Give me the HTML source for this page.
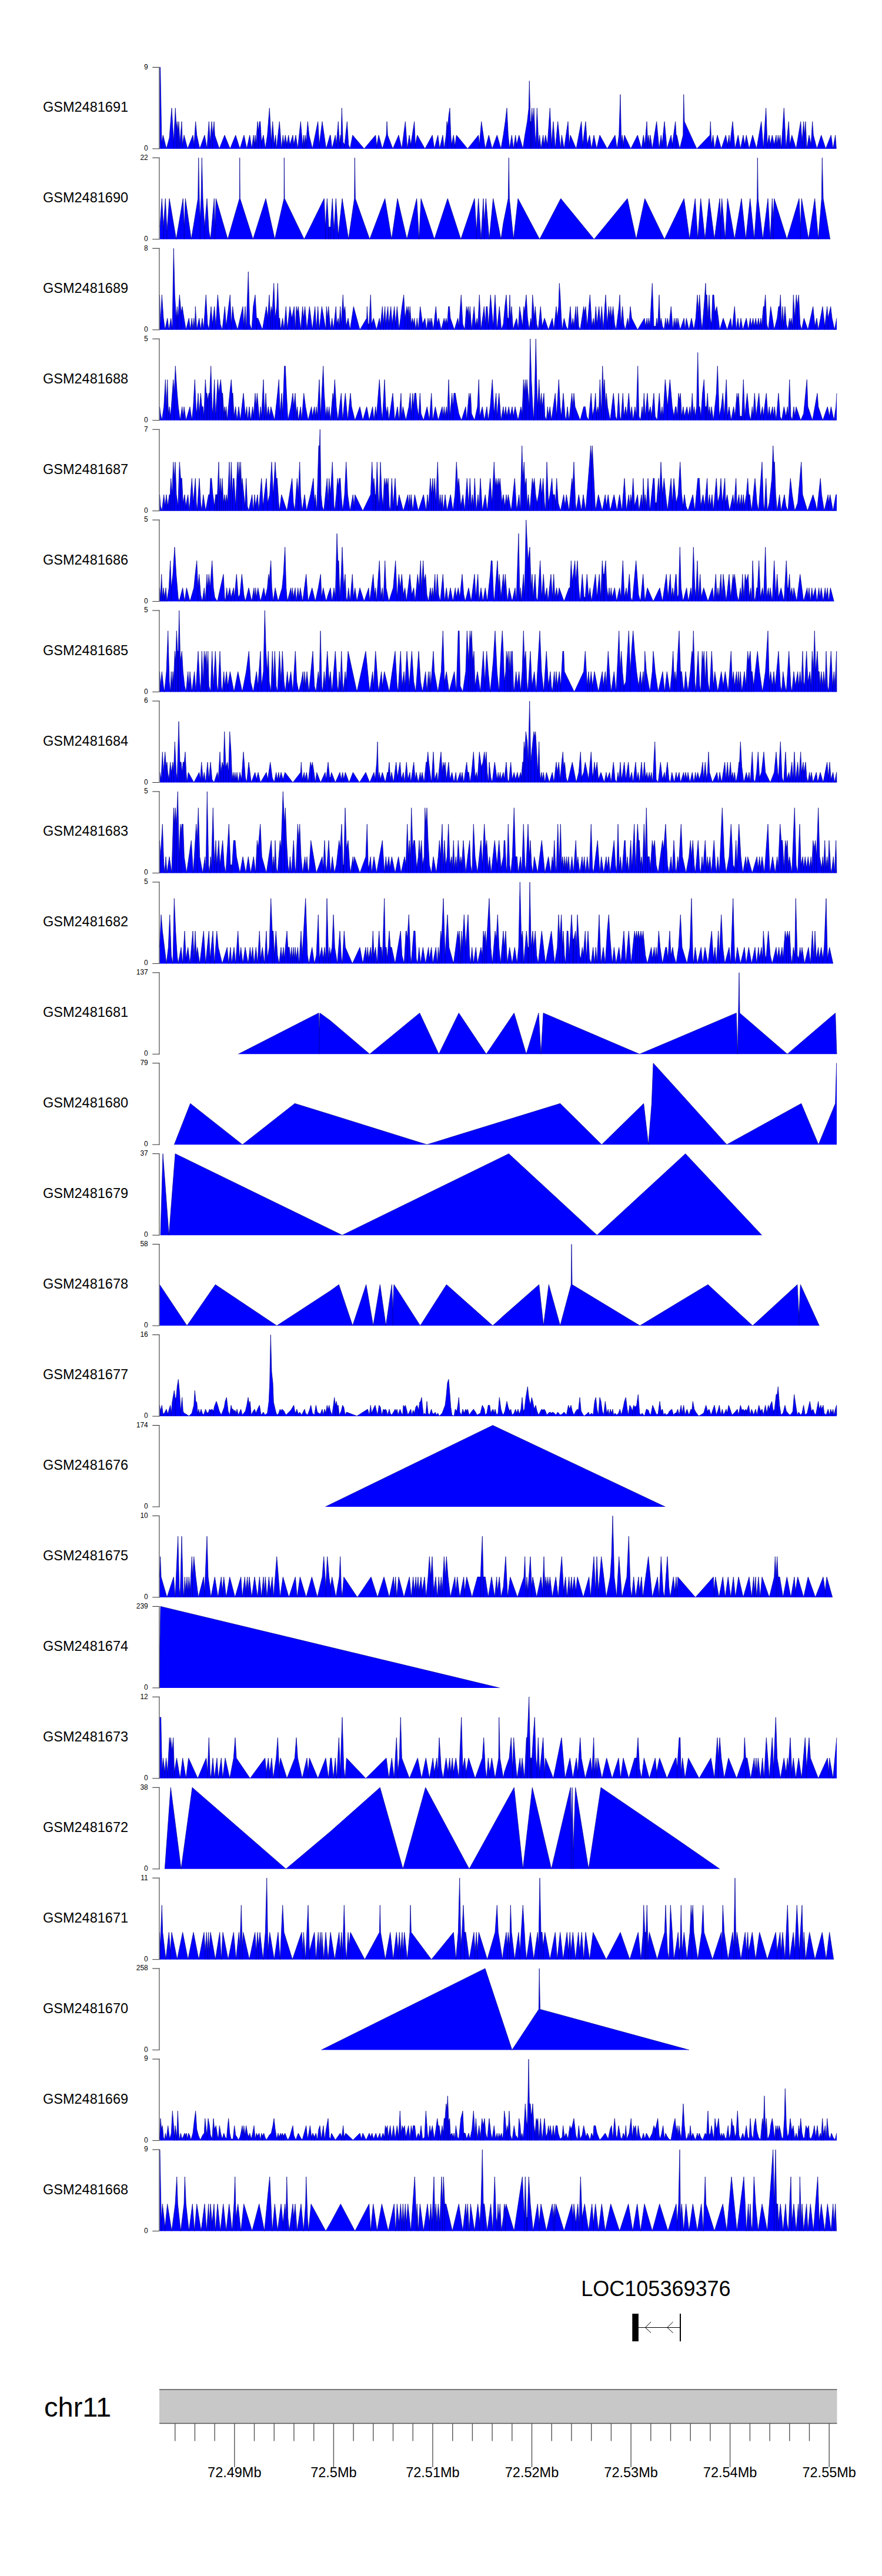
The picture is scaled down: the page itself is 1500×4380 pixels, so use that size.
<!DOCTYPE html><html><head><meta charset="utf-8"><style>html,body{margin:0;padding:0;background:#fff;}svg{display:block;}text{font-family:"Liberation Sans",sans-serif;}</style></head><body>
<svg width="1500" height="4380" viewBox="0 0 1500 4380">
<rect width="1500" height="4380" fill="#fff"/>
<text x="73" y="189.9" font-size="23.5" fill="#000">GSM2481691</text>
<polygon points="271.5,252.9 271.5,114.4 272.7,114.4 275,242.7 277.3,229.8 283,252.9 288,234.4 292,183.7 295.3,241.4 298.3,183.7 300,218.3 301.3,206.7 302.7,222.9 304,206.7 306,243.7 309,206.7 310.3,246 313,229.8 319,252.9 328,229.8 330,246 332.7,206.7 334.7,229.8 339.7,252.9 348,229.8 352,252.9 355.3,206.7 357.3,241.4 360,206.7 361.7,229.8 364,206.7 365.3,229.8 373,252.9 382,229.8 391.3,252.9 400.7,229.8 408,252.9 415,229.8 419.7,252.9 424.7,229.8 428,252.9 431.3,229.8 432.7,246 434,229.8 435.3,246 438,206.7 439.7,222.9 441.3,206.7 442.7,206.7 444.7,241.4 448,229.8 451.3,252.9 454.7,229.8 458.3,183.7 461.3,241.4 463.7,206.7 466.3,246 468.7,229.8 470.3,252.9 475.3,206.7 478.7,252.9 481.3,229.8 483,246 485.3,229.8 488,246 490.7,229.8 493,246 498,229.8 499.7,246 503,229.8 506.3,252.9 511.3,206.7 514.7,248.3 516.3,229.8 517.7,246 519,229.8 520.7,241.4 523.3,206.7 525.7,229.8 531.3,252.9 540.7,206.7 543,246 548,206.7 554.7,252.9 561.3,229.8 562,229.8 564.7,252.9 570.3,229.8 572,246 575.3,206.7 577.3,246 578.7,229.8 579.7,241.4 581.3,183.7 583.3,241.4 586,246 590.3,206.7 592.7,246 595.3,252.9 599.7,229.8 619.3,252.9 638.7,229.8 640.7,248.3 644,229.8 650.3,252.9 657,229.8 658,206.7 659.3,229.8 668,252.9 678,229.8 683.3,252.9 689.3,206.7 692.7,252.9 696,229.8 698.7,246 704.7,206.7 706.3,246 709.7,229.8 722.7,252.9 735.3,229.8 738.7,252.9 744.7,229.8 747.7,252.9 753,229.8 755.3,252.9 758.7,229.8 760,206.7 761.3,216 763.3,195.2 765,183.7 766.7,229.8 768,246 771.3,229.8 773.7,248.3 776.3,229.8 795.3,252.9 813.7,229.8 815.3,246 818.7,206.7 825.3,252.9 831.3,229.8 837,252.9 845.3,229.8 852,252.9 856,229.8 859.3,206.7 862,183.7 864.3,229.8 866.7,252.9 870.3,229.8 873.3,252.9 876.7,229.8 878.7,246 882.7,229.8 889.3,252.9 892.7,229.8 896.7,206.7 899.3,183.7 900.3,137.5 902,206.7 903.3,206.7 904.7,183.7 906,206.7 908,183.7 910,229.8 911.3,246 913.3,183.7 916,246 917.7,229.8 920,252.9 923.7,229.8 925.3,246 927.7,229.8 931,246 935.3,183.7 938,246 941,206.7 944.3,252.9 948.7,206.7 953.3,252.9 955.3,229.8 959.3,252.9 966,206.7 968,246 970,229.8 980,252.9 988.7,206.7 991,246 996,206.7 998.7,246 1002.7,229.8 1006,252.9 1010,229.8 1014.7,252.9 1020,229.8 1032.7,252.9 1046,229.8 1049.3,252.9 1052.7,229.8 1055,160.6 1056.7,241.4 1058.3,229.8 1060,246 1062,229.8 1072.7,252.9 1084.3,229.8 1091,252.9 1094.3,229.8 1096.7,246 1100,206.7 1101.7,241.4 1103.3,229.8 1104.7,246 1106,229.8 1109.3,252.9 1116.7,206.7 1121,252.9 1124.3,229.8 1126,246 1130,206.7 1134.3,252.9 1141.3,229.8 1143.3,246 1148.7,206.7 1150,229.8 1151,229.8 1156,252.9 1161.7,229.8 1162.7,160.6 1164,206.7 1185,252.9 1207.3,229.8 1208.3,206.7 1210,246 1212.7,229.8 1215.3,252.9 1220,229.8 1226.7,252.9 1234.3,229.8 1237.3,246 1240,229.8 1241.3,246 1246,206.7 1250,252.9 1255.3,229.8 1259.3,252.9 1264,229.8 1266.7,246 1269.3,229.8 1274,252.9 1280,229.8 1286.7,252.9 1294.7,206.7 1298.3,252.9 1302.7,183.7 1305,246 1308,229.8 1310,246 1313.3,229.8 1316.7,246 1320,229.8 1321.3,246 1323.3,229.8 1325,241.4 1326.7,229.8 1328.7,252.9 1333.3,183.7 1336.7,252.9 1341.3,206.7 1343.3,246 1346.7,229.8 1354,252.9 1361.7,206.7 1364,241.4 1366.7,206.7 1368.3,229.8 1370,206.7 1372,252.9 1376,229.8 1379.3,246 1381.7,206.7 1383.3,229.8 1389.3,252.9 1396.7,229.8 1404.3,252.9 1413.3,229.8 1416.7,252.9 1420.7,229.8 1422.3,252.9 1422.3,252.9" fill="#0000ff" stroke="none"/>
<polyline points="271.5,114.4 272.7,114.4 275,242.7 277.3,229.8 283,252.9 288,234.4 292,183.7 295.3,241.4 298.3,183.7 300,218.3 301.3,206.7 302.7,222.9 304,206.7 306,243.7 309,206.7 310.3,246 313,229.8 319,252.9 328,229.8 330,246 332.7,206.7 334.7,229.8 339.7,252.9 348,229.8 352,252.9 355.3,206.7 357.3,241.4 360,206.7 361.7,229.8 364,206.7 365.3,229.8 373,252.9 382,229.8 391.3,252.9 400.7,229.8 408,252.9 415,229.8 419.7,252.9 424.7,229.8 428,252.9 431.3,229.8 432.7,246 434,229.8 435.3,246 438,206.7 439.7,222.9 441.3,206.7 442.7,206.7 444.7,241.4 448,229.8 451.3,252.9 454.7,229.8 458.3,183.7 461.3,241.4 463.7,206.7 466.3,246 468.7,229.8 470.3,252.9 475.3,206.7 478.7,252.9 481.3,229.8 483,246 485.3,229.8 488,246 490.7,229.8 493,246 498,229.8 499.7,246 503,229.8 506.3,252.9 511.3,206.7 514.7,248.3 516.3,229.8 517.7,246 519,229.8 520.7,241.4 523.3,206.7 525.7,229.8 531.3,252.9 540.7,206.7 543,246 548,206.7 554.7,252.9 561.3,229.8 562,229.8 564.7,252.9 570.3,229.8 572,246 575.3,206.7 577.3,246 578.7,229.8 579.7,241.4 581.3,183.7 583.3,241.4 586,246 590.3,206.7 592.7,246 595.3,252.9 599.7,229.8 619.3,252.9 638.7,229.8 640.7,248.3 644,229.8 650.3,252.9 657,229.8 658,206.7 659.3,229.8 668,252.9 678,229.8 683.3,252.9 689.3,206.7 692.7,252.9 696,229.8 698.7,246 704.7,206.7 706.3,246 709.7,229.8 722.7,252.9 735.3,229.8 738.7,252.9 744.7,229.8 747.7,252.9 753,229.8 755.3,252.9 758.7,229.8 760,206.7 761.3,216 763.3,195.2 765,183.7 766.7,229.8 768,246 771.3,229.8 773.7,248.3 776.3,229.8 795.3,252.9 813.7,229.8 815.3,246 818.7,206.7 825.3,252.9 831.3,229.8 837,252.9 845.3,229.8 852,252.9 856,229.8 859.3,206.7 862,183.7 864.3,229.8 866.7,252.9 870.3,229.8 873.3,252.9 876.7,229.8 878.7,246 882.7,229.8 889.3,252.9 892.7,229.8 896.7,206.7 899.3,183.7 900.3,137.5 902,206.7 903.3,206.7 904.7,183.7 906,206.7 908,183.7 910,229.8 911.3,246 913.3,183.7 916,246 917.7,229.8 920,252.9 923.7,229.8 925.3,246 927.7,229.8 931,246 935.3,183.7 938,246 941,206.7 944.3,252.9 948.7,206.7 953.3,252.9 955.3,229.8 959.3,252.9 966,206.7 968,246 970,229.8 980,252.9 988.7,206.7 991,246 996,206.7 998.7,246 1002.7,229.8 1006,252.9 1010,229.8 1014.7,252.9 1020,229.8 1032.7,252.9 1046,229.8 1049.3,252.9 1052.7,229.8 1055,160.6 1056.7,241.4 1058.3,229.8 1060,246 1062,229.8 1072.7,252.9 1084.3,229.8 1091,252.9 1094.3,229.8 1096.7,246 1100,206.7 1101.7,241.4 1103.3,229.8 1104.7,246 1106,229.8 1109.3,252.9 1116.7,206.7 1121,252.9 1124.3,229.8 1126,246 1130,206.7 1134.3,252.9 1141.3,229.8 1143.3,246 1148.7,206.7 1150,229.8 1151,229.8 1156,252.9 1161.7,229.8 1162.7,160.6 1164,206.7 1185,252.9 1207.3,229.8 1208.3,206.7 1210,246 1212.7,229.8 1215.3,252.9 1220,229.8 1226.7,252.9 1234.3,229.8 1237.3,246 1240,229.8 1241.3,246 1246,206.7 1250,252.9 1255.3,229.8 1259.3,252.9 1264,229.8 1266.7,246 1269.3,229.8 1274,252.9 1280,229.8 1286.7,252.9 1294.7,206.7 1298.3,252.9 1302.7,183.7 1305,246 1308,229.8 1310,246 1313.3,229.8 1316.7,246 1320,229.8 1321.3,246 1323.3,229.8 1325,241.4 1326.7,229.8 1328.7,252.9 1333.3,183.7 1336.7,252.9 1341.3,206.7 1343.3,246 1346.7,229.8 1354,252.9 1361.7,206.7 1364,241.4 1366.7,206.7 1368.3,229.8 1370,206.7 1372,252.9 1376,229.8 1379.3,246 1381.7,206.7 1383.3,229.8 1389.3,252.9 1396.7,229.8 1404.3,252.9 1413.3,229.8 1416.7,252.9 1420.7,229.8 1422.3,252.9" fill="none" stroke="#000088" stroke-width="0.7"/>
<path d="M275,252.9V242.7M295.3,252.9V241.4M300,252.9V218.3M302.7,252.9V222.9M306,252.9V243.7M310.3,252.9V246M330,252.9V246M357.3,252.9V241.4M361.7,252.9V229.8M432.7,252.9V246M435.3,252.9V246M439.7,252.9V222.9M444.7,252.9V241.4M461.3,252.9V241.4M466.3,252.9V246M483,252.9V246M488,252.9V246M493,252.9V246M499.7,252.9V246M514.7,252.9V248.3M517.7,252.9V246M520.7,252.9V241.4M543,252.9V246M572,252.9V246M577.3,252.9V246M579.7,252.9V241.4M586,252.9V246M640.7,252.9V248.3M698.7,252.9V246M706.3,252.9V246M761.3,252.9V216M768,252.9V246M773.7,252.9V248.3M815.3,252.9V246M878.7,252.9V246M902,252.9V206.7M903.3,252.9V206.7M906,252.9V206.7M911.3,252.9V246M916,252.9V246M925.3,252.9V246M931,252.9V246M938,252.9V246M968,252.9V246M991,252.9V246M998.7,252.9V246M1056.7,252.9V241.4M1060,252.9V246M1096.7,252.9V246M1101.7,252.9V241.4M1104.7,252.9V246M1126,252.9V246M1143.3,252.9V246M1150,252.9V229.8M1210,252.9V246M1237.3,252.9V246M1241.3,252.9V246M1266.7,252.9V246M1305,252.9V246M1310,252.9V246M1316.7,252.9V246M1321.3,252.9V246M1325,252.9V241.4M1343.3,252.9V246M1364,252.9V241.4M1368.3,252.9V229.8M1379.3,252.9V246" fill="none" stroke="#000088" stroke-width="0.8"/>
<path d="M259.2,114.4 H271.4" fill="none" stroke="#222" stroke-width="1"/>
<path d="M259.2,252.9 H271.4" fill="none" stroke="#333" stroke-width="1"/>
<path d="M270.9,113.9 V253.4" fill="none" stroke="#555" stroke-width="1.3"/>
<text x="251.8" y="117.7" font-size="12" text-anchor="end" fill="#000">9</text>
<text x="251.8" y="255.9" font-size="12" text-anchor="end" fill="#000">0</text>
<text x="73" y="343.8" font-size="23.5" fill="#000">GSM2481690</text>
<polygon points="272,406.8 272,386.1 275.3,337.6 278,386.1 281.3,337.6 284,393 288,337.6 299.7,406.8 311.3,337.6 313.3,386.1 315.3,337.6 325.3,406.8 336.7,337.6 337.7,268.3 339,337.6 340.3,372.2 342,337.6 343.3,268.3 345,337.6 348,386.1 352,337.6 355.3,393 358,406.8 364.3,337.6 365.7,386.1 367.3,337.6 387.3,406.8 407.3,337.6 407.7,268.3 408.3,337.6 430.3,406.8 452,337.6 467.3,406.8 483,337.6 483.3,268.3 484,337.6 517.3,406.8 551.3,337.6 553.3,386.1 556.3,337.6 559,386.1 562,386.1 565.3,337.6 568,393 571.3,337.6 575.3,399.9 582,337.6 592.7,406.8 602.7,337.6 603.3,268.3 604.3,337.6 628.7,406.8 654.7,337.6 666,406.8 676,337.6 692,406.8 708.7,337.6 712.7,406.8 716,337.6 738.7,406.8 761.3,337.6 783.7,406.8 807,337.6 810.3,393 813.7,337.6 818,406.8 822,337.6 823.7,379.1 826.3,337.6 832,406.8 838.7,337.6 852,406.8 856,379.1 864.3,337.6 865.3,268.3 866.3,337.6 873.3,406.8 881,337.6 917.7,406.8 953.7,337.6 1010.3,406.8 1067,337.6 1082,406.8 1096.7,337.6 1130,406.8 1150,365.3 1163.3,337.6 1172.7,406.8 1182.3,337.6 1186.7,406.8 1191.7,337.6 1199,406.8 1206,337.6 1215,406.8 1224,337.6 1225.7,372.2 1227.7,337.6 1233.3,406.8 1237.3,337.6 1249.3,406.8 1261,337.6 1268.3,406.8 1275.7,337.6 1282.7,406.8 1287.7,337.6 1288.3,268.3 1289.3,337.6 1297.3,406.8 1306,337.6 1310,406.8 1313.3,337.6 1315,372.2 1316.7,337.6 1338.3,406.8 1359,337.6 1361.3,386.1 1363.3,337.6 1375,406.8 1385.7,337.6 1391.7,406.8 1397.3,337.6 1398.3,268.3 1400,337.6 1411.7,406.8 1411.7,406.8" fill="#0000ff" stroke="none"/>
<polyline points="272,386.1 275.3,337.6 278,386.1 281.3,337.6 284,393 288,337.6 299.7,406.8 311.3,337.6 313.3,386.1 315.3,337.6 325.3,406.8 336.7,337.6 337.7,268.3 339,337.6 340.3,372.2 342,337.6 343.3,268.3 345,337.6 348,386.1 352,337.6 355.3,393 358,406.8 364.3,337.6 365.7,386.1 367.3,337.6 387.3,406.8 407.3,337.6 407.7,268.3 408.3,337.6 430.3,406.8 452,337.6 467.3,406.8 483,337.6 483.3,268.3 484,337.6 517.3,406.8 551.3,337.6 553.3,386.1 556.3,337.6 559,386.1 562,386.1 565.3,337.6 568,393 571.3,337.6 575.3,399.9 582,337.6 592.7,406.8 602.7,337.6 603.3,268.3 604.3,337.6 628.7,406.8 654.7,337.6 666,406.8 676,337.6 692,406.8 708.7,337.6 712.7,406.8 716,337.6 738.7,406.8 761.3,337.6 783.7,406.8 807,337.6 810.3,393 813.7,337.6 818,406.8 822,337.6 823.7,379.1 826.3,337.6 832,406.8 838.7,337.6 852,406.8 856,379.1 864.3,337.6 865.3,268.3 866.3,337.6 873.3,406.8 881,337.6 917.7,406.8 953.7,337.6 1010.3,406.8 1067,337.6 1082,406.8 1096.7,337.6 1130,406.8 1150,365.3 1163.3,337.6 1172.7,406.8 1182.3,337.6 1186.7,406.8 1191.7,337.6 1199,406.8 1206,337.6 1215,406.8 1224,337.6 1225.7,372.2 1227.7,337.6 1233.3,406.8 1237.3,337.6 1249.3,406.8 1261,337.6 1268.3,406.8 1275.7,337.6 1282.7,406.8 1287.7,337.6 1288.3,268.3 1289.3,337.6 1297.3,406.8 1306,337.6 1310,406.8 1313.3,337.6 1315,372.2 1316.7,337.6 1338.3,406.8 1359,337.6 1361.3,386.1 1363.3,337.6 1375,406.8 1385.7,337.6 1391.7,406.8 1397.3,337.6 1398.3,268.3 1400,337.6 1411.7,406.8" fill="none" stroke="#000088" stroke-width="0.7"/>
<path d="M278,406.8V386.1M284,406.8V393M313.3,406.8V386.1M340.3,406.8V372.2M348,406.8V386.1M365.7,406.8V386.1M553.3,406.8V386.1M559,406.8V386.1M562,406.8V386.1M568,406.8V393M575.3,406.8V399.9M810.3,406.8V393M823.7,406.8V379.1M1225.7,406.8V372.2M1315,406.8V372.2M1361.3,406.8V386.1" fill="none" stroke="#000088" stroke-width="0.8"/>
<path d="M259.2,268.3 H271.4" fill="none" stroke="#222" stroke-width="1"/>
<path d="M259.2,406.8 H271.4" fill="none" stroke="#333" stroke-width="1"/>
<path d="M270.9,267.8 V407.3" fill="none" stroke="#555" stroke-width="1.3"/>
<text x="251.8" y="271.6" font-size="12" text-anchor="end" fill="#000">22</text>
<text x="251.8" y="409.8" font-size="12" text-anchor="end" fill="#000">0</text>
<text x="73" y="497.8" font-size="23.5" fill="#000">GSM2481689</text>
<polygon points="271.5,560.8 271.5,501.4 273,550.9 275.3,501.4 278,541 280.7,560.8 284.7,541 287.3,560.8 290.7,541 293,560.8 295.3,422.3 297.3,501.4 299.7,541 301.3,521.2 302.7,541 305.3,501.4 308,531.1 310,521.2 313,541 316.3,560.8 321.3,541 323.7,560.8 326.3,541 328,560.8 329.7,541 331.3,560.8 332.3,521.2 334.7,560.8 338.7,541 341.3,560.8 344,541 346.3,560.8 350.3,501.4 353,550.9 355.3,560.8 359,521.2 361.3,550.9 364.7,521.2 367,554.8 370.3,501.4 372,521.2 374.7,550.9 378,560.8 382.3,521.2 384.7,554.8 391.3,501.4 393.3,550.9 395.7,521.2 398,541 404,560.8 413,521.2 414.7,554.8 417,521.2 418.7,560.8 422.3,461.9 424.7,550.9 428,560.8 430.7,521.2 434,501.4 436.3,541 438.7,541 446.3,560.8 453,521.2 455.3,541 458,501.4 459.7,541 461.3,521.2 463,531.1 465.7,481.6 468,541 470.7,521.2 472.3,481.6 474.3,541 475.7,541 477.3,560.8 480.7,541 483,560.8 486.3,521.2 488.7,560.8 493,521.2 496.3,541 500.3,521.2 502.3,560.8 504,521.2 505.7,531.1 507.3,521.2 511.3,560.8 514.7,521.2 516.3,541 518.7,521.2 522,560.8 526.3,521.2 531.3,560.8 535.7,521.2 538,560.8 540.7,521.2 543,560.8 547.3,521.2 550.7,541 554,560.8 555.3,521.2 557.3,541 558.7,521.2 562,560.8 564.7,541 567,560.8 571.3,521.2 572.7,550.9 575.3,541 576.7,554.8 578.7,521.2 580.3,550.9 583.3,501.4 584.7,531.1 586.7,521.2 588.7,554.8 592,541 595.3,560.8 601.3,521.2 612,560.8 623.7,541 624.3,521.2 626,550.9 627.7,550.9 630.3,501.4 632,550.9 635.3,541 640.3,560.8 645.3,541 647,554.8 650.3,521.2 652,550.9 654.7,521.2 656,550.9 659.7,521.2 661.3,550.9 664.7,521.2 667,550.9 670.7,521.2 672.7,550.9 675.3,521.2 678.7,560.8 683.7,521.2 686.7,501.4 688.7,541 692,521.2 693.3,531.1 694.7,521.2 696,541 697.3,521.2 699.3,550.9 701.3,541 703.3,550.9 704.7,541 707,560.8 709.3,541 711.3,560.8 714.7,521.2 718.7,550.9 722.7,541 725.3,560.8 728,541 729.7,550.9 731.3,541 732.7,550.9 734,541 737,560.8 741.3,521.2 743.7,550.9 746,541 750.3,560.8 755.3,541 757,550.9 758.7,541 760.7,550.9 762.7,521.2 764.3,521.2 766,541 772.7,560.8 778.7,541 780.3,554.8 784.3,501.4 787,550.9 790.3,560.8 793.3,521.2 794.7,531.1 796.3,521.2 798,541 799.3,521.2 802,560.8 806.3,521.2 808.7,554.8 811.3,541 812.7,554.8 815.3,501.4 818,560.8 823.3,521.2 825.3,550.9 827,521.2 828.7,521.2 830.7,554.8 834.3,501.4 838.7,554.8 842,501.4 845.3,560.8 849.3,521.2 852.7,560.8 856,550.9 858.7,521.2 861,501.4 863.3,541 865.3,541 867,501.4 868.3,541 870,521.2 872.7,560.8 875.3,550.9 878.7,541 881.3,560.8 883.7,521.2 886.7,541 888.7,554.8 890.7,521.2 892,531.1 895,501.4 897.3,541 900,560.8 902.7,541 904,550.9 905.7,501.4 907.3,521.2 908.7,541 910.3,521.2 912.7,550.9 915.3,560.8 919.3,521.2 922,554.8 926,541 932.7,560.8 939.3,541 942,560.8 946,521.2 947.7,541 950,521.2 951.3,481.6 952.7,501.4 954.7,541 956,560.8 959.3,541 962.7,554.8 966,560.8 970,521.2 972,554.8 974.3,541 976,554.8 979.3,521.2 980.7,550.9 982,521.2 984.3,554.8 986.7,560.8 992.7,521.2 994,531.1 996,521.2 998.7,554.8 1003.3,501.4 1006.7,554.8 1009.3,541 1011,554.8 1013.3,521.2 1015.3,550.9 1018.7,521.2 1021,550.9 1023.3,521.2 1026,560.8 1030,501.4 1032.7,550.9 1035.3,521.2 1037,541 1038.7,521.2 1040.3,541 1042.7,521.2 1045.3,550.9 1047.7,560.8 1052.7,521.2 1054,501.4 1056,550.9 1058.7,521.2 1061,550.9 1063.3,560.8 1067.7,541 1069.3,554.8 1072,521.2 1074.3,541 1084.3,560.8 1096,541 1097.7,554.8 1100.3,541 1101.7,554.8 1103.3,541 1105.3,554.8 1109.3,481.6 1112,554.8 1115.3,554.8 1117,541 1118.7,554.8 1121,501.4 1122.7,550.9 1124.3,541 1126.7,554.8 1129.3,560.8 1132,541 1133.3,554.8 1135.3,541 1137.7,554.8 1141.3,521.2 1144.3,560.8 1146.7,541 1148,554.8 1150,541 1151.7,554.8 1152.7,541 1156.7,560.8 1163.3,541 1165,560.8 1167.3,541 1171.7,560.8 1176,541 1180,560.8 1183.3,541 1186,501.4 1188,531.1 1189.7,501.4 1192,541 1194,560.8 1197.3,521.2 1198.7,501.4 1200,481.6 1200.7,501.4 1202.3,501.4 1204,541 1206,501.4 1208,541 1210,550.9 1212,501.4 1214,501.4 1216,531.1 1219,521.2 1221.7,541 1224,560.8 1230,541 1236.7,560.8 1242.7,541 1245,560.8 1249.3,521.2 1252,560.8 1255,541 1257.3,560.8 1260,541 1263.3,560.8 1269.3,541 1272.7,560.8 1276,541 1278,554.8 1280.7,541 1282.7,554.8 1285.3,541 1287.3,554.8 1290,541 1291.7,554.8 1294,541 1295.3,554.8 1298.3,521.2 1300,521.2 1301.7,501.4 1304,550.9 1306.7,560.8 1310.7,521.2 1316.7,560.8 1321.7,541 1324,521.2 1326,521.2 1327.3,501.4 1329.3,550.9 1331,521.2 1332.7,550.9 1335,521.2 1337.3,550.9 1340,560.8 1342.7,541 1344,550.9 1345.7,541 1347.7,554.8 1349.3,501.4 1351.7,541 1354.3,501.4 1356,521.2 1358.3,501.4 1360.7,550.9 1363.3,560.8 1367.3,541 1374,560.8 1382.7,521.2 1386,554.8 1389,541 1391.7,560.8 1399,521.2 1402.7,554.8 1406.7,521.2 1408.3,541 1412.7,521.2 1415,541 1419.3,560.8 1423,541 1423,560.8" fill="#0000ff" stroke="none"/>
<polyline points="271.5,501.4 273,550.9 275.3,501.4 278,541 280.7,560.8 284.7,541 287.3,560.8 290.7,541 293,560.8 295.3,422.3 297.3,501.4 299.7,541 301.3,521.2 302.7,541 305.3,501.4 308,531.1 310,521.2 313,541 316.3,560.8 321.3,541 323.7,560.8 326.3,541 328,560.8 329.7,541 331.3,560.8 332.3,521.2 334.7,560.8 338.7,541 341.3,560.8 344,541 346.3,560.8 350.3,501.4 353,550.9 355.3,560.8 359,521.2 361.3,550.9 364.7,521.2 367,554.8 370.3,501.4 372,521.2 374.7,550.9 378,560.8 382.3,521.2 384.7,554.8 391.3,501.4 393.3,550.9 395.7,521.2 398,541 404,560.8 413,521.2 414.7,554.8 417,521.2 418.7,560.8 422.3,461.9 424.7,550.9 428,560.8 430.7,521.2 434,501.4 436.3,541 438.7,541 446.3,560.8 453,521.2 455.3,541 458,501.4 459.7,541 461.3,521.2 463,531.1 465.7,481.6 468,541 470.7,521.2 472.3,481.6 474.3,541 475.7,541 477.3,560.8 480.7,541 483,560.8 486.3,521.2 488.7,560.8 493,521.2 496.3,541 500.3,521.2 502.3,560.8 504,521.2 505.7,531.1 507.3,521.2 511.3,560.8 514.7,521.2 516.3,541 518.7,521.2 522,560.8 526.3,521.2 531.3,560.8 535.7,521.2 538,560.8 540.7,521.2 543,560.8 547.3,521.2 550.7,541 554,560.8 555.3,521.2 557.3,541 558.7,521.2 562,560.8 564.7,541 567,560.8 571.3,521.2 572.7,550.9 575.3,541 576.7,554.8 578.7,521.2 580.3,550.9 583.3,501.4 584.7,531.1 586.7,521.2 588.7,554.8 592,541 595.3,560.8 601.3,521.2 612,560.8 623.7,541 624.3,521.2 626,550.9 627.7,550.9 630.3,501.4 632,550.9 635.3,541 640.3,560.8 645.3,541 647,554.8 650.3,521.2 652,550.9 654.7,521.2 656,550.9 659.7,521.2 661.3,550.9 664.7,521.2 667,550.9 670.7,521.2 672.7,550.9 675.3,521.2 678.7,560.8 683.7,521.2 686.7,501.4 688.7,541 692,521.2 693.3,531.1 694.7,521.2 696,541 697.3,521.2 699.3,550.9 701.3,541 703.3,550.9 704.7,541 707,560.8 709.3,541 711.3,560.8 714.7,521.2 718.7,550.9 722.7,541 725.3,560.8 728,541 729.7,550.9 731.3,541 732.7,550.9 734,541 737,560.8 741.3,521.2 743.7,550.9 746,541 750.3,560.8 755.3,541 757,550.9 758.7,541 760.7,550.9 762.7,521.2 764.3,521.2 766,541 772.7,560.8 778.7,541 780.3,554.8 784.3,501.4 787,550.9 790.3,560.8 793.3,521.2 794.7,531.1 796.3,521.2 798,541 799.3,521.2 802,560.8 806.3,521.2 808.7,554.8 811.3,541 812.7,554.8 815.3,501.4 818,560.8 823.3,521.2 825.3,550.9 827,521.2 828.7,521.2 830.7,554.8 834.3,501.4 838.7,554.8 842,501.4 845.3,560.8 849.3,521.2 852.7,560.8 856,550.9 858.7,521.2 861,501.4 863.3,541 865.3,541 867,501.4 868.3,541 870,521.2 872.7,560.8 875.3,550.9 878.7,541 881.3,560.8 883.7,521.2 886.7,541 888.7,554.8 890.7,521.2 892,531.1 895,501.4 897.3,541 900,560.8 902.7,541 904,550.9 905.7,501.4 907.3,521.2 908.7,541 910.3,521.2 912.7,550.9 915.3,560.8 919.3,521.2 922,554.8 926,541 932.7,560.8 939.3,541 942,560.8 946,521.2 947.7,541 950,521.2 951.3,481.6 952.7,501.4 954.7,541 956,560.8 959.3,541 962.7,554.8 966,560.8 970,521.2 972,554.8 974.3,541 976,554.8 979.3,521.2 980.7,550.9 982,521.2 984.3,554.8 986.7,560.8 992.7,521.2 994,531.1 996,521.2 998.7,554.8 1003.3,501.4 1006.7,554.8 1009.3,541 1011,554.8 1013.3,521.2 1015.3,550.9 1018.7,521.2 1021,550.9 1023.3,521.2 1026,560.8 1030,501.4 1032.7,550.9 1035.3,521.2 1037,541 1038.7,521.2 1040.3,541 1042.7,521.2 1045.3,550.9 1047.7,560.8 1052.7,521.2 1054,501.4 1056,550.9 1058.7,521.2 1061,550.9 1063.3,560.8 1067.7,541 1069.3,554.8 1072,521.2 1074.3,541 1084.3,560.8 1096,541 1097.7,554.8 1100.3,541 1101.7,554.8 1103.3,541 1105.3,554.8 1109.3,481.6 1112,554.8 1115.3,554.8 1117,541 1118.7,554.8 1121,501.4 1122.7,550.9 1124.3,541 1126.7,554.8 1129.3,560.8 1132,541 1133.3,554.8 1135.3,541 1137.7,554.8 1141.3,521.2 1144.3,560.8 1146.7,541 1148,554.8 1150,541 1151.7,554.8 1152.7,541 1156.7,560.8 1163.3,541 1165,560.8 1167.3,541 1171.7,560.8 1176,541 1180,560.8 1183.3,541 1186,501.4 1188,531.1 1189.7,501.4 1192,541 1194,560.8 1197.3,521.2 1198.7,501.4 1200,481.6 1200.7,501.4 1202.3,501.4 1204,541 1206,501.4 1208,541 1210,550.9 1212,501.4 1214,501.4 1216,531.1 1219,521.2 1221.7,541 1224,560.8 1230,541 1236.7,560.8 1242.7,541 1245,560.8 1249.3,521.2 1252,560.8 1255,541 1257.3,560.8 1260,541 1263.3,560.8 1269.3,541 1272.7,560.8 1276,541 1278,554.8 1280.7,541 1282.7,554.8 1285.3,541 1287.3,554.8 1290,541 1291.7,554.8 1294,541 1295.3,554.8 1298.3,521.2 1300,521.2 1301.7,501.4 1304,550.9 1306.7,560.8 1310.7,521.2 1316.7,560.8 1321.7,541 1324,521.2 1326,521.2 1327.3,501.4 1329.3,550.9 1331,521.2 1332.7,550.9 1335,521.2 1337.3,550.9 1340,560.8 1342.7,541 1344,550.9 1345.7,541 1347.7,554.8 1349.3,501.4 1351.7,541 1354.3,501.4 1356,521.2 1358.3,501.4 1360.7,550.9 1363.3,560.8 1367.3,541 1374,560.8 1382.7,521.2 1386,554.8 1389,541 1391.7,560.8 1399,521.2 1402.7,554.8 1406.7,521.2 1408.3,541 1412.7,521.2 1415,541 1419.3,560.8 1423,541" fill="none" stroke="#000088" stroke-width="0.7"/>
<path d="M273,560.8V550.9M299.7,560.8V541M302.7,560.8V541M308,560.8V531.1M361.3,560.8V550.9M367,560.8V554.8M384.7,560.8V554.8M393.3,560.8V550.9M414.7,560.8V554.8M436.3,560.8V541M455.3,560.8V541M459.7,560.8V541M463,560.8V531.1M468,560.8V541M474.3,560.8V541M496.3,560.8V541M505.7,560.8V531.1M516.3,560.8V541M557.3,560.8V541M572.7,560.8V550.9M576.7,560.8V554.8M580.3,560.8V550.9M584.7,560.8V531.1M588.7,560.8V554.8M626,560.8V550.9M627.7,560.8V550.9M632,560.8V550.9M647,560.8V554.8M652,560.8V550.9M656,560.8V550.9M661.3,560.8V550.9M667,560.8V550.9M672.7,560.8V550.9M688.7,560.8V541M693.3,560.8V531.1M696,560.8V541M699.3,560.8V550.9M703.3,560.8V550.9M718.7,560.8V550.9M729.7,560.8V550.9M732.7,560.8V550.9M743.7,560.8V550.9M757,560.8V550.9M760.7,560.8V550.9M780.3,560.8V554.8M794.7,560.8V531.1M798,560.8V541M808.7,560.8V554.8M812.7,560.8V554.8M825.3,560.8V550.9M830.7,560.8V554.8M838.7,560.8V554.8M863.3,560.8V541M865.3,560.8V541M868.3,560.8V541M888.7,560.8V554.8M892,560.8V531.1M904,560.8V550.9M908.7,560.8V541M922,560.8V554.8M947.7,560.8V541M972,560.8V554.8M976,560.8V554.8M980.7,560.8V550.9M994,560.8V531.1M998.7,560.8V554.8M1006.7,560.8V554.8M1011,560.8V554.8M1015.3,560.8V550.9M1021,560.8V550.9M1032.7,560.8V550.9M1037,560.8V541M1040.3,560.8V541M1056,560.8V550.9M1069.3,560.8V554.8M1097.7,560.8V554.8M1101.7,560.8V554.8M1105.3,560.8V554.8M1112,560.8V554.8M1115.3,560.8V554.8M1118.7,560.8V554.8M1122.7,560.8V550.9M1133.3,560.8V554.8M1137.7,560.8V554.8M1148,560.8V554.8M1151.7,560.8V554.8M1188,560.8V531.1M1200.7,560.8V501.4M1204,560.8V541M1210,560.8V550.9M1216,560.8V531.1M1278,560.8V554.8M1282.7,560.8V554.8M1287.3,560.8V554.8M1291.7,560.8V554.8M1295.3,560.8V554.8M1300,560.8V521.2M1326,560.8V521.2M1329.3,560.8V550.9M1332.7,560.8V550.9M1344,560.8V550.9M1347.7,560.8V554.8M1351.7,560.8V541M1356,560.8V521.2M1386,560.8V554.8M1402.7,560.8V554.8M1408.3,560.8V541" fill="none" stroke="#000088" stroke-width="0.8"/>
<path d="M259.2,422.3 H271.4" fill="none" stroke="#222" stroke-width="1"/>
<path d="M259.2,560.8 H271.4" fill="none" stroke="#333" stroke-width="1"/>
<path d="M270.9,421.8 V561.3" fill="none" stroke="#555" stroke-width="1.3"/>
<text x="251.8" y="425.6" font-size="12" text-anchor="end" fill="#000">8</text>
<text x="251.8" y="563.8" font-size="12" text-anchor="end" fill="#000">0</text>
<text x="73" y="651.7" font-size="23.5" fill="#000">GSM2481688</text>
<polygon points="271.5,714.7 271.5,691.6 273,703.2 275.3,714.7 278.7,691.6 281.3,645.5 283,691.6 284.7,645.5 286.3,703.2 288,691.6 289.7,707.8 291.3,691.6 294.7,645.5 296.3,668.6 298.3,622.4 299.7,645.5 301.3,668.6 303.3,691.6 306.3,714.7 309.7,691.6 311.3,707.8 313,691.6 316.3,714.7 323,691.6 326.3,714.7 328.7,691.6 331.3,645.5 333.3,691.6 334.7,703.2 337,668.6 338.7,703.2 341.3,668.6 343.3,691.6 345.3,691.6 346.7,707.8 349.3,645.5 350.7,668.6 352,668.6 353.3,680.1 355.3,668.6 356.7,668.6 358.7,622.4 360.7,691.6 362,703.2 364.7,645.5 366.7,707.8 370.3,645.5 372,668.6 375.3,645.5 377.3,668.6 378.7,668.6 380.7,703.2 382,691.6 383.3,703.2 384.7,691.6 386.3,714.7 390.7,668.6 393.3,645.5 394.7,668.6 396,668.6 398,707.8 400.7,691.6 403,714.7 406,691.6 408.7,714.7 414,668.6 417.3,707.8 419.7,691.6 421.3,714.7 424,691.6 426.3,714.7 429.7,691.6 431.3,707.8 434,668.6 435.7,691.6 437.3,668.6 439.3,691.6 441.3,714.7 443,691.6 444.7,707.8 448,645.5 450,707.8 452,668.6 454,707.8 456.3,691.6 458.7,707.8 460.7,691.6 467,714.7 472,668.6 474.3,645.5 476.3,703.2 479,668.6 480.7,703.2 483.7,622.4 485.3,622.4 487.3,668.6 489.7,714.7 494.7,691.6 498,668.6 499.7,691.6 502,668.6 504,703.2 505.7,691.6 507.3,714.7 511.3,691.6 513,714.7 516.7,668.6 519.7,691.6 524,714.7 529.7,691.6 531.3,707.8 534.7,691.6 536.3,707.8 538,691.6 539.7,707.8 543,645.5 545.3,707.8 547.3,668.6 549.7,622.4 551.3,668.6 554,707.8 556.3,691.6 558,707.8 559.7,691.6 562,714.7 566,668.6 567.3,680.1 569.3,645.5 572,691.6 574.7,714.7 580.3,668.6 582.7,714.7 587.3,668.6 591.3,714.7 596,668.6 598,691.6 603.7,714.7 612,691.6 617,714.7 623.7,691.6 628,714.7 633.7,691.6 636,714.7 638.7,691.6 640.3,707.8 645.3,645.5 648,691.6 650.3,714.7 654,645.5 656,691.6 658,703.2 659.3,691.6 661.3,714.7 668,668.6 671.3,714.7 676,691.6 678.7,714.7 682,668.6 683.3,707.8 685.3,691.6 690.3,714.7 695.3,691.6 697.7,668.6 699.3,703.2 702,668.6 703.3,691.6 705.3,668.6 707.3,668.6 709.3,691.6 712,707.8 714.3,668.6 716,703.2 720.3,714.7 726.3,691.6 730.3,714.7 733.7,668.6 736,714.7 740.3,691.6 745.3,714.7 752,691.6 753.7,707.8 755.3,691.6 757,707.8 759.3,691.6 760.7,707.8 763,645.5 765.3,707.8 768.7,668.6 770.3,691.6 772,668.6 774.3,668.6 776,680.1 780.3,703.2 784.7,714.7 792,691.6 793.7,714.7 797.7,668.6 798.7,680.1 800.3,668.6 802,703.2 807,714.7 812,691.6 814.3,645.5 816,707.8 820.3,691.6 823.7,714.7 828,691.6 830.3,714.7 833.7,691.6 837.3,645.5 840.3,703.2 843.7,668.6 845.3,707.8 848.7,668.6 852,714.7 856,691.6 857.7,707.8 860,691.6 862,707.8 865.3,691.6 867.7,707.8 871,691.6 873.3,707.8 876,691.6 881,714.7 886,691.6 888,703.2 890.3,645.5 891.7,668.6 893.3,645.5 894.7,668.6 896,645.5 898,668.6 900,691.6 901.7,576.2 903.7,645.5 906,691.6 907.7,714.7 909.3,668.6 911.3,576.2 913.3,668.6 914.7,691.6 916.7,645.5 918.7,691.6 920.7,668.6 922,691.6 925,668.6 926.7,707.8 929.3,714.7 931.3,691.6 932.7,707.8 935.3,691.6 937.7,714.7 941,691.6 944.3,668.6 946.7,707.8 950.3,645.5 952.7,691.6 954.7,707.8 958,668.6 961,707.8 962.7,714.7 965,691.6 967.7,714.7 972.7,668.6 974,691.6 976,668.6 978,691.6 986.7,714.7 992.7,691.6 995.3,691.6 997.7,707.8 1001,714.7 1005.3,668.6 1007.7,707.8 1011,691.6 1012.7,668.6 1014.3,703.2 1016.7,691.6 1018.3,703.2 1020.3,645.5 1022.7,703.2 1024.7,622.4 1026.7,668.6 1028,645.5 1030,691.6 1031.3,668.6 1033.3,691.6 1037.7,714.7 1043.3,668.6 1046.7,707.8 1049.3,714.7 1052,668.6 1054.3,707.8 1056,714.7 1059.3,668.6 1061.3,707.8 1064,691.6 1066,707.8 1069.3,668.6 1072,707.8 1074.3,691.6 1076.7,714.7 1080,691.6 1082,707.8 1084.7,622.4 1086.7,707.8 1089.3,714.7 1092,691.6 1093.3,707.8 1095.3,668.6 1097.3,707.8 1101,668.6 1103.3,703.2 1106,691.6 1108,707.8 1112,668.6 1114.3,707.8 1117.7,714.7 1121.3,668.6 1123.7,707.8 1126,691.6 1127.7,707.8 1131.3,645.5 1133.3,668.6 1135.3,691.6 1139.3,645.5 1141.3,668.6 1143.3,691.6 1146,707.8 1148.7,691.6 1150,691.6 1151.7,707.8 1154,668.6 1155.7,680.1 1157.3,668.6 1159.3,707.8 1162,691.6 1164,707.8 1168.3,691.6 1170.7,707.8 1173.3,691.6 1175,707.8 1177.3,668.6 1179,703.2 1180.7,691.6 1182.3,707.8 1184.7,691.6 1186.7,599.3 1188.7,691.6 1190,691.6 1192,707.8 1194.7,668.6 1197.3,645.5 1199.3,691.6 1201.7,691.6 1203.3,668.6 1205,703.2 1206.7,691.6 1208.3,707.8 1210,691.6 1213.3,714.7 1218.3,668.6 1220.3,622.4 1223.3,707.8 1226.7,691.6 1229.3,668.6 1231.7,707.8 1235.3,645.5 1237.3,707.8 1240,691.6 1243.3,714.7 1247.7,691.6 1250,707.8 1253.3,668.6 1254.7,680.1 1256,668.6 1258.3,707.8 1261.7,707.8 1264.3,645.5 1266.7,707.8 1270.7,668.6 1274,703.2 1276.7,714.7 1279.3,691.6 1280.7,707.8 1283.3,668.6 1286,707.8 1290.7,668.6 1293.3,707.8 1296.7,691.6 1298.3,707.8 1303.3,668.6 1306,707.8 1308.3,691.6 1310,707.8 1314,691.6 1315.3,707.8 1317.3,691.6 1320,714.7 1324,668.6 1326.7,707.8 1329.3,714.7 1333.3,691.6 1336.7,707.8 1339.3,691.6 1340.7,707.8 1342.7,645.5 1345,707.8 1347.3,714.7 1350,691.6 1351.7,707.8 1354,691.6 1361.7,714.7 1366.7,703.2 1372.3,645.5 1374,691.6 1381.7,714.7 1390,668.6 1391.7,691.6 1399.3,714.7 1407.3,691.6 1410.7,707.8 1413.3,691.6 1418.3,714.7 1421.7,691.6 1423,668.6 1423,714.7" fill="#0000ff" stroke="none"/>
<polyline points="271.5,691.6 273,703.2 275.3,714.7 278.7,691.6 281.3,645.5 283,691.6 284.7,645.5 286.3,703.2 288,691.6 289.7,707.8 291.3,691.6 294.7,645.5 296.3,668.6 298.3,622.4 299.7,645.5 301.3,668.6 303.3,691.6 306.3,714.7 309.7,691.6 311.3,707.8 313,691.6 316.3,714.7 323,691.6 326.3,714.7 328.7,691.6 331.3,645.5 333.3,691.6 334.7,703.2 337,668.6 338.7,703.2 341.3,668.6 343.3,691.6 345.3,691.6 346.7,707.8 349.3,645.5 350.7,668.6 352,668.6 353.3,680.1 355.3,668.6 356.7,668.6 358.7,622.4 360.7,691.6 362,703.2 364.7,645.5 366.7,707.8 370.3,645.5 372,668.6 375.3,645.5 377.3,668.6 378.7,668.6 380.7,703.2 382,691.6 383.3,703.2 384.7,691.6 386.3,714.7 390.7,668.6 393.3,645.5 394.7,668.6 396,668.6 398,707.8 400.7,691.6 403,714.7 406,691.6 408.7,714.7 414,668.6 417.3,707.8 419.7,691.6 421.3,714.7 424,691.6 426.3,714.7 429.7,691.6 431.3,707.8 434,668.6 435.7,691.6 437.3,668.6 439.3,691.6 441.3,714.7 443,691.6 444.7,707.8 448,645.5 450,707.8 452,668.6 454,707.8 456.3,691.6 458.7,707.8 460.7,691.6 467,714.7 472,668.6 474.3,645.5 476.3,703.2 479,668.6 480.7,703.2 483.7,622.4 485.3,622.4 487.3,668.6 489.7,714.7 494.7,691.6 498,668.6 499.7,691.6 502,668.6 504,703.2 505.7,691.6 507.3,714.7 511.3,691.6 513,714.7 516.7,668.6 519.7,691.6 524,714.7 529.7,691.6 531.3,707.8 534.7,691.6 536.3,707.8 538,691.6 539.7,707.8 543,645.5 545.3,707.8 547.3,668.6 549.7,622.4 551.3,668.6 554,707.8 556.3,691.6 558,707.8 559.7,691.6 562,714.7 566,668.6 567.3,680.1 569.3,645.5 572,691.6 574.7,714.7 580.3,668.6 582.7,714.7 587.3,668.6 591.3,714.7 596,668.6 598,691.6 603.7,714.7 612,691.6 617,714.7 623.7,691.6 628,714.7 633.7,691.6 636,714.7 638.7,691.6 640.3,707.8 645.3,645.5 648,691.6 650.3,714.7 654,645.5 656,691.6 658,703.2 659.3,691.6 661.3,714.7 668,668.6 671.3,714.7 676,691.6 678.7,714.7 682,668.6 683.3,707.8 685.3,691.6 690.3,714.7 695.3,691.6 697.7,668.6 699.3,703.2 702,668.6 703.3,691.6 705.3,668.6 707.3,668.6 709.3,691.6 712,707.8 714.3,668.6 716,703.2 720.3,714.7 726.3,691.6 730.3,714.7 733.7,668.6 736,714.7 740.3,691.6 745.3,714.7 752,691.6 753.7,707.8 755.3,691.6 757,707.8 759.3,691.6 760.7,707.8 763,645.5 765.3,707.8 768.7,668.6 770.3,691.6 772,668.6 774.3,668.6 776,680.1 780.3,703.2 784.7,714.7 792,691.6 793.7,714.7 797.7,668.6 798.7,680.1 800.3,668.6 802,703.2 807,714.7 812,691.6 814.3,645.5 816,707.8 820.3,691.6 823.7,714.7 828,691.6 830.3,714.7 833.7,691.6 837.3,645.5 840.3,703.2 843.7,668.6 845.3,707.8 848.7,668.6 852,714.7 856,691.6 857.7,707.8 860,691.6 862,707.8 865.3,691.6 867.7,707.8 871,691.6 873.3,707.8 876,691.6 881,714.7 886,691.6 888,703.2 890.3,645.5 891.7,668.6 893.3,645.5 894.7,668.6 896,645.5 898,668.6 900,691.6 901.7,576.2 903.7,645.5 906,691.6 907.7,714.7 909.3,668.6 911.3,576.2 913.3,668.6 914.7,691.6 916.7,645.5 918.7,691.6 920.7,668.6 922,691.6 925,668.6 926.7,707.8 929.3,714.7 931.3,691.6 932.7,707.8 935.3,691.6 937.7,714.7 941,691.6 944.3,668.6 946.7,707.8 950.3,645.5 952.7,691.6 954.7,707.8 958,668.6 961,707.8 962.7,714.7 965,691.6 967.7,714.7 972.7,668.6 974,691.6 976,668.6 978,691.6 986.7,714.7 992.7,691.6 995.3,691.6 997.7,707.8 1001,714.7 1005.3,668.6 1007.7,707.8 1011,691.6 1012.7,668.6 1014.3,703.2 1016.7,691.6 1018.3,703.2 1020.3,645.5 1022.7,703.2 1024.7,622.4 1026.7,668.6 1028,645.5 1030,691.6 1031.3,668.6 1033.3,691.6 1037.7,714.7 1043.3,668.6 1046.7,707.8 1049.3,714.7 1052,668.6 1054.3,707.8 1056,714.7 1059.3,668.6 1061.3,707.8 1064,691.6 1066,707.8 1069.3,668.6 1072,707.8 1074.3,691.6 1076.7,714.7 1080,691.6 1082,707.8 1084.7,622.4 1086.7,707.8 1089.3,714.7 1092,691.6 1093.3,707.8 1095.3,668.6 1097.3,707.8 1101,668.6 1103.3,703.2 1106,691.6 1108,707.8 1112,668.6 1114.3,707.8 1117.7,714.7 1121.3,668.6 1123.7,707.8 1126,691.6 1127.7,707.8 1131.3,645.5 1133.3,668.6 1135.3,691.6 1139.3,645.5 1141.3,668.6 1143.3,691.6 1146,707.8 1148.7,691.6 1150,691.6 1151.7,707.8 1154,668.6 1155.7,680.1 1157.3,668.6 1159.3,707.8 1162,691.6 1164,707.8 1168.3,691.6 1170.7,707.8 1173.3,691.6 1175,707.8 1177.3,668.6 1179,703.2 1180.7,691.6 1182.3,707.8 1184.7,691.6 1186.7,599.3 1188.7,691.6 1190,691.6 1192,707.8 1194.7,668.6 1197.3,645.5 1199.3,691.6 1201.7,691.6 1203.3,668.6 1205,703.2 1206.7,691.6 1208.3,707.8 1210,691.6 1213.3,714.7 1218.3,668.6 1220.3,622.4 1223.3,707.8 1226.7,691.6 1229.3,668.6 1231.7,707.8 1235.3,645.5 1237.3,707.8 1240,691.6 1243.3,714.7 1247.7,691.6 1250,707.8 1253.3,668.6 1254.7,680.1 1256,668.6 1258.3,707.8 1261.7,707.8 1264.3,645.5 1266.7,707.8 1270.7,668.6 1274,703.2 1276.7,714.7 1279.3,691.6 1280.7,707.8 1283.3,668.6 1286,707.8 1290.7,668.6 1293.3,707.8 1296.7,691.6 1298.3,707.8 1303.3,668.6 1306,707.8 1308.3,691.6 1310,707.8 1314,691.6 1315.3,707.8 1317.3,691.6 1320,714.7 1324,668.6 1326.7,707.8 1329.3,714.7 1333.3,691.6 1336.7,707.8 1339.3,691.6 1340.7,707.8 1342.7,645.5 1345,707.8 1347.3,714.7 1350,691.6 1351.7,707.8 1354,691.6 1361.7,714.7 1366.7,703.2 1372.3,645.5 1374,691.6 1381.7,714.7 1390,668.6 1391.7,691.6 1399.3,714.7 1407.3,691.6 1410.7,707.8 1413.3,691.6 1418.3,714.7 1421.7,691.6 1423,668.6" fill="none" stroke="#000088" stroke-width="0.7"/>
<path d="M283,714.7V691.6M286.3,714.7V703.2M289.7,714.7V707.8M296.3,714.7V668.6M311.3,714.7V707.8M334.7,714.7V703.2M338.7,714.7V703.2M343.3,714.7V691.6M346.7,714.7V707.8M350.7,714.7V668.6M353.3,714.7V680.1M356.7,714.7V668.6M362,714.7V703.2M366.7,714.7V707.8M372,714.7V668.6M377.3,714.7V668.6M380.7,714.7V703.2M383.3,714.7V703.2M394.7,714.7V668.6M398,714.7V707.8M417.3,714.7V707.8M431.3,714.7V707.8M435.7,714.7V691.6M444.7,714.7V707.8M450,714.7V707.8M454,714.7V707.8M458.7,714.7V707.8M476.3,714.7V703.2M480.7,714.7V703.2M499.7,714.7V691.6M504,714.7V703.2M531.3,714.7V707.8M536.3,714.7V707.8M539.7,714.7V707.8M545.3,714.7V707.8M554,714.7V707.8M558,714.7V707.8M567.3,714.7V680.1M640.3,714.7V707.8M658,714.7V703.2M683.3,714.7V707.8M699.3,714.7V703.2M703.3,714.7V691.6M712,714.7V707.8M753.7,714.7V707.8M757,714.7V707.8M760.7,714.7V707.8M765.3,714.7V707.8M770.3,714.7V691.6M798.7,714.7V680.1M816,714.7V707.8M840.3,714.7V703.2M845.3,714.7V707.8M857.7,714.7V707.8M862,714.7V707.8M867.7,714.7V707.8M873.3,714.7V707.8M888,714.7V703.2M891.7,714.7V668.6M894.7,714.7V668.6M900,714.7V691.6M914.7,714.7V691.6M918.7,714.7V691.6M922,714.7V691.6M932.7,714.7V707.8M946.7,714.7V707.8M954.7,714.7V707.8M974,714.7V691.6M1007.7,714.7V707.8M1014.3,714.7V703.2M1018.3,714.7V703.2M1022.7,714.7V703.2M1026.7,714.7V668.6M1030,714.7V691.6M1061.3,714.7V707.8M1066,714.7V707.8M1072,714.7V707.8M1082,714.7V707.8M1093.3,714.7V707.8M1097.3,714.7V707.8M1103.3,714.7V703.2M1108,714.7V707.8M1123.7,714.7V707.8M1127.7,714.7V707.8M1135.3,714.7V691.6M1146,714.7V707.8M1151.7,714.7V707.8M1155.7,714.7V680.1M1159.3,714.7V707.8M1164,714.7V707.8M1170.7,714.7V707.8M1175,714.7V707.8M1179,714.7V703.2M1182.3,714.7V707.8M1188.7,714.7V691.6M1192,714.7V707.8M1199.3,714.7V691.6M1201.7,714.7V691.6M1205,714.7V703.2M1208.3,714.7V707.8M1223.3,714.7V707.8M1231.7,714.7V707.8M1237.3,714.7V707.8M1250,714.7V707.8M1254.7,714.7V680.1M1258.3,714.7V707.8M1261.7,714.7V707.8M1266.7,714.7V707.8M1280.7,714.7V707.8M1286,714.7V707.8M1293.3,714.7V707.8M1298.3,714.7V707.8M1306,714.7V707.8M1310,714.7V707.8M1315.3,714.7V707.8M1336.7,714.7V707.8M1340.7,714.7V707.8M1351.7,714.7V707.8M1410.7,714.7V707.8" fill="none" stroke="#000088" stroke-width="0.8"/>
<path d="M259.2,576.2 H271.4" fill="none" stroke="#222" stroke-width="1"/>
<path d="M259.2,714.7 H271.4" fill="none" stroke="#333" stroke-width="1"/>
<path d="M270.9,575.7 V715.2" fill="none" stroke="#555" stroke-width="1.3"/>
<text x="251.8" y="579.5" font-size="12" text-anchor="end" fill="#000">5</text>
<text x="251.8" y="717.7" font-size="12" text-anchor="end" fill="#000">0</text>
<text x="73" y="805.7" font-size="23.5" fill="#000">GSM2481687</text>
<polygon points="271.5,868.7 271.5,841 273,860.4 275.3,868.7 278.7,841 280.7,860.4 283,841 285.3,860.4 288,841 289.3,841 290.7,813.3 292.7,841 294.7,785.6 296.3,813.3 298,785.6 300,841 302.7,860.4 305.3,785.6 307.3,813.3 309.3,813.3 311.3,854.8 314,841 316,860.4 319.7,841 322,868.7 326.3,813.3 328.7,854.8 332.3,813.3 334,854.8 335.3,868.7 339,813.3 341.3,854.8 343,868.7 345.7,841 349.7,868.7 354.7,841 356.7,841 358,813.3 359.7,813.3 362,841 364.7,860.4 366.7,841 368,841 369.7,841 372,785.6 373.3,841 374.7,813.3 376.3,841 378,813.3 380,854.8 382,841 383.3,854.8 385.3,841 387,854.8 390,785.6 391.3,841 393.3,785.6 395.3,841 396.7,813.3 398,813.3 400.7,860.4 404,785.6 405.3,813.3 406.7,785.6 408,813.3 409.3,785.6 410.7,827.1 412,813.3 413.3,827.1 414.7,841 416.7,860.4 418.7,813.3 420.7,860.4 423,868.7 428.7,841 430.7,868.7 433,841 434.7,860.4 438,841 440,868.7 444.7,813.3 447.3,860.4 453,813.3 455.3,854.8 458.7,841 462,785.6 464.7,841 468,785.6 469.7,813.3 471.3,813.3 474,854.8 475.3,868.7 478.7,841 488,868.7 496.7,813.3 499,854.8 501.3,868.7 505.3,813.3 507.3,841 509.7,785.6 511.3,841 514,868.7 518,841 521.3,868.7 528,841 533,813.3 534.7,854.8 536.3,841 538.7,868.7 542,757.9 543.3,757.9 544.3,730.2 546,841 548,860.4 550.7,868.7 556.3,813.3 558,854.8 559.7,813.3 562,841 565.3,785.6 568,860.4 569.3,868.7 572,841 574,813.3 575.3,827.1 577,813.3 578.7,813.3 580.3,841 582.7,868.7 586,841 588.7,785.6 591.3,841 595.3,868.7 600.3,841 602,860.4 603.7,841 617,868.7 630.3,841 632.7,785.6 634.7,827.1 636,813.3 638,841 639.3,841 641.3,785.6 643.3,841 644.7,860.4 647,785.6 649.3,841 651.3,860.4 653.7,813.3 655.3,827.1 657,813.3 658.7,827.1 660,813.3 662,860.4 663.7,868.7 666.3,813.3 668.7,860.4 672,813.3 674.7,860.4 676,860.4 678.7,841 686,868.7 693.7,841 694.7,860.4 696.7,841 698,860.4 699.3,841 702,868.7 705.3,841 711.3,868.7 720.3,841 724.7,868.7 727,841 728.7,860.4 732,813.3 733.7,841 736,813.3 737.3,841 739.3,813.3 741.3,854.8 744.3,785.6 746.7,860.4 748.7,841 750.3,860.4 752,841 754,868.7 757,841 760.3,868.7 766.3,841 770.3,868.7 773.7,841 776.3,785.6 778.7,827.1 780.3,813.3 783.7,860.4 787.3,841 790.3,868.7 794.3,813.3 797,860.4 799.3,813.3 801.3,860.4 803.3,841 805.3,860.4 807.3,813.3 810,868.7 813,841 814.7,860.4 817,813.3 820.3,868.7 825.3,841 828.7,868.7 833.7,813.3 836.7,854.8 840.3,785.6 842,827.1 843.7,813.3 845.3,827.1 847.3,813.3 848.7,827.1 850.3,813.3 853.7,854.8 856,841 858.7,860.4 861,841 862.7,854.8 864.3,841 869.3,868.7 875.3,813.3 878.7,868.7 882.7,841 884.7,868.7 887.7,757.9 889.3,813.3 891.3,785.6 892.7,827.1 895,813.3 896.7,860.4 898.7,841 901,868.7 905.3,813.3 907,827.1 908.7,813.3 911,841 913.3,854.8 916,841 919.3,813.3 921.3,841 923.7,813.3 926,854.8 927.7,868.7 930,785.6 932.7,854.8 935.3,841 938.7,813.3 940.3,841 943.3,841 944.7,854.8 946.7,813.3 949.3,854.8 953.3,868.7 958.7,841 961,860.4 963.3,841 967.7,868.7 972.7,813.3 974,827.1 976,785.6 978.7,854.8 980,868.7 984.3,841 988.7,868.7 992,841 996,868.7 1002.7,785.6 1004.7,757.9 1006,785.6 1007.3,757.9 1010,813.3 1012.7,868.7 1017.7,841 1024.3,868.7 1029.3,841 1031.3,860.4 1034.3,841 1037.7,868.7 1044.3,841 1049.3,868.7 1053.7,841 1057.7,868.7 1062,813.3 1065.3,868.7 1069.3,841 1071,860.4 1072.7,841 1074.3,854.8 1076.7,813.3 1079.3,860.4 1084.3,841 1086.7,868.7 1091,841 1092.7,860.4 1094,813.3 1096,854.8 1097.3,841 1099.3,860.4 1102,813.3 1105.3,868.7 1111,813.3 1112.7,813.3 1114.3,854.8 1116.7,854.8 1120,813.3 1121.7,841 1124,785.6 1126.7,841 1129.3,813.3 1132,841 1135.3,868.7 1141.3,813.3 1143.3,854.8 1146,813.3 1150,854.8 1153.3,841 1156.7,785.6 1159.3,841 1161.7,860.4 1164,841 1166.7,860.4 1170,868.7 1178.3,841 1181.7,868.7 1186.7,813.3 1189.3,813.3 1191.7,860.4 1195.7,841 1198.3,860.4 1202.7,813.3 1204.3,860.4 1206.7,841 1208.3,860.4 1211,841 1213.3,868.7 1218.3,813.3 1220.7,854.8 1224,841 1226,813.3 1228.3,854.8 1230,841 1232.7,813.3 1234,854.8 1236.7,841 1240.7,868.7 1246.7,841 1248.3,860.4 1251.7,813.3 1253.3,860.4 1256.7,841 1258.3,860.4 1261,841 1262.3,860.4 1264.3,841 1266,860.4 1269.3,841 1271.7,813.3 1273.3,841 1275,841 1278.3,868.7 1284,813.3 1287.3,854.8 1290,868.7 1296,785.6 1298.3,854.8 1300,868.7 1302.7,813.3 1305,868.7 1308.3,854.8 1312.7,813.3 1314.7,757.9 1316,785.6 1317.3,785.6 1319.3,841 1321.7,868.7 1325.7,841 1328.3,868.7 1334,841 1336.7,860.4 1340,868.7 1344.3,813.3 1347.3,841 1351.7,868.7 1356.7,854.8 1362.7,785.6 1365,841 1373.3,868.7 1382.7,841 1386.7,854.8 1389.3,868.7 1395.3,813.3 1397.3,841 1401.7,868.7 1408.3,841 1409.3,854.8 1411.7,841 1416.7,868.7 1421.7,841 1423,841 1423,868.7" fill="#0000ff" stroke="none"/>
<polyline points="271.5,841 273,860.4 275.3,868.7 278.7,841 280.7,860.4 283,841 285.3,860.4 288,841 289.3,841 290.7,813.3 292.7,841 294.7,785.6 296.3,813.3 298,785.6 300,841 302.7,860.4 305.3,785.6 307.3,813.3 309.3,813.3 311.3,854.8 314,841 316,860.4 319.7,841 322,868.7 326.3,813.3 328.7,854.8 332.3,813.3 334,854.8 335.3,868.7 339,813.3 341.3,854.8 343,868.7 345.7,841 349.7,868.7 354.7,841 356.7,841 358,813.3 359.7,813.3 362,841 364.7,860.4 366.7,841 368,841 369.7,841 372,785.6 373.3,841 374.7,813.3 376.3,841 378,813.3 380,854.8 382,841 383.3,854.8 385.3,841 387,854.8 390,785.6 391.3,841 393.3,785.6 395.3,841 396.7,813.3 398,813.3 400.7,860.4 404,785.6 405.3,813.3 406.7,785.6 408,813.3 409.3,785.6 410.7,827.1 412,813.3 413.3,827.1 414.7,841 416.7,860.4 418.7,813.3 420.7,860.4 423,868.7 428.7,841 430.7,868.7 433,841 434.7,860.4 438,841 440,868.7 444.7,813.3 447.3,860.4 453,813.3 455.3,854.8 458.7,841 462,785.6 464.7,841 468,785.6 469.7,813.3 471.3,813.3 474,854.8 475.3,868.7 478.7,841 488,868.7 496.7,813.3 499,854.8 501.3,868.7 505.3,813.3 507.3,841 509.7,785.6 511.3,841 514,868.7 518,841 521.3,868.7 528,841 533,813.3 534.7,854.8 536.3,841 538.7,868.7 542,757.9 543.3,757.9 544.3,730.2 546,841 548,860.4 550.7,868.7 556.3,813.3 558,854.8 559.7,813.3 562,841 565.3,785.6 568,860.4 569.3,868.7 572,841 574,813.3 575.3,827.1 577,813.3 578.7,813.3 580.3,841 582.7,868.7 586,841 588.7,785.6 591.3,841 595.3,868.7 600.3,841 602,860.4 603.7,841 617,868.7 630.3,841 632.7,785.6 634.7,827.1 636,813.3 638,841 639.3,841 641.3,785.6 643.3,841 644.7,860.4 647,785.6 649.3,841 651.3,860.4 653.7,813.3 655.3,827.1 657,813.3 658.7,827.1 660,813.3 662,860.4 663.7,868.7 666.3,813.3 668.7,860.4 672,813.3 674.7,860.4 676,860.4 678.7,841 686,868.7 693.7,841 694.7,860.4 696.7,841 698,860.4 699.3,841 702,868.7 705.3,841 711.3,868.7 720.3,841 724.7,868.7 727,841 728.7,860.4 732,813.3 733.7,841 736,813.3 737.3,841 739.3,813.3 741.3,854.8 744.3,785.6 746.7,860.4 748.7,841 750.3,860.4 752,841 754,868.7 757,841 760.3,868.7 766.3,841 770.3,868.7 773.7,841 776.3,785.6 778.7,827.1 780.3,813.3 783.7,860.4 787.3,841 790.3,868.7 794.3,813.3 797,860.4 799.3,813.3 801.3,860.4 803.3,841 805.3,860.4 807.3,813.3 810,868.7 813,841 814.7,860.4 817,813.3 820.3,868.7 825.3,841 828.7,868.7 833.7,813.3 836.7,854.8 840.3,785.6 842,827.1 843.7,813.3 845.3,827.1 847.3,813.3 848.7,827.1 850.3,813.3 853.7,854.8 856,841 858.7,860.4 861,841 862.7,854.8 864.3,841 869.3,868.7 875.3,813.3 878.7,868.7 882.7,841 884.7,868.7 887.7,757.9 889.3,813.3 891.3,785.6 892.7,827.1 895,813.3 896.7,860.4 898.7,841 901,868.7 905.3,813.3 907,827.1 908.7,813.3 911,841 913.3,854.8 916,841 919.3,813.3 921.3,841 923.7,813.3 926,854.8 927.7,868.7 930,785.6 932.7,854.8 935.3,841 938.7,813.3 940.3,841 943.3,841 944.7,854.8 946.7,813.3 949.3,854.8 953.3,868.7 958.7,841 961,860.4 963.3,841 967.7,868.7 972.7,813.3 974,827.1 976,785.6 978.7,854.8 980,868.7 984.3,841 988.7,868.7 992,841 996,868.7 1002.7,785.6 1004.7,757.9 1006,785.6 1007.3,757.9 1010,813.3 1012.7,868.7 1017.7,841 1024.3,868.7 1029.3,841 1031.3,860.4 1034.3,841 1037.7,868.7 1044.3,841 1049.3,868.7 1053.7,841 1057.7,868.7 1062,813.3 1065.3,868.7 1069.3,841 1071,860.4 1072.7,841 1074.3,854.8 1076.7,813.3 1079.3,860.4 1084.3,841 1086.7,868.7 1091,841 1092.7,860.4 1094,813.3 1096,854.8 1097.3,841 1099.3,860.4 1102,813.3 1105.3,868.7 1111,813.3 1112.7,813.3 1114.3,854.8 1116.7,854.8 1120,813.3 1121.7,841 1124,785.6 1126.7,841 1129.3,813.3 1132,841 1135.3,868.7 1141.3,813.3 1143.3,854.8 1146,813.3 1150,854.8 1153.3,841 1156.7,785.6 1159.3,841 1161.7,860.4 1164,841 1166.7,860.4 1170,868.7 1178.3,841 1181.7,868.7 1186.7,813.3 1189.3,813.3 1191.7,860.4 1195.7,841 1198.3,860.4 1202.7,813.3 1204.3,860.4 1206.7,841 1208.3,860.4 1211,841 1213.3,868.7 1218.3,813.3 1220.7,854.8 1224,841 1226,813.3 1228.3,854.8 1230,841 1232.7,813.3 1234,854.8 1236.7,841 1240.7,868.7 1246.7,841 1248.3,860.4 1251.7,813.3 1253.3,860.4 1256.7,841 1258.3,860.4 1261,841 1262.3,860.4 1264.3,841 1266,860.4 1269.3,841 1271.7,813.3 1273.3,841 1275,841 1278.3,868.7 1284,813.3 1287.3,854.8 1290,868.7 1296,785.6 1298.3,854.8 1300,868.7 1302.7,813.3 1305,868.7 1308.3,854.8 1312.7,813.3 1314.7,757.9 1316,785.6 1317.3,785.6 1319.3,841 1321.7,868.7 1325.7,841 1328.3,868.7 1334,841 1336.7,860.4 1340,868.7 1344.3,813.3 1347.3,841 1351.7,868.7 1356.7,854.8 1362.7,785.6 1365,841 1373.3,868.7 1382.7,841 1386.7,854.8 1389.3,868.7 1395.3,813.3 1397.3,841 1401.7,868.7 1408.3,841 1409.3,854.8 1411.7,841 1416.7,868.7 1421.7,841 1423,841" fill="none" stroke="#000088" stroke-width="0.7"/>
<path d="M280.7,868.7V860.4M285.3,868.7V860.4M289.3,868.7V841M292.7,868.7V841M296.3,868.7V813.3M302.7,868.7V860.4M307.3,868.7V813.3M311.3,868.7V854.8M316,868.7V860.4M328.7,868.7V854.8M356.7,868.7V841M364.7,868.7V860.4M368,868.7V841M369.7,868.7V841M373.3,868.7V841M376.3,868.7V841M380,868.7V854.8M383.3,868.7V854.8M387,868.7V854.8M391.3,868.7V841M395.3,868.7V841M400.7,868.7V860.4M405.3,868.7V813.3M408,868.7V813.3M410.7,868.7V827.1M416.7,868.7V860.4M434.7,868.7V860.4M447.3,868.7V860.4M455.3,868.7V854.8M464.7,868.7V841M469.7,868.7V813.3M507.3,868.7V841M534.7,868.7V854.8M543.3,868.7V757.9M558,868.7V854.8M562,868.7V841M575.3,868.7V827.1M602,868.7V860.4M634.7,868.7V827.1M638,868.7V841M639.3,868.7V841M644.7,868.7V860.4M651.3,868.7V860.4M655.3,868.7V827.1M658.7,868.7V827.1M668.7,868.7V860.4M674.7,868.7V860.4M676,868.7V860.4M694.7,868.7V860.4M698,868.7V860.4M728.7,868.7V860.4M733.7,868.7V841M737.3,868.7V841M741.3,868.7V854.8M746.7,868.7V860.4M750.3,868.7V860.4M778.7,868.7V827.1M783.7,868.7V860.4M797,868.7V860.4M801.3,868.7V860.4M805.3,868.7V860.4M814.7,868.7V860.4M836.7,868.7V854.8M842,868.7V827.1M845.3,868.7V827.1M848.7,868.7V827.1M853.7,868.7V854.8M858.7,868.7V860.4M862.7,868.7V854.8M889.3,868.7V813.3M892.7,868.7V827.1M896.7,868.7V860.4M907,868.7V827.1M913.3,868.7V854.8M921.3,868.7V841M932.7,868.7V854.8M940.3,868.7V841M944.7,868.7V854.8M961,868.7V860.4M974,868.7V827.1M1006,868.7V785.6M1031.3,868.7V860.4M1071,868.7V860.4M1074.3,868.7V854.8M1079.3,868.7V860.4M1092.7,868.7V860.4M1096,868.7V854.8M1099.3,868.7V860.4M1114.3,868.7V854.8M1116.7,868.7V854.8M1121.7,868.7V841M1126.7,868.7V841M1143.3,868.7V854.8M1150,868.7V854.8M1161.7,868.7V860.4M1191.7,868.7V860.4M1198.3,868.7V860.4M1204.3,868.7V860.4M1208.3,868.7V860.4M1220.7,868.7V854.8M1228.3,868.7V854.8M1234,868.7V854.8M1248.3,868.7V860.4M1253.3,868.7V860.4M1258.3,868.7V860.4M1262.3,868.7V860.4M1266,868.7V860.4M1273.3,868.7V841M1316,868.7V785.6M1409.3,868.7V854.8" fill="none" stroke="#000088" stroke-width="0.8"/>
<path d="M259.2,730.2 H271.4" fill="none" stroke="#222" stroke-width="1"/>
<path d="M259.2,868.7 H271.4" fill="none" stroke="#333" stroke-width="1"/>
<path d="M270.9,729.7 V869.2" fill="none" stroke="#555" stroke-width="1.3"/>
<text x="251.8" y="733.5" font-size="12" text-anchor="end" fill="#000">7</text>
<text x="251.8" y="871.7" font-size="12" text-anchor="end" fill="#000">0</text>
<text x="73" y="959.6" font-size="23.5" fill="#000">GSM2481686</text>
<polygon points="271.5,1022.6 271.5,999.5 273,1015.7 274.7,976.4 276.3,1015.7 278,999.5 279.7,1015.7 282,999.5 284,1022.6 287.3,999.5 289.7,953.4 291.3,999.5 294,976.4 297,930.3 299.7,976.4 303,1015.7 304.7,1022.6 310.7,999.5 314,1022.6 317.3,999.5 323,1022.6 329.7,999.5 332,976.4 334.7,953.4 336.7,999.5 338.7,976.4 341.3,1011.1 344,1022.6 347.3,999.5 349,1022.6 352,976.4 353.3,999.5 355.3,976.4 357.3,999.5 360.7,953.4 363,999.5 365.3,1015.7 369.7,1022.6 374.7,999.5 380,976.4 382,1015.7 383.3,1022.6 385.7,999.5 387.3,1015.7 390.7,999.5 393,1015.7 397.3,999.5 398.7,1015.7 402.3,976.4 404,999.5 405.3,1015.7 408,1011.1 411.3,976.4 414.7,1011.1 417.3,1022.6 423,999.5 428,1022.6 432,999.5 433.3,1015.7 434.7,999.5 436.3,1015.7 438.7,999.5 443,1022.6 448.7,999.5 451.3,1015.7 454.7,999.5 456.7,976.4 458,988 460.7,953.4 462.3,999.5 464.7,1022.6 468,999.5 473,1022.6 479.7,999.5 482,976.4 484.7,930.3 486.7,999.5 488.7,1022.6 494.7,999.5 496,1015.7 497.3,999.5 499,1015.7 502,999.5 504,1022.6 506.7,999.5 508.7,1015.7 510.7,999.5 514.7,1022.6 520.7,976.4 524,1022.6 530.7,999.5 536.3,1022.6 541.3,999.5 545.3,976.4 547,1015.7 549.7,999.5 554.7,1022.6 558,1011.1 562,999.5 564.7,1022.6 568,999.5 570.3,1015.7 573,907.2 574.7,953.4 576,953.4 578,1015.7 580.3,976.4 582,930.3 584.7,999.5 587,976.4 588.7,1015.7 590.3,1022.6 592.7,999.5 595.3,1022.6 599.3,976.4 601.3,1015.7 603.7,999.5 607,1022.6 612,999.5 619.3,1022.6 627,999.5 628.7,1022.6 634.7,976.4 637,1011.1 638.7,999.5 640.3,1022.6 645.3,953.4 647.7,1015.7 650.3,999.5 652,1022.6 654.7,953.4 656.7,999.5 661.3,1022.6 668.7,999.5 672.7,953.4 675.3,1015.7 678.3,976.4 680.7,999.5 683.3,976.4 686,1011.1 688.7,999.5 691.3,1022.6 697,976.4 700.3,1011.1 703.7,999.5 706,1022.6 710.3,976.4 712.7,999.5 715.3,953.4 717,999.5 719.7,953.4 721.3,988 723.7,976.4 726,1011.1 728.7,1022.6 732,999.5 733.7,1015.7 735.3,999.5 737,1015.7 739.7,976.4 741.3,1015.7 743.7,976.4 746,1011.1 748.7,1022.6 753.3,976.4 756,1022.6 759.3,999.5 762,1022.6 766,999.5 770.3,1022.6 774.3,999.5 776,1015.7 779.3,999.5 782,1015.7 786,976.4 788.7,1011.1 791.3,1022.6 797,999.5 801.3,1022.6 807,976.4 809.3,1015.7 812.7,976.4 814.7,1022.6 818,999.5 821.3,1022.6 825.3,999.5 828.7,1022.6 833.7,976.4 835.3,953.4 837,953.4 839.3,1011.1 840.7,1022.6 846,953.4 848,999.5 849.3,976.4 852,1015.7 856,976.4 857.7,999.5 859.3,976.4 862,1011.1 863.3,1022.6 866,999.5 871,1022.6 876,999.5 878,1022.6 882,907.2 884,1015.7 885.3,999.5 886.7,1022.6 890.3,976.4 892,1011.1 894.7,884.1 898,953.4 901,930.3 903.3,999.5 905,976.4 906.7,1015.7 910,976.4 912,1015.7 914.3,1022.6 918.7,953.4 921.3,1015.7 924.3,976.4 926.7,1015.7 930,999.5 932,1022.6 937,976.4 939.3,1015.7 941.7,976.4 943.7,1015.7 946.7,999.5 948.7,1015.7 951,999.5 959.3,1022.6 967.7,999.5 969.3,999.5 971.3,953.4 973.3,988 975,976.4 977.7,953.4 979.3,988 982,953.4 984.3,999.5 986.7,1022.6 990.3,976.4 993.3,1015.7 995.3,1015.7 998.3,976.4 1001,1015.7 1003.3,999.5 1006,1022.6 1012.7,976.4 1015.3,1015.7 1019.3,976.4 1021.7,1015.7 1024.3,953.4 1026,976.4 1027.7,976.4 1030,953.4 1032,999.5 1034.3,1015.7 1036,999.5 1037.7,1015.7 1039.3,999.5 1041,1015.7 1045.3,999.5 1048.7,1022.6 1053.7,999.5 1056,1015.7 1059.3,953.4 1062,1015.7 1065,999.5 1067,1015.7 1070.3,976.4 1072.7,1015.7 1075.3,1022.6 1081.7,953.4 1086,1011.1 1089.3,1022.6 1093.7,976.4 1096.7,1022.6 1101,999.5 1111,1022.6 1122,999.5 1126.7,1022.6 1133.3,976.4 1136,1015.7 1140,976.4 1142,1015.7 1144,999.5 1146,1015.7 1149.3,976.4 1150,976.4 1152,1015.7 1154,1011.1 1156.3,930.3 1158.3,999.5 1161.7,1022.6 1167.7,999.5 1170.7,1022.6 1175,999.5 1176.7,1015.7 1179.3,930.3 1181.7,999.5 1183.3,1015.7 1186,953.4 1188,1015.7 1190.7,976.4 1192.7,1015.7 1196.7,999.5 1204,1022.6 1211.7,999.5 1214,1022.6 1217.3,976.4 1219.3,1015.7 1221,999.5 1222.7,1015.7 1226,976.4 1228,1015.7 1230,976.4 1235,1022.6 1240,976.4 1242.7,1015.7 1246.7,976.4 1248,988 1249.3,976.4 1253.3,1011.1 1256,1022.6 1259.3,999.5 1261,1015.7 1262.7,976.4 1265,1015.7 1267.3,976.4 1269.3,988 1272.3,976.4 1274.3,1015.7 1276.7,999.5 1278.3,1022.6 1280,953.4 1282.7,1015.7 1284,1022.6 1286.7,999.5 1288.3,999.5 1290.7,953.4 1293.3,1015.7 1296.7,999.5 1298.7,1015.7 1301.7,930.3 1304,1015.7 1306.7,999.5 1308.3,1015.7 1310,999.5 1313.3,1022.6 1316.7,953.4 1319.3,1011.1 1321.7,976.4 1324,1015.7 1328.3,999.5 1333.3,1022.6 1337.3,953.4 1339.3,999.5 1340.7,999.5 1342.7,976.4 1344.3,1011.1 1346.7,999.5 1348.3,1015.7 1350,999.5 1355,1022.6 1360.7,976.4 1366.7,1022.6 1372.7,999.5 1374,1015.7 1376,999.5 1378.3,1022.6 1380.7,999.5 1382.7,1015.7 1386.7,999.5 1389.3,1022.6 1392.7,999.5 1394.3,1015.7 1396.7,999.5 1400,1022.6 1403.3,999.5 1405,1015.7 1407.3,999.5 1409.3,1022.6 1412.3,999.5 1418.3,1022.6 1418.3,1022.6" fill="#0000ff" stroke="none"/>
<polyline points="271.5,999.5 273,1015.7 274.7,976.4 276.3,1015.7 278,999.5 279.7,1015.7 282,999.5 284,1022.6 287.3,999.5 289.7,953.4 291.3,999.5 294,976.4 297,930.3 299.7,976.4 303,1015.7 304.7,1022.6 310.7,999.5 314,1022.6 317.3,999.5 323,1022.6 329.7,999.5 332,976.4 334.7,953.4 336.7,999.5 338.7,976.4 341.3,1011.1 344,1022.6 347.3,999.5 349,1022.6 352,976.4 353.3,999.5 355.3,976.4 357.3,999.5 360.7,953.4 363,999.5 365.3,1015.7 369.7,1022.6 374.7,999.5 380,976.4 382,1015.7 383.3,1022.6 385.7,999.5 387.3,1015.7 390.7,999.5 393,1015.7 397.3,999.5 398.7,1015.7 402.3,976.4 404,999.5 405.3,1015.7 408,1011.1 411.3,976.4 414.7,1011.1 417.3,1022.6 423,999.5 428,1022.6 432,999.5 433.3,1015.7 434.7,999.5 436.3,1015.7 438.7,999.5 443,1022.6 448.7,999.5 451.3,1015.7 454.7,999.5 456.7,976.4 458,988 460.7,953.4 462.3,999.5 464.7,1022.6 468,999.5 473,1022.6 479.7,999.5 482,976.4 484.7,930.3 486.7,999.5 488.7,1022.6 494.7,999.5 496,1015.7 497.3,999.5 499,1015.7 502,999.5 504,1022.6 506.7,999.5 508.7,1015.7 510.7,999.5 514.7,1022.6 520.7,976.4 524,1022.6 530.7,999.5 536.3,1022.6 541.3,999.5 545.3,976.4 547,1015.7 549.7,999.5 554.7,1022.6 558,1011.1 562,999.5 564.7,1022.6 568,999.5 570.3,1015.7 573,907.2 574.7,953.4 576,953.4 578,1015.7 580.3,976.4 582,930.3 584.7,999.5 587,976.4 588.7,1015.7 590.3,1022.6 592.7,999.5 595.3,1022.6 599.3,976.4 601.3,1015.7 603.7,999.5 607,1022.6 612,999.5 619.3,1022.6 627,999.5 628.7,1022.6 634.7,976.4 637,1011.1 638.7,999.5 640.3,1022.6 645.3,953.4 647.7,1015.7 650.3,999.5 652,1022.6 654.7,953.4 656.7,999.5 661.3,1022.6 668.7,999.5 672.7,953.4 675.3,1015.7 678.3,976.4 680.7,999.5 683.3,976.4 686,1011.1 688.7,999.5 691.3,1022.6 697,976.4 700.3,1011.1 703.7,999.5 706,1022.6 710.3,976.4 712.7,999.5 715.3,953.4 717,999.5 719.7,953.4 721.3,988 723.7,976.4 726,1011.1 728.7,1022.6 732,999.5 733.7,1015.7 735.3,999.5 737,1015.7 739.7,976.4 741.3,1015.7 743.7,976.4 746,1011.1 748.7,1022.6 753.3,976.4 756,1022.6 759.3,999.5 762,1022.6 766,999.5 770.3,1022.6 774.3,999.5 776,1015.7 779.3,999.5 782,1015.7 786,976.4 788.7,1011.1 791.3,1022.6 797,999.5 801.3,1022.6 807,976.4 809.3,1015.7 812.7,976.4 814.7,1022.6 818,999.5 821.3,1022.6 825.3,999.5 828.7,1022.6 833.7,976.4 835.3,953.4 837,953.4 839.3,1011.1 840.7,1022.6 846,953.4 848,999.5 849.3,976.4 852,1015.7 856,976.4 857.7,999.5 859.3,976.4 862,1011.1 863.3,1022.6 866,999.5 871,1022.6 876,999.5 878,1022.6 882,907.2 884,1015.7 885.3,999.5 886.7,1022.6 890.3,976.4 892,1011.1 894.7,884.1 898,953.4 901,930.3 903.3,999.5 905,976.4 906.7,1015.7 910,976.4 912,1015.7 914.3,1022.6 918.7,953.4 921.3,1015.7 924.3,976.4 926.7,1015.7 930,999.5 932,1022.6 937,976.4 939.3,1015.7 941.7,976.4 943.7,1015.7 946.7,999.5 948.7,1015.7 951,999.5 959.3,1022.6 967.7,999.5 969.3,999.5 971.3,953.4 973.3,988 975,976.4 977.7,953.4 979.3,988 982,953.4 984.3,999.5 986.7,1022.6 990.3,976.4 993.3,1015.7 995.3,1015.7 998.3,976.4 1001,1015.7 1003.3,999.5 1006,1022.6 1012.7,976.4 1015.3,1015.7 1019.3,976.4 1021.7,1015.7 1024.3,953.4 1026,976.4 1027.7,976.4 1030,953.4 1032,999.5 1034.3,1015.7 1036,999.5 1037.7,1015.7 1039.3,999.5 1041,1015.7 1045.3,999.5 1048.7,1022.6 1053.7,999.5 1056,1015.7 1059.3,953.4 1062,1015.7 1065,999.5 1067,1015.7 1070.3,976.4 1072.7,1015.7 1075.3,1022.6 1081.7,953.4 1086,1011.1 1089.3,1022.6 1093.7,976.4 1096.7,1022.6 1101,999.5 1111,1022.6 1122,999.5 1126.7,1022.6 1133.3,976.4 1136,1015.7 1140,976.4 1142,1015.7 1144,999.5 1146,1015.7 1149.3,976.4 1150,976.4 1152,1015.7 1154,1011.1 1156.3,930.3 1158.3,999.5 1161.7,1022.6 1167.7,999.5 1170.7,1022.6 1175,999.5 1176.7,1015.7 1179.3,930.3 1181.7,999.5 1183.3,1015.7 1186,953.4 1188,1015.7 1190.7,976.4 1192.7,1015.7 1196.7,999.5 1204,1022.6 1211.7,999.5 1214,1022.6 1217.3,976.4 1219.3,1015.7 1221,999.5 1222.7,1015.7 1226,976.4 1228,1015.7 1230,976.4 1235,1022.6 1240,976.4 1242.7,1015.7 1246.7,976.4 1248,988 1249.3,976.4 1253.3,1011.1 1256,1022.6 1259.3,999.5 1261,1015.7 1262.7,976.4 1265,1015.7 1267.3,976.4 1269.3,988 1272.3,976.4 1274.3,1015.7 1276.7,999.5 1278.3,1022.6 1280,953.4 1282.7,1015.7 1284,1022.6 1286.7,999.5 1288.3,999.5 1290.7,953.4 1293.3,1015.7 1296.7,999.5 1298.7,1015.7 1301.7,930.3 1304,1015.7 1306.7,999.5 1308.3,1015.7 1310,999.5 1313.3,1022.6 1316.7,953.4 1319.3,1011.1 1321.7,976.4 1324,1015.7 1328.3,999.5 1333.3,1022.6 1337.3,953.4 1339.3,999.5 1340.7,999.5 1342.7,976.4 1344.3,1011.1 1346.7,999.5 1348.3,1015.7 1350,999.5 1355,1022.6 1360.7,976.4 1366.7,1022.6 1372.7,999.5 1374,1015.7 1376,999.5 1378.3,1022.6 1380.7,999.5 1382.7,1015.7 1386.7,999.5 1389.3,1022.6 1392.7,999.5 1394.3,1015.7 1396.7,999.5 1400,1022.6 1403.3,999.5 1405,1015.7 1407.3,999.5 1409.3,1022.6 1412.3,999.5 1418.3,1022.6" fill="none" stroke="#000088" stroke-width="0.7"/>
<path d="M273,1022.6V1015.7M276.3,1022.6V1015.7M279.7,1022.6V1015.7M291.3,1022.6V999.5M336.7,1022.6V999.5M353.3,1022.6V999.5M357.3,1022.6V999.5M387.3,1022.6V1015.7M393,1022.6V1015.7M398.7,1022.6V1015.7M405.3,1022.6V1015.7M433.3,1022.6V1015.7M436.3,1022.6V1015.7M451.3,1022.6V1015.7M458,1022.6V988M496,1022.6V1015.7M499,1022.6V1015.7M508.7,1022.6V1015.7M547,1022.6V1015.7M570.3,1022.6V1015.7M574.7,1022.6V953.4M578,1022.6V1015.7M584.7,1022.6V999.5M601.3,1022.6V1015.7M637,1022.6V1011.1M647.7,1022.6V1015.7M675.3,1022.6V1015.7M680.7,1022.6V999.5M686,1022.6V1011.1M700.3,1022.6V1011.1M712.7,1022.6V999.5M717,1022.6V999.5M721.3,1022.6V988M733.7,1022.6V1015.7M737,1022.6V1015.7M741.3,1022.6V1015.7M776,1022.6V1015.7M782,1022.6V1015.7M809.3,1022.6V1015.7M848,1022.6V999.5M852,1022.6V1015.7M857.7,1022.6V999.5M884,1022.6V1015.7M892,1022.6V1011.1M898,1022.6V953.4M903.3,1022.6V999.5M906.7,1022.6V1015.7M921.3,1022.6V1015.7M926.7,1022.6V1015.7M939.3,1022.6V1015.7M943.7,1022.6V1015.7M948.7,1022.6V1015.7M969.3,1022.6V999.5M973.3,1022.6V988M979.3,1022.6V988M993.3,1022.6V1015.7M995.3,1022.6V1015.7M1001,1022.6V1015.7M1015.3,1022.6V1015.7M1021.7,1022.6V1015.7M1026,1022.6V976.4M1027.7,1022.6V976.4M1034.3,1022.6V1015.7M1037.7,1022.6V1015.7M1041,1022.6V1015.7M1056,1022.6V1015.7M1062,1022.6V1015.7M1067,1022.6V1015.7M1136,1022.6V1015.7M1142,1022.6V1015.7M1146,1022.6V1015.7M1152,1022.6V1015.7M1176.7,1022.6V1015.7M1183.3,1022.6V1015.7M1188,1022.6V1015.7M1192.7,1022.6V1015.7M1219.3,1022.6V1015.7M1222.7,1022.6V1015.7M1228,1022.6V1015.7M1242.7,1022.6V1015.7M1248,1022.6V988M1261,1022.6V1015.7M1265,1022.6V1015.7M1269.3,1022.6V988M1274.3,1022.6V1015.7M1288.3,1022.6V999.5M1293.3,1022.6V1015.7M1298.7,1022.6V1015.7M1304,1022.6V1015.7M1308.3,1022.6V1015.7M1319.3,1022.6V1011.1M1324,1022.6V1015.7M1339.3,1022.6V999.5M1340.7,1022.6V999.5M1344.3,1022.6V1011.1M1348.3,1022.6V1015.7M1374,1022.6V1015.7M1382.7,1022.6V1015.7M1394.3,1022.6V1015.7M1405,1022.6V1015.7" fill="none" stroke="#000088" stroke-width="0.8"/>
<path d="M259.2,884.1 H271.4" fill="none" stroke="#222" stroke-width="1"/>
<path d="M259.2,1022.6 H271.4" fill="none" stroke="#333" stroke-width="1"/>
<path d="M270.9,883.6 V1023.1" fill="none" stroke="#555" stroke-width="1.3"/>
<text x="251.8" y="887.4" font-size="12" text-anchor="end" fill="#000">5</text>
<text x="251.8" y="1025.6" font-size="12" text-anchor="end" fill="#000">0</text>
<text x="73" y="1113.5" font-size="23.5" fill="#000">GSM2481685</text>
<polygon points="271.5,1176.5 271.5,1141.9 273,1166.2 275.3,1141.9 278,1166.2 279.7,1176.5 283,1141.9 285.7,1072.7 288,1159.2 289.7,1176.5 291.3,1141.9 292.7,1166.2 294,1141.9 295.3,1159.2 297.3,1107.3 298.7,1124.6 300.3,1072.7 302,1107.3 303.3,1107.3 304.7,1038 306.7,1124.6 309.3,1107.3 311.3,1141.9 314,1166.2 316.3,1176.5 319.7,1141.9 321.3,1166.2 323,1141.9 326.3,1176.5 330.7,1141.9 333,1176.5 337,1107.3 339.7,1159.2 341.3,1176.5 343.3,1107.3 345.3,1159.2 347.3,1107.3 349,1124.6 350.7,1107.3 352,1141.9 353.7,1107.3 355.3,1166.2 358,1176.5 360.7,1107.3 363,1166.2 366.3,1107.3 369,1166.2 370.7,1176.5 374,1107.3 376.3,1166.2 378,1176.5 380.7,1141.9 382.3,1166.2 385.3,1141.9 387.3,1166.2 391.3,1141.9 398,1176.5 404.7,1141.9 412,1176.5 418.7,1141.9 423.3,1107.3 426.3,1159.2 430.7,1176.5 436.3,1141.9 438.7,1166.2 443,1107.3 444.7,1166.2 448,1141.9 450.3,1038 452.3,1107.3 454.7,1141.9 456.3,1107.3 458,1159.2 460.7,1176.5 463.3,1107.3 465.3,1159.2 467.3,1107.3 469.7,1166.2 472,1176.5 475.3,1107.3 478,1159.2 480.3,1107.3 483,1159.2 485.3,1176.5 488.7,1141.9 490.7,1166.2 494.7,1141.9 498,1176.5 502.3,1107.3 504.7,1159.2 508,1176.5 512.3,1159.2 515.3,1141.9 516.7,1166.2 518,1141.9 519.7,1166.2 522,1141.9 525.3,1176.5 532,1107.3 534.7,1166.2 537.3,1176.5 541.3,1141.9 543,1159.2 545,1072.7 547.3,1166.2 548.7,1176.5 551.3,1141.9 553,1166.2 556.7,1107.3 559.7,1159.2 562,1141.9 564.7,1176.5 570.3,1107.3 573.7,1166.2 575.3,1176.5 577,1141.9 578.7,1166.2 580.7,1107.3 582.7,1159.2 584,1176.5 587,1141.9 588.7,1159.2 592,1107.3 607,1176.5 622,1107.3 628.7,1176.5 633.7,1141.9 635.3,1166.2 638.7,1107.3 643.7,1176.5 648.7,1141.9 650.3,1166.2 653.7,1141.9 662,1176.5 672,1107.3 675.3,1166.2 677,1176.5 681.3,1107.3 683.7,1166.2 687,1141.9 688.7,1166.2 692,1107.3 696,1166.2 700.3,1107.3 703.7,1159.2 707,1176.5 712,1107.3 715.3,1159.2 718.7,1176.5 723.7,1141.9 726,1176.5 728.7,1141.9 730,1166.2 731.3,1141.9 732.7,1166.2 737,1107.3 738.7,1141.9 744.7,1176.5 750.3,1141.9 753.3,1072.7 756,1159.2 759.3,1141.9 763.7,1176.5 772.7,1141.9 776,1176.5 779.3,1072.7 781,1072.7 782.7,1166.2 787,1176.5 792,1141.9 794.3,1072.7 797,1124.6 799.3,1072.7 800.7,1090 802,1072.7 804,1124.6 806,1107.3 808,1166.2 812,1141.9 817,1176.5 822,1107.3 824.7,1159.2 827.7,1107.3 830.3,1141.9 833.7,1176.5 838.7,1124.6 842,1072.7 845.3,1141.9 848.7,1176.5 852,1107.3 854.3,1072.7 856,1107.3 857.7,1159.2 860,1141.9 861.3,1107.3 862.7,1124.6 864.3,1107.3 866,1141.9 867.3,1107.3 868.7,1141.9 870,1107.3 871.3,1107.3 873.3,1166.2 874.3,1176.5 877.7,1141.9 880,1166.2 882.7,1141.9 885.3,1176.5 888,1141.9 890.3,1072.7 892,1124.6 894,1107.3 896,1159.2 897.7,1176.5 902,1107.3 904.7,1166.2 908.7,1141.9 912,1176.5 918,1072.7 921,1141.9 924.7,1176.5 929.3,1107.3 932.7,1166.2 936,1141.9 937.7,1166.2 939.3,1176.5 942.7,1141.9 944.3,1166.2 946,1141.9 948,1166.2 951.3,1141.9 953.7,1166.2 957,1107.3 958.7,1107.3 960,1141.9 976.7,1176.5 992.7,1141.9 995.3,1107.3 998.7,1166.2 1001,1141.9 1002.7,1166.2 1005.3,1141.9 1007.7,1166.2 1011,1141.9 1017.7,1176.5 1024.3,1141.9 1026,1166.2 1029.3,1141.9 1031,1166.2 1034.3,1107.3 1037.7,1159.2 1039.3,1176.5 1044.3,1141.9 1047.7,1176.5 1050.3,1124.6 1052.7,1072.7 1054.7,1141.9 1056.7,1107.3 1058.7,1141.9 1061,1166.2 1064.3,1159.2 1069.3,1072.7 1072,1141.9 1074,1107.3 1076.7,1072.7 1079.3,1107.3 1082.7,1141.9 1086,1166.2 1089.3,1141.9 1091,1166.2 1094,1141.9 1095.3,1166.2 1096.7,1107.3 1099.3,1141.9 1105.3,1176.5 1109.3,1141.9 1111,1107.3 1112.7,1124.6 1114.3,1141.9 1119.3,1176.5 1127,1141.9 1130.3,1176.5 1134.3,1141.9 1139.3,1176.5 1142.7,1141.9 1144.7,1107.3 1146.7,1159.2 1148,1141.9 1150,1159.2 1155,1072.7 1157.3,1141.9 1159.3,1141.9 1161.7,1166.2 1163.3,1176.5 1166,1141.9 1170,1176.5 1174,1141.9 1176.7,1107.3 1178,1114.2 1179.3,1072.7 1181.7,1159.2 1183.3,1176.5 1187.3,1107.3 1190,1166.2 1191.7,1176.5 1194.3,1107.3 1195.7,1124.6 1197.3,1107.3 1199.3,1159.2 1201.7,1107.3 1204,1159.2 1206.7,1176.5 1210.3,1107.3 1213.3,1166.2 1215.7,1141.9 1220.7,1176.5 1226.7,1141.9 1230,1166.2 1233.3,1141.9 1238.3,1176.5 1243.3,1107.3 1245.3,1159.2 1247.3,1141.9 1249.3,1166.2 1252.7,1141.9 1254,1166.2 1256,1141.9 1257.3,1166.2 1259.3,1141.9 1261.7,1176.5 1266,1141.9 1268.3,1166.2 1271.7,1107.3 1273.3,1124.6 1276,1107.3 1277.7,1141.9 1279.3,1141.9 1281.7,1166.2 1284.3,1141.9 1288.3,1107.3 1291.7,1141.9 1296.7,1176.5 1301.7,1141.9 1306,1072.7 1308.3,1159.2 1310.7,1141.9 1313.3,1166.2 1316,1141.9 1318.3,1166.2 1324,1107.3 1327.3,1166.2 1329.3,1176.5 1331.7,1141.9 1335,1166.2 1337.3,1176.5 1341.7,1107.3 1345,1166.2 1346.7,1176.5 1350,1141.9 1352.7,1166.2 1356.7,1141.9 1358.3,1166.2 1360.7,1141.9 1362.7,1166.2 1365,1107.3 1366.7,1159.2 1368.3,1166.2 1371.7,1107.3 1374,1159.2 1377.3,1141.9 1379.3,1166.2 1381.3,1107.3 1383.3,1141.9 1385.3,1072.7 1387.3,1141.9 1390,1107.3 1391.7,1141.9 1393.3,1141.9 1395,1166.2 1396.7,1141.9 1399.3,1166.2 1400.7,1141.9 1403.3,1166.2 1405,1107.3 1407.3,1166.2 1409.3,1176.5 1413.3,1107.3 1416,1166.2 1418.3,1141.9 1420,1166.2 1422.7,1107.3 1423,1176.5 1423,1176.5" fill="#0000ff" stroke="none"/>
<polyline points="271.5,1141.9 273,1166.2 275.3,1141.9 278,1166.2 279.7,1176.5 283,1141.9 285.7,1072.7 288,1159.2 289.7,1176.5 291.3,1141.9 292.7,1166.2 294,1141.9 295.3,1159.2 297.3,1107.3 298.7,1124.6 300.3,1072.7 302,1107.3 303.3,1107.3 304.7,1038 306.7,1124.6 309.3,1107.3 311.3,1141.9 314,1166.2 316.3,1176.5 319.7,1141.9 321.3,1166.2 323,1141.9 326.3,1176.5 330.7,1141.9 333,1176.5 337,1107.3 339.7,1159.2 341.3,1176.5 343.3,1107.3 345.3,1159.2 347.3,1107.3 349,1124.6 350.7,1107.3 352,1141.9 353.7,1107.3 355.3,1166.2 358,1176.5 360.7,1107.3 363,1166.2 366.3,1107.3 369,1166.2 370.7,1176.5 374,1107.3 376.3,1166.2 378,1176.5 380.7,1141.9 382.3,1166.2 385.3,1141.9 387.3,1166.2 391.3,1141.9 398,1176.5 404.7,1141.9 412,1176.5 418.7,1141.9 423.3,1107.3 426.3,1159.2 430.7,1176.5 436.3,1141.9 438.7,1166.2 443,1107.3 444.7,1166.2 448,1141.9 450.3,1038 452.3,1107.3 454.7,1141.9 456.3,1107.3 458,1159.2 460.7,1176.5 463.3,1107.3 465.3,1159.2 467.3,1107.3 469.7,1166.2 472,1176.5 475.3,1107.3 478,1159.2 480.3,1107.3 483,1159.2 485.3,1176.5 488.7,1141.9 490.7,1166.2 494.7,1141.9 498,1176.5 502.3,1107.3 504.7,1159.2 508,1176.5 512.3,1159.2 515.3,1141.9 516.7,1166.2 518,1141.9 519.7,1166.2 522,1141.9 525.3,1176.5 532,1107.3 534.7,1166.2 537.3,1176.5 541.3,1141.9 543,1159.2 545,1072.7 547.3,1166.2 548.7,1176.5 551.3,1141.9 553,1166.2 556.7,1107.3 559.7,1159.2 562,1141.9 564.7,1176.5 570.3,1107.3 573.7,1166.2 575.3,1176.5 577,1141.9 578.7,1166.2 580.7,1107.3 582.7,1159.2 584,1176.5 587,1141.9 588.7,1159.2 592,1107.3 607,1176.5 622,1107.3 628.7,1176.5 633.7,1141.9 635.3,1166.2 638.7,1107.3 643.7,1176.5 648.7,1141.9 650.3,1166.2 653.7,1141.9 662,1176.5 672,1107.3 675.3,1166.2 677,1176.5 681.3,1107.3 683.7,1166.2 687,1141.9 688.7,1166.2 692,1107.3 696,1166.2 700.3,1107.3 703.7,1159.2 707,1176.5 712,1107.3 715.3,1159.2 718.7,1176.5 723.7,1141.9 726,1176.5 728.7,1141.9 730,1166.2 731.3,1141.9 732.7,1166.2 737,1107.3 738.7,1141.9 744.7,1176.5 750.3,1141.9 753.3,1072.7 756,1159.2 759.3,1141.9 763.7,1176.5 772.7,1141.9 776,1176.5 779.3,1072.7 781,1072.7 782.7,1166.2 787,1176.5 792,1141.9 794.3,1072.7 797,1124.6 799.3,1072.7 800.7,1090 802,1072.7 804,1124.6 806,1107.3 808,1166.2 812,1141.9 817,1176.5 822,1107.3 824.7,1159.2 827.7,1107.3 830.3,1141.9 833.7,1176.5 838.7,1124.6 842,1072.7 845.3,1141.9 848.7,1176.5 852,1107.3 854.3,1072.7 856,1107.3 857.7,1159.2 860,1141.9 861.3,1107.3 862.7,1124.6 864.3,1107.3 866,1141.9 867.3,1107.3 868.7,1141.9 870,1107.3 871.3,1107.3 873.3,1166.2 874.3,1176.5 877.7,1141.9 880,1166.2 882.7,1141.9 885.3,1176.5 888,1141.9 890.3,1072.7 892,1124.6 894,1107.3 896,1159.2 897.7,1176.5 902,1107.3 904.7,1166.2 908.7,1141.9 912,1176.5 918,1072.7 921,1141.9 924.7,1176.5 929.3,1107.3 932.7,1166.2 936,1141.9 937.7,1166.2 939.3,1176.5 942.7,1141.9 944.3,1166.2 946,1141.9 948,1166.2 951.3,1141.9 953.7,1166.2 957,1107.3 958.7,1107.3 960,1141.9 976.7,1176.5 992.7,1141.9 995.3,1107.3 998.7,1166.2 1001,1141.9 1002.7,1166.2 1005.3,1141.9 1007.7,1166.2 1011,1141.9 1017.7,1176.5 1024.3,1141.9 1026,1166.2 1029.3,1141.9 1031,1166.2 1034.3,1107.3 1037.7,1159.2 1039.3,1176.5 1044.3,1141.9 1047.7,1176.5 1050.3,1124.6 1052.7,1072.7 1054.7,1141.9 1056.7,1107.3 1058.7,1141.9 1061,1166.2 1064.3,1159.2 1069.3,1072.7 1072,1141.9 1074,1107.3 1076.7,1072.7 1079.3,1107.3 1082.7,1141.9 1086,1166.2 1089.3,1141.9 1091,1166.2 1094,1141.9 1095.3,1166.2 1096.7,1107.3 1099.3,1141.9 1105.3,1176.5 1109.3,1141.9 1111,1107.3 1112.7,1124.6 1114.3,1141.9 1119.3,1176.5 1127,1141.9 1130.3,1176.5 1134.3,1141.9 1139.3,1176.5 1142.7,1141.9 1144.7,1107.3 1146.7,1159.2 1148,1141.9 1150,1159.2 1155,1072.7 1157.3,1141.9 1159.3,1141.9 1161.7,1166.2 1163.3,1176.5 1166,1141.9 1170,1176.5 1174,1141.9 1176.7,1107.3 1178,1114.2 1179.3,1072.7 1181.7,1159.2 1183.3,1176.5 1187.3,1107.3 1190,1166.2 1191.7,1176.5 1194.3,1107.3 1195.7,1124.6 1197.3,1107.3 1199.3,1159.2 1201.7,1107.3 1204,1159.2 1206.7,1176.5 1210.3,1107.3 1213.3,1166.2 1215.7,1141.9 1220.7,1176.5 1226.7,1141.9 1230,1166.2 1233.3,1141.9 1238.3,1176.5 1243.3,1107.3 1245.3,1159.2 1247.3,1141.9 1249.3,1166.2 1252.7,1141.9 1254,1166.2 1256,1141.9 1257.3,1166.2 1259.3,1141.9 1261.7,1176.5 1266,1141.9 1268.3,1166.2 1271.7,1107.3 1273.3,1124.6 1276,1107.3 1277.7,1141.9 1279.3,1141.9 1281.7,1166.2 1284.3,1141.9 1288.3,1107.3 1291.7,1141.9 1296.7,1176.5 1301.7,1141.9 1306,1072.7 1308.3,1159.2 1310.7,1141.9 1313.3,1166.2 1316,1141.9 1318.3,1166.2 1324,1107.3 1327.3,1166.2 1329.3,1176.5 1331.7,1141.9 1335,1166.2 1337.3,1176.5 1341.7,1107.3 1345,1166.2 1346.7,1176.5 1350,1141.9 1352.7,1166.2 1356.7,1141.9 1358.3,1166.2 1360.7,1141.9 1362.7,1166.2 1365,1107.3 1366.7,1159.2 1368.3,1166.2 1371.7,1107.3 1374,1159.2 1377.3,1141.9 1379.3,1166.2 1381.3,1107.3 1383.3,1141.9 1385.3,1072.7 1387.3,1141.9 1390,1107.3 1391.7,1141.9 1393.3,1141.9 1395,1166.2 1396.7,1141.9 1399.3,1166.2 1400.7,1141.9 1403.3,1166.2 1405,1107.3 1407.3,1166.2 1409.3,1176.5 1413.3,1107.3 1416,1166.2 1418.3,1141.9 1420,1166.2 1422.7,1107.3 1423,1176.5" fill="none" stroke="#000088" stroke-width="0.7"/>
<path d="M273,1176.5V1166.2M292.7,1176.5V1166.2M295.3,1176.5V1159.2M298.7,1176.5V1124.6M302,1176.5V1107.3M303.3,1176.5V1107.3M306.7,1176.5V1124.6M321.3,1176.5V1166.2M345.3,1176.5V1159.2M349,1176.5V1124.6M352,1176.5V1141.9M363,1176.5V1166.2M382.3,1176.5V1166.2M387.3,1176.5V1166.2M438.7,1176.5V1166.2M444.7,1176.5V1166.2M454.7,1176.5V1141.9M465.3,1176.5V1159.2M478,1176.5V1159.2M490.7,1176.5V1166.2M516.7,1176.5V1166.2M519.7,1176.5V1166.2M543,1176.5V1159.2M553,1176.5V1166.2M559.7,1176.5V1159.2M578.7,1176.5V1166.2M588.7,1176.5V1159.2M635.3,1176.5V1166.2M650.3,1176.5V1166.2M683.7,1176.5V1166.2M688.7,1176.5V1166.2M696,1176.5V1166.2M730,1176.5V1166.2M732.7,1176.5V1166.2M756,1176.5V1159.2M797,1176.5V1124.6M800.7,1176.5V1090M804,1176.5V1124.6M808,1176.5V1166.2M824.7,1176.5V1159.2M857.7,1176.5V1159.2M862.7,1176.5V1124.6M866,1176.5V1141.9M868.7,1176.5V1141.9M880,1176.5V1166.2M892,1176.5V1124.6M904.7,1176.5V1166.2M932.7,1176.5V1166.2M944.3,1176.5V1166.2M948,1176.5V1166.2M953.7,1176.5V1166.2M998.7,1176.5V1166.2M1002.7,1176.5V1166.2M1007.7,1176.5V1166.2M1026,1176.5V1166.2M1031,1176.5V1166.2M1054.7,1176.5V1141.9M1061,1176.5V1166.2M1072,1176.5V1141.9M1086,1176.5V1166.2M1091,1176.5V1166.2M1095.3,1176.5V1166.2M1146.7,1176.5V1159.2M1150,1176.5V1159.2M1157.3,1176.5V1141.9M1178,1176.5V1114.2M1195.7,1176.5V1124.6M1199.3,1176.5V1159.2M1213.3,1176.5V1166.2M1230,1176.5V1166.2M1245.3,1176.5V1159.2M1249.3,1176.5V1166.2M1254,1176.5V1166.2M1257.3,1176.5V1166.2M1268.3,1176.5V1166.2M1273.3,1176.5V1124.6M1277.7,1176.5V1141.9M1281.7,1176.5V1166.2M1308.3,1176.5V1159.2M1313.3,1176.5V1166.2M1318.3,1176.5V1166.2M1352.7,1176.5V1166.2M1358.3,1176.5V1166.2M1362.7,1176.5V1166.2M1368.3,1176.5V1166.2M1374,1176.5V1159.2M1379.3,1176.5V1166.2M1383.3,1176.5V1141.9M1387.3,1176.5V1141.9M1391.7,1176.5V1141.9M1395,1176.5V1166.2M1399.3,1176.5V1166.2M1403.3,1176.5V1166.2M1416,1176.5V1166.2M1420,1176.5V1166.2" fill="none" stroke="#000088" stroke-width="0.8"/>
<path d="M259.2,1038 H271.4" fill="none" stroke="#222" stroke-width="1"/>
<path d="M259.2,1176.5 H271.4" fill="none" stroke="#333" stroke-width="1"/>
<path d="M270.9,1037.5 V1177" fill="none" stroke="#555" stroke-width="1.3"/>
<text x="251.8" y="1041.3" font-size="12" text-anchor="end" fill="#000">5</text>
<text x="251.8" y="1179.5" font-size="12" text-anchor="end" fill="#000">0</text>
<text x="73" y="1267.5" font-size="23.5" fill="#000">GSM2481684</text>
<polygon points="272,1330.5 272,1313.2 274,1325.3 276.3,1278.5 278,1313.2 280.7,1278.5 282.7,1304.5 284,1295.9 285.3,1313.2 287.3,1325.3 289.7,1295.9 291.3,1313.2 294,1295.9 295.3,1313.2 297.3,1261.2 299.7,1313.2 301.3,1325.3 304,1226.6 306,1295.9 308,1295.9 309.7,1313.2 311.3,1295.9 313.3,1295.9 315,1278.5 316.7,1313.2 318,1330.5 320.3,1313.2 329.7,1330.5 338.7,1313.2 340.7,1325.3 342.7,1295.9 345.3,1325.3 347.3,1313.2 349.7,1330.5 353,1295.9 355.3,1325.3 358,1295.9 360.7,1325.3 364,1330.5 369.7,1313.2 371.3,1325.3 374,1278.5 375.7,1313.2 378,1295.9 380,1304.5 381.7,1243.9 384,1304.5 386.7,1295.9 388.7,1313.2 390.7,1243.9 393,1278.5 394.7,1325.3 396.7,1313.2 398,1325.3 399.7,1313.2 401.3,1325.3 403,1313.2 405.3,1330.5 408,1313.2 410.7,1325.3 414,1278.5 417.3,1321.8 419.7,1330.5 423,1295.9 427.3,1330.5 433.7,1313.2 436.3,1325.3 439,1313.2 443,1330.5 453,1313.2 455.3,1325.3 459.7,1295.9 463,1321.8 466.3,1330.5 469.7,1313.2 471.3,1325.3 474,1313.2 475.3,1325.3 478,1313.2 481.3,1325.3 484.7,1313.2 498,1330.5 511.3,1313.2 512.3,1295.9 514,1325.3 517.3,1313.2 518.7,1325.3 521.3,1313.2 524,1330.5 528,1295.9 530,1304.5 531.3,1295.9 534,1313.2 536.3,1330.5 538.7,1313.2 545.3,1330.5 553,1313.2 554.7,1325.3 558,1295.9 560.7,1321.8 562,1321.8 563.7,1313.2 570.3,1330.5 578,1313.2 580.3,1325.3 582.7,1313.2 584.7,1325.3 587.3,1313.2 593.7,1330.5 600.3,1313.2 611.3,1330.5 622,1313.2 628.7,1330.5 636,1313.2 638,1325.3 640.7,1295.9 642,1261.2 643.7,1325.3 645.3,1313.2 647,1325.3 650.3,1313.2 655.3,1330.5 658.7,1313.2 660.3,1313.2 662,1295.9 664,1325.3 666,1313.2 669.3,1330.5 673.7,1295.9 676,1321.8 680.3,1295.9 682.7,1325.3 686,1313.2 688,1330.5 691.3,1295.9 693.7,1325.3 697,1313.2 698.7,1330.5 703.7,1295.9 706,1325.3 708,1313.2 711.3,1330.5 714.7,1313.2 716,1325.3 718,1313.2 721.3,1330.5 724.7,1295.9 726.3,1295.9 727.7,1278.5 729.3,1295.9 731.3,1313.2 733.7,1330.5 737,1278.5 739.3,1325.3 743,1313.2 744.7,1330.5 748,1295.9 750,1278.5 752,1313.2 753.7,1295.9 755.3,1304.5 757,1295.9 759.3,1325.3 763,1295.9 765.3,1325.3 768.7,1313.2 772,1330.5 775.3,1313.2 777,1330.5 782.7,1313.2 784,1325.3 786,1313.2 788.7,1330.5 793.7,1295.9 795.3,1313.2 797.3,1313.2 799.3,1330.5 802,1313.2 805.3,1278.5 808,1321.8 810.3,1313.2 812,1325.3 815.3,1278.5 818.7,1304.5 821.3,1295.9 823.7,1278.5 825.3,1295.9 827,1278.5 828.7,1313.2 830.7,1330.5 832,1295.9 834.7,1321.8 837,1330.5 841.3,1295.9 843.7,1313.2 845.3,1325.3 847.3,1313.2 848.7,1325.3 850.7,1313.2 852,1325.3 856,1313.2 857.7,1325.3 861,1295.9 863.3,1325.3 865.3,1330.5 868.7,1295.9 871,1325.3 874.3,1313.2 876.7,1325.3 880,1313.2 882,1325.3 885.3,1313.2 886.7,1321.8 888.7,1295.9 890,1295.9 891.3,1261.2 892.7,1278.5 894.3,1243.9 896.7,1261.2 898.3,1295.9 900.7,1192 902.7,1295.9 904.3,1278.5 906,1261.2 908,1243.9 909.3,1252.6 910.7,1243.9 912.7,1278.5 914.7,1313.2 916.7,1261.2 918,1313.2 919.3,1325.3 921,1313.2 922.7,1325.3 924.3,1313.2 926.7,1330.5 929.3,1313.2 934.3,1330.5 939.3,1313.2 942,1330.5 946,1295.9 948,1313.2 950.3,1295.9 952.7,1325.3 955.3,1295.9 957.3,1278.5 958.7,1304.5 960.3,1295.9 962.7,1321.8 965.3,1330.5 973.3,1295.9 980,1330.5 984.3,1313.2 987.3,1278.5 989.3,1321.8 992.7,1313.2 995.3,1295.9 998.7,1313.2 1001,1325.3 1005.3,1278.5 1007.7,1321.8 1009.3,1313.2 1011,1295.9 1012.7,1313.2 1015.3,1295.9 1017.7,1325.3 1022,1313.2 1027.7,1330.5 1031,1313.2 1032.7,1325.3 1036.7,1313.2 1039.3,1330.5 1043.3,1295.9 1046,1325.3 1048.7,1330.5 1051,1313.2 1052.7,1325.3 1055,1295.9 1057,1325.3 1059.3,1313.2 1061.7,1295.9 1064.3,1325.3 1068.7,1295.9 1071,1325.3 1074.3,1313.2 1076.7,1330.5 1081,1295.9 1083.3,1325.3 1085.3,1313.2 1087.7,1330.5 1091,1295.9 1093.3,1325.3 1096,1295.9 1098,1321.8 1100.3,1313.2 1102,1325.3 1104.3,1313.2 1106,1325.3 1107.7,1313.2 1110,1330.5 1113.7,1261.2 1116,1325.3 1119.3,1330.5 1123.3,1295.9 1126.7,1325.3 1130,1313.2 1131.3,1325.3 1135,1295.9 1137.7,1325.3 1140,1330.5 1142.7,1313.2 1146.7,1330.5 1150,1313.2 1151.7,1325.3 1155,1313.2 1157.3,1330.5 1162.7,1313.2 1164,1325.3 1166,1313.2 1168.3,1325.3 1170,1313.2 1173.3,1330.5 1177.3,1313.2 1180,1330.5 1182.7,1313.2 1184,1325.3 1186.7,1313.2 1189.3,1325.3 1192.7,1313.2 1195,1295.9 1196.7,1325.3 1199.3,1295.9 1201.7,1325.3 1203.3,1313.2 1205,1278.5 1206.7,1313.2 1211.7,1330.5 1219.3,1313.2 1221.7,1330.5 1224,1313.2 1227.3,1330.5 1232.7,1295.9 1234.7,1325.3 1237.3,1295.9 1239.3,1325.3 1242.3,1295.9 1244,1321.8 1246,1313.2 1247.3,1325.3 1249.3,1313.2 1251.7,1330.5 1255,1313.2 1256.7,1295.9 1257.7,1295.9 1259.3,1261.2 1261.7,1304.5 1265,1330.5 1269.3,1313.2 1271.7,1325.3 1274,1313.2 1276,1330.5 1279.3,1278.5 1281.7,1325.3 1284,1330.5 1286.7,1313.2 1289.3,1278.5 1291.7,1321.8 1295,1313.2 1299,1278.5 1301.7,1313.2 1310,1330.5 1316.7,1313.2 1320,1278.5 1322.7,1313.2 1324,1321.8 1327.3,1261.2 1330,1321.8 1332.7,1330.5 1336,1278.5 1338.3,1325.3 1341.7,1313.2 1343.3,1325.3 1346.7,1295.9 1348.7,1325.3 1351,1278.5 1353.3,1325.3 1356.7,1295.9 1358.7,1325.3 1361.7,1278.5 1363.3,1313.2 1366,1295.9 1367.3,1313.2 1370,1295.9 1372,1321.8 1374,1330.5 1376.7,1313.2 1378,1325.3 1380,1313.2 1382.7,1330.5 1388.3,1313.2 1390.7,1330.5 1395,1313.2 1400,1330.5 1403.3,1313.2 1406.7,1295.9 1408.7,1321.8 1411,1295.9 1413.3,1325.3 1416.7,1313.2 1419.3,1330.5 1422.7,1313.2 1423,1330.5 1423,1330.5" fill="#0000ff" stroke="none"/>
<polyline points="272,1313.2 274,1325.3 276.3,1278.5 278,1313.2 280.7,1278.5 282.7,1304.5 284,1295.9 285.3,1313.2 287.3,1325.3 289.7,1295.9 291.3,1313.2 294,1295.9 295.3,1313.2 297.3,1261.2 299.7,1313.2 301.3,1325.3 304,1226.6 306,1295.9 308,1295.9 309.7,1313.2 311.3,1295.9 313.3,1295.9 315,1278.5 316.7,1313.2 318,1330.5 320.3,1313.2 329.7,1330.5 338.7,1313.2 340.7,1325.3 342.7,1295.9 345.3,1325.3 347.3,1313.2 349.7,1330.5 353,1295.9 355.3,1325.3 358,1295.9 360.7,1325.3 364,1330.5 369.7,1313.2 371.3,1325.3 374,1278.5 375.7,1313.2 378,1295.9 380,1304.5 381.7,1243.9 384,1304.5 386.7,1295.9 388.7,1313.2 390.7,1243.9 393,1278.5 394.7,1325.3 396.7,1313.2 398,1325.3 399.7,1313.2 401.3,1325.3 403,1313.2 405.3,1330.5 408,1313.2 410.7,1325.3 414,1278.5 417.3,1321.8 419.7,1330.5 423,1295.9 427.3,1330.5 433.7,1313.2 436.3,1325.3 439,1313.2 443,1330.5 453,1313.2 455.3,1325.3 459.7,1295.9 463,1321.8 466.3,1330.5 469.7,1313.2 471.3,1325.3 474,1313.2 475.3,1325.3 478,1313.2 481.3,1325.3 484.7,1313.2 498,1330.5 511.3,1313.2 512.3,1295.9 514,1325.3 517.3,1313.2 518.7,1325.3 521.3,1313.2 524,1330.5 528,1295.9 530,1304.5 531.3,1295.9 534,1313.2 536.3,1330.5 538.7,1313.2 545.3,1330.5 553,1313.2 554.7,1325.3 558,1295.9 560.7,1321.8 562,1321.8 563.7,1313.2 570.3,1330.5 578,1313.2 580.3,1325.3 582.7,1313.2 584.7,1325.3 587.3,1313.2 593.7,1330.5 600.3,1313.2 611.3,1330.5 622,1313.2 628.7,1330.5 636,1313.2 638,1325.3 640.7,1295.9 642,1261.2 643.7,1325.3 645.3,1313.2 647,1325.3 650.3,1313.2 655.3,1330.5 658.7,1313.2 660.3,1313.2 662,1295.9 664,1325.3 666,1313.2 669.3,1330.5 673.7,1295.9 676,1321.8 680.3,1295.9 682.7,1325.3 686,1313.2 688,1330.5 691.3,1295.9 693.7,1325.3 697,1313.2 698.7,1330.5 703.7,1295.9 706,1325.3 708,1313.2 711.3,1330.5 714.7,1313.2 716,1325.3 718,1313.2 721.3,1330.5 724.7,1295.9 726.3,1295.9 727.7,1278.5 729.3,1295.9 731.3,1313.2 733.7,1330.5 737,1278.5 739.3,1325.3 743,1313.2 744.7,1330.5 748,1295.9 750,1278.5 752,1313.2 753.7,1295.9 755.3,1304.5 757,1295.9 759.3,1325.3 763,1295.9 765.3,1325.3 768.7,1313.2 772,1330.5 775.3,1313.2 777,1330.5 782.7,1313.2 784,1325.3 786,1313.2 788.7,1330.5 793.7,1295.9 795.3,1313.2 797.3,1313.2 799.3,1330.5 802,1313.2 805.3,1278.5 808,1321.8 810.3,1313.2 812,1325.3 815.3,1278.5 818.7,1304.5 821.3,1295.9 823.7,1278.5 825.3,1295.9 827,1278.5 828.7,1313.2 830.7,1330.5 832,1295.9 834.7,1321.8 837,1330.5 841.3,1295.9 843.7,1313.2 845.3,1325.3 847.3,1313.2 848.7,1325.3 850.7,1313.2 852,1325.3 856,1313.2 857.7,1325.3 861,1295.9 863.3,1325.3 865.3,1330.5 868.7,1295.9 871,1325.3 874.3,1313.2 876.7,1325.3 880,1313.2 882,1325.3 885.3,1313.2 886.7,1321.8 888.7,1295.9 890,1295.9 891.3,1261.2 892.7,1278.5 894.3,1243.9 896.7,1261.2 898.3,1295.9 900.7,1192 902.7,1295.9 904.3,1278.5 906,1261.2 908,1243.9 909.3,1252.6 910.7,1243.9 912.7,1278.5 914.7,1313.2 916.7,1261.2 918,1313.2 919.3,1325.3 921,1313.2 922.7,1325.3 924.3,1313.2 926.7,1330.5 929.3,1313.2 934.3,1330.5 939.3,1313.2 942,1330.5 946,1295.9 948,1313.2 950.3,1295.9 952.7,1325.3 955.3,1295.9 957.3,1278.5 958.7,1304.5 960.3,1295.9 962.7,1321.8 965.3,1330.5 973.3,1295.9 980,1330.5 984.3,1313.2 987.3,1278.5 989.3,1321.8 992.7,1313.2 995.3,1295.9 998.7,1313.2 1001,1325.3 1005.3,1278.5 1007.7,1321.8 1009.3,1313.2 1011,1295.9 1012.7,1313.2 1015.3,1295.9 1017.7,1325.3 1022,1313.2 1027.7,1330.5 1031,1313.2 1032.7,1325.3 1036.7,1313.2 1039.3,1330.5 1043.3,1295.9 1046,1325.3 1048.7,1330.5 1051,1313.2 1052.7,1325.3 1055,1295.9 1057,1325.3 1059.3,1313.2 1061.7,1295.9 1064.3,1325.3 1068.7,1295.9 1071,1325.3 1074.3,1313.2 1076.7,1330.5 1081,1295.9 1083.3,1325.3 1085.3,1313.2 1087.7,1330.5 1091,1295.9 1093.3,1325.3 1096,1295.9 1098,1321.8 1100.3,1313.2 1102,1325.3 1104.3,1313.2 1106,1325.3 1107.7,1313.2 1110,1330.5 1113.7,1261.2 1116,1325.3 1119.3,1330.5 1123.3,1295.9 1126.7,1325.3 1130,1313.2 1131.3,1325.3 1135,1295.9 1137.7,1325.3 1140,1330.5 1142.7,1313.2 1146.7,1330.5 1150,1313.2 1151.7,1325.3 1155,1313.2 1157.3,1330.5 1162.7,1313.2 1164,1325.3 1166,1313.2 1168.3,1325.3 1170,1313.2 1173.3,1330.5 1177.3,1313.2 1180,1330.5 1182.7,1313.2 1184,1325.3 1186.7,1313.2 1189.3,1325.3 1192.7,1313.2 1195,1295.9 1196.7,1325.3 1199.3,1295.9 1201.7,1325.3 1203.3,1313.2 1205,1278.5 1206.7,1313.2 1211.7,1330.5 1219.3,1313.2 1221.7,1330.5 1224,1313.2 1227.3,1330.5 1232.7,1295.9 1234.7,1325.3 1237.3,1295.9 1239.3,1325.3 1242.3,1295.9 1244,1321.8 1246,1313.2 1247.3,1325.3 1249.3,1313.2 1251.7,1330.5 1255,1313.2 1256.7,1295.9 1257.7,1295.9 1259.3,1261.2 1261.7,1304.5 1265,1330.5 1269.3,1313.2 1271.7,1325.3 1274,1313.2 1276,1330.5 1279.3,1278.5 1281.7,1325.3 1284,1330.5 1286.7,1313.2 1289.3,1278.5 1291.7,1321.8 1295,1313.2 1299,1278.5 1301.7,1313.2 1310,1330.5 1316.7,1313.2 1320,1278.5 1322.7,1313.2 1324,1321.8 1327.3,1261.2 1330,1321.8 1332.7,1330.5 1336,1278.5 1338.3,1325.3 1341.7,1313.2 1343.3,1325.3 1346.7,1295.9 1348.7,1325.3 1351,1278.5 1353.3,1325.3 1356.7,1295.9 1358.7,1325.3 1361.7,1278.5 1363.3,1313.2 1366,1295.9 1367.3,1313.2 1370,1295.9 1372,1321.8 1374,1330.5 1376.7,1313.2 1378,1325.3 1380,1313.2 1382.7,1330.5 1388.3,1313.2 1390.7,1330.5 1395,1313.2 1400,1330.5 1403.3,1313.2 1406.7,1295.9 1408.7,1321.8 1411,1295.9 1413.3,1325.3 1416.7,1313.2 1419.3,1330.5 1422.7,1313.2 1423,1330.5" fill="none" stroke="#000088" stroke-width="0.7"/>
<path d="M274,1330.5V1325.3M278,1330.5V1313.2M282.7,1330.5V1304.5M287.3,1330.5V1325.3M291.3,1330.5V1313.2M295.3,1330.5V1313.2M301.3,1330.5V1325.3M306,1330.5V1295.9M309.7,1330.5V1313.2M313.3,1330.5V1295.9M340.7,1330.5V1325.3M345.3,1330.5V1325.3M355.3,1330.5V1325.3M371.3,1330.5V1325.3M375.7,1330.5V1313.2M380,1330.5V1304.5M384,1330.5V1304.5M388.7,1330.5V1313.2M394.7,1330.5V1325.3M398,1330.5V1325.3M401.3,1330.5V1325.3M410.7,1330.5V1325.3M436.3,1330.5V1325.3M455.3,1330.5V1325.3M471.3,1330.5V1325.3M475.3,1330.5V1325.3M481.3,1330.5V1325.3M514,1330.5V1325.3M518.7,1330.5V1325.3M530,1330.5V1304.5M554.7,1330.5V1325.3M560.7,1330.5V1321.8M562,1330.5V1321.8M580.3,1330.5V1325.3M584.7,1330.5V1325.3M638,1330.5V1325.3M643.7,1330.5V1325.3M647,1330.5V1325.3M660.3,1330.5V1313.2M664,1330.5V1325.3M676,1330.5V1321.8M682.7,1330.5V1325.3M693.7,1330.5V1325.3M706,1330.5V1325.3M716,1330.5V1325.3M726.3,1330.5V1295.9M739.3,1330.5V1325.3M752,1330.5V1313.2M755.3,1330.5V1304.5M759.3,1330.5V1325.3M765.3,1330.5V1325.3M784,1330.5V1325.3M795.3,1330.5V1313.2M808,1330.5V1321.8M812,1330.5V1325.3M818.7,1330.5V1304.5M825.3,1330.5V1295.9M845.3,1330.5V1325.3M848.7,1330.5V1325.3M852,1330.5V1325.3M857.7,1330.5V1325.3M871,1330.5V1325.3M876.7,1330.5V1325.3M882,1330.5V1325.3M886.7,1330.5V1321.8M890,1330.5V1295.9M892.7,1330.5V1278.5M898.3,1330.5V1295.9M902.7,1330.5V1295.9M909.3,1330.5V1252.6M914.7,1330.5V1313.2M919.3,1330.5V1325.3M922.7,1330.5V1325.3M948,1330.5V1313.2M952.7,1330.5V1325.3M958.7,1330.5V1304.5M989.3,1330.5V1321.8M1001,1330.5V1325.3M1007.7,1330.5V1321.8M1012.7,1330.5V1313.2M1017.7,1330.5V1325.3M1032.7,1330.5V1325.3M1052.7,1330.5V1325.3M1057,1330.5V1325.3M1064.3,1330.5V1325.3M1071,1330.5V1325.3M1083.3,1330.5V1325.3M1093.3,1330.5V1325.3M1098,1330.5V1321.8M1102,1330.5V1325.3M1106,1330.5V1325.3M1126.7,1330.5V1325.3M1131.3,1330.5V1325.3M1151.7,1330.5V1325.3M1164,1330.5V1325.3M1168.3,1330.5V1325.3M1184,1330.5V1325.3M1189.3,1330.5V1325.3M1196.7,1330.5V1325.3M1201.7,1330.5V1325.3M1234.7,1330.5V1325.3M1239.3,1330.5V1325.3M1244,1330.5V1321.8M1247.3,1330.5V1325.3M1257.7,1330.5V1295.9M1271.7,1330.5V1325.3M1291.7,1330.5V1321.8M1324,1330.5V1321.8M1338.3,1330.5V1325.3M1343.3,1330.5V1325.3M1348.7,1330.5V1325.3M1353.3,1330.5V1325.3M1358.7,1330.5V1325.3M1363.3,1330.5V1313.2M1367.3,1330.5V1313.2M1378,1330.5V1325.3M1408.7,1330.5V1321.8M1413.3,1330.5V1325.3" fill="none" stroke="#000088" stroke-width="0.8"/>
<path d="M259.2,1192 H271.4" fill="none" stroke="#222" stroke-width="1"/>
<path d="M259.2,1330.5 H271.4" fill="none" stroke="#333" stroke-width="1"/>
<path d="M270.9,1191.5 V1331" fill="none" stroke="#555" stroke-width="1.3"/>
<text x="251.8" y="1195.3" font-size="12" text-anchor="end" fill="#000">6</text>
<text x="251.8" y="1333.5" font-size="12" text-anchor="end" fill="#000">0</text>
<text x="73" y="1421.4" font-size="23.5" fill="#000">GSM2481683</text>
<polygon points="271.5,1484.4 271.5,1429 273,1456.7 276.3,1401.3 278.7,1470.6 280,1484.4 282,1456.7 284,1484.4 288,1456.7 292,1484.4 295.3,1373.6 296.7,1401.3 298,1373.6 300,1401.3 302.3,1345.9 304.7,1456.7 306.7,1401.3 308,1415.2 309.3,1401.3 311.3,1401.3 313.3,1456.7 317.3,1484.4 325.3,1429 328.7,1484.4 333.7,1401.3 335.3,1429 337.3,1373.6 339.7,1456.7 344.7,1484.4 348.7,1456.7 350,1484.4 352.3,1345.9 354.7,1470.6 356.3,1484.4 358,1456.7 359.3,1476.1 362.3,1373.6 364.7,1470.6 367,1429 368.7,1470.6 372,1429 374,1470.6 378.7,1429 381.3,1470.6 384,1484.4 389.3,1401.3 392,1470.6 394.7,1470.6 397.3,1429 400,1429 402.3,1456.7 408,1484.4 413,1456.7 418,1484.4 422.3,1456.7 426.3,1484.4 431.3,1456.7 434.7,1484.4 437.3,1429 439,1442.9 442.7,1401.3 445.3,1456.7 453,1484.4 461.3,1429 463.7,1476.1 465.3,1456.7 466.7,1476.1 468,1429 470,1476.1 472,1484.4 476.3,1429 478,1442.9 481.3,1345.9 483.7,1401.3 485.3,1373.6 487.3,1429 489.7,1470.6 491.3,1484.4 493.3,1456.7 495.7,1484.4 499.3,1429 501.3,1470.6 503,1484.4 506.3,1401.3 508,1429 509.7,1401.3 512,1456.7 514.7,1484.4 518.7,1456.7 520,1476.1 522,1456.7 523.3,1476.1 525.3,1484.4 528.7,1429 538,1484.4 548,1456.7 549.7,1476.1 552,1429 554,1470.6 555.3,1484.4 559,1429 562,1484.4 565.3,1456.7 568.7,1484.4 572,1470.6 576.7,1429 578.7,1442.9 581,1401.3 583.3,1470.6 584.7,1470.6 587,1373.6 589.3,1442.9 592,1429 594.7,1470.6 596,1484.4 600.3,1456.7 601.3,1470.6 602.7,1456.7 612,1484.4 622,1456.7 624.3,1401.3 626.3,1476.1 628,1470.6 630.3,1456.7 632,1484.4 636,1456.7 640.3,1484.4 650.3,1429 653.7,1484.4 656.3,1456.7 658,1476.1 661.3,1456.7 663,1476.1 666.3,1456.7 672,1484.4 677.7,1456.7 682,1484.4 688,1456.7 690.3,1470.6 692.7,1401.3 694.7,1456.7 696.3,1429 698,1456.7 699.7,1373.6 702,1442.9 703.7,1429 705.3,1429 708.7,1476.1 711.3,1456.7 713,1429 714.7,1456.7 716.7,1429 718.7,1470.6 721.3,1456.7 722.7,1373.6 724.3,1401.3 726,1373.6 728,1429 730.3,1470.6 733.7,1484.4 737,1456.7 742,1484.4 745.3,1456.7 747.3,1429 749.3,1456.7 752,1401.3 754,1470.6 756,1429 758,1470.6 760.3,1456.7 762.7,1401.3 765.3,1470.6 768,1456.7 769.3,1476.1 771.3,1429 773,1476.1 775.3,1456.7 777,1476.1 779.3,1429 782,1470.6 783.7,1456.7 785.3,1470.6 788,1429 792,1484.4 798.7,1429 800.3,1470.6 802.7,1484.4 805.3,1401.3 808,1456.7 812,1484.4 818,1429 820.3,1470.6 823.7,1401.3 826,1442.9 827.7,1429 830.3,1476.1 832.7,1456.7 835.3,1484.4 841.3,1429 845.3,1470.6 848.7,1429 852,1476.1 856,1456.7 857.3,1429 858.7,1429 860.7,1470.6 862,1484.4 864.3,1401.3 866.7,1470.6 868.7,1484.4 871.3,1456.7 874.3,1373.6 876.7,1456.7 879.3,1456.7 881.3,1484.4 885.3,1456.7 887.3,1484.4 890.3,1401.3 892.7,1470.6 894.3,1484.4 898,1401.3 900.3,1456.7 902,1429 904,1470.6 906,1484.4 908.7,1456.7 914.3,1484.4 921.3,1429 926.7,1484.4 932.7,1456.7 936.7,1484.4 939.3,1456.7 941,1470.6 942.7,1429 944.7,1470.6 946,1484.4 948.7,1401.3 951,1470.6 953.3,1401.3 955.3,1470.6 957,1456.7 958.7,1476.1 960.3,1456.7 962,1476.1 963.7,1456.7 965,1476.1 967,1456.7 969.3,1484.4 972.7,1456.7 975.3,1484.4 979.3,1429 981,1470.6 982.7,1456.7 986,1484.4 990,1456.7 991.7,1476.1 993.7,1456.7 996,1484.4 998.7,1456.7 1002,1484.4 1005.3,1401.3 1007.7,1476.1 1009.3,1484.4 1016.3,1429 1020,1484.4 1022.7,1456.7 1026.7,1484.4 1031,1456.7 1032.7,1476.1 1035,1456.7 1037.7,1484.4 1044.3,1429 1046.7,1470.6 1048.7,1484.4 1051,1401.3 1053.3,1476.1 1055.3,1456.7 1057.7,1484.4 1062,1429 1063.3,1429 1065.3,1476.1 1067,1456.7 1069.3,1484.4 1072.7,1429 1074.7,1476.1 1078.7,1401.3 1081,1476.1 1084.3,1401.3 1086,1429 1087.3,1429 1089.3,1470.6 1091,1456.7 1092.7,1476.1 1095.3,1401.3 1097.3,1456.7 1099.3,1373.6 1101.3,1456.7 1104.3,1456.7 1106,1476.1 1109.3,1429 1111,1442.9 1113.3,1429 1116,1470.6 1119.3,1484.4 1126.7,1429 1128.7,1442.9 1132,1401.3 1135.3,1470.6 1137.7,1484.4 1141.3,1456.7 1143.3,1484.4 1146,1429 1148.7,1476.1 1150,1484.4 1152.7,1456.7 1154,1476.1 1158.3,1401.3 1160.7,1456.7 1166.7,1484.4 1171.7,1456.7 1174.3,1429 1176,1456.7 1178.3,1429 1180.7,1470.6 1182.7,1484.4 1187.3,1429 1190,1476.1 1191.7,1484.4 1194,1456.7 1195.7,1476.1 1199.3,1429 1201.7,1476.1 1203.3,1456.7 1204.7,1476.1 1207.3,1456.7 1210,1484.4 1214.3,1429 1216.7,1470.6 1218.3,1484.4 1220.7,1456.7 1223.3,1484.4 1228.3,1373.6 1231.7,1456.7 1235,1484.4 1240,1456.7 1243.3,1401.3 1246.7,1470.6 1249.3,1476.1 1251.7,1429 1253.3,1470.6 1256.7,1401.3 1260,1456.7 1263.3,1484.4 1268.3,1456.7 1270,1476.1 1271.7,1456.7 1279.3,1484.4 1287.3,1456.7 1289.3,1476.1 1291.7,1456.7 1293.3,1476.1 1296,1456.7 1300,1484.4 1306,1401.3 1309.3,1484.4 1314,1456.7 1318.3,1484.4 1321.7,1456.7 1323.3,1476.1 1326.7,1401.3 1328.7,1429 1330.7,1429 1333.3,1476.1 1335.7,1429 1337.3,1442.9 1339,1429 1340.7,1470.6 1342.7,1456.7 1346.7,1484.4 1351.3,1373.6 1354,1470.6 1356.7,1484.4 1360,1401.3 1362.3,1470.6 1365.3,1456.7 1366.7,1476.1 1369.3,1456.7 1371.7,1476.1 1374.3,1456.7 1376.7,1476.1 1379.3,1456.7 1380.7,1476.1 1382.7,1429 1385,1442.9 1386.7,1429 1388.7,1456.7 1391.7,1373.6 1394,1456.7 1397.3,1476.1 1399.3,1456.7 1400.7,1476.1 1402.7,1429 1404.7,1476.1 1406.7,1456.7 1408.3,1476.1 1410,1429 1412.7,1476.1 1414,1484.4 1417.3,1456.7 1419.3,1484.4 1421.7,1429 1423,1484.4 1423,1484.4" fill="#0000ff" stroke="none"/>
<polyline points="271.5,1429 273,1456.7 276.3,1401.3 278.7,1470.6 280,1484.4 282,1456.7 284,1484.4 288,1456.7 292,1484.4 295.3,1373.6 296.7,1401.3 298,1373.6 300,1401.3 302.3,1345.9 304.7,1456.7 306.7,1401.3 308,1415.2 309.3,1401.3 311.3,1401.3 313.3,1456.7 317.3,1484.4 325.3,1429 328.7,1484.4 333.7,1401.3 335.3,1429 337.3,1373.6 339.7,1456.7 344.7,1484.4 348.7,1456.7 350,1484.4 352.3,1345.9 354.7,1470.6 356.3,1484.4 358,1456.7 359.3,1476.1 362.3,1373.6 364.7,1470.6 367,1429 368.7,1470.6 372,1429 374,1470.6 378.7,1429 381.3,1470.6 384,1484.4 389.3,1401.3 392,1470.6 394.7,1470.6 397.3,1429 400,1429 402.3,1456.7 408,1484.4 413,1456.7 418,1484.4 422.3,1456.7 426.3,1484.4 431.3,1456.7 434.7,1484.4 437.3,1429 439,1442.9 442.7,1401.3 445.3,1456.7 453,1484.4 461.3,1429 463.7,1476.1 465.3,1456.7 466.7,1476.1 468,1429 470,1476.1 472,1484.4 476.3,1429 478,1442.9 481.3,1345.9 483.7,1401.3 485.3,1373.6 487.3,1429 489.7,1470.6 491.3,1484.4 493.3,1456.7 495.7,1484.4 499.3,1429 501.3,1470.6 503,1484.4 506.3,1401.3 508,1429 509.7,1401.3 512,1456.7 514.7,1484.4 518.7,1456.7 520,1476.1 522,1456.7 523.3,1476.1 525.3,1484.4 528.7,1429 538,1484.4 548,1456.7 549.7,1476.1 552,1429 554,1470.6 555.3,1484.4 559,1429 562,1484.4 565.3,1456.7 568.7,1484.4 572,1470.6 576.7,1429 578.7,1442.9 581,1401.3 583.3,1470.6 584.7,1470.6 587,1373.6 589.3,1442.9 592,1429 594.7,1470.6 596,1484.4 600.3,1456.7 601.3,1470.6 602.7,1456.7 612,1484.4 622,1456.7 624.3,1401.3 626.3,1476.1 628,1470.6 630.3,1456.7 632,1484.4 636,1456.7 640.3,1484.4 650.3,1429 653.7,1484.4 656.3,1456.7 658,1476.1 661.3,1456.7 663,1476.1 666.3,1456.7 672,1484.4 677.7,1456.7 682,1484.4 688,1456.7 690.3,1470.6 692.7,1401.3 694.7,1456.7 696.3,1429 698,1456.7 699.7,1373.6 702,1442.9 703.7,1429 705.3,1429 708.7,1476.1 711.3,1456.7 713,1429 714.7,1456.7 716.7,1429 718.7,1470.6 721.3,1456.7 722.7,1373.6 724.3,1401.3 726,1373.6 728,1429 730.3,1470.6 733.7,1484.4 737,1456.7 742,1484.4 745.3,1456.7 747.3,1429 749.3,1456.7 752,1401.3 754,1470.6 756,1429 758,1470.6 760.3,1456.7 762.7,1401.3 765.3,1470.6 768,1456.7 769.3,1476.1 771.3,1429 773,1476.1 775.3,1456.7 777,1476.1 779.3,1429 782,1470.6 783.7,1456.7 785.3,1470.6 788,1429 792,1484.4 798.7,1429 800.3,1470.6 802.7,1484.4 805.3,1401.3 808,1456.7 812,1484.4 818,1429 820.3,1470.6 823.7,1401.3 826,1442.9 827.7,1429 830.3,1476.1 832.7,1456.7 835.3,1484.4 841.3,1429 845.3,1470.6 848.7,1429 852,1476.1 856,1456.7 857.3,1429 858.7,1429 860.7,1470.6 862,1484.4 864.3,1401.3 866.7,1470.6 868.7,1484.4 871.3,1456.7 874.3,1373.6 876.7,1456.7 879.3,1456.7 881.3,1484.4 885.3,1456.7 887.3,1484.4 890.3,1401.3 892.7,1470.6 894.3,1484.4 898,1401.3 900.3,1456.7 902,1429 904,1470.6 906,1484.4 908.7,1456.7 914.3,1484.4 921.3,1429 926.7,1484.4 932.7,1456.7 936.7,1484.4 939.3,1456.7 941,1470.6 942.7,1429 944.7,1470.6 946,1484.4 948.7,1401.3 951,1470.6 953.3,1401.3 955.3,1470.6 957,1456.7 958.7,1476.1 960.3,1456.7 962,1476.1 963.7,1456.7 965,1476.1 967,1456.7 969.3,1484.4 972.7,1456.7 975.3,1484.4 979.3,1429 981,1470.6 982.7,1456.7 986,1484.4 990,1456.7 991.7,1476.1 993.7,1456.7 996,1484.4 998.7,1456.7 1002,1484.4 1005.3,1401.3 1007.7,1476.1 1009.3,1484.4 1016.3,1429 1020,1484.4 1022.7,1456.7 1026.7,1484.4 1031,1456.7 1032.7,1476.1 1035,1456.7 1037.7,1484.4 1044.3,1429 1046.7,1470.6 1048.7,1484.4 1051,1401.3 1053.3,1476.1 1055.3,1456.7 1057.7,1484.4 1062,1429 1063.3,1429 1065.3,1476.1 1067,1456.7 1069.3,1484.4 1072.7,1429 1074.7,1476.1 1078.7,1401.3 1081,1476.1 1084.3,1401.3 1086,1429 1087.3,1429 1089.3,1470.6 1091,1456.7 1092.7,1476.1 1095.3,1401.3 1097.3,1456.7 1099.3,1373.6 1101.3,1456.7 1104.3,1456.7 1106,1476.1 1109.3,1429 1111,1442.9 1113.3,1429 1116,1470.6 1119.3,1484.4 1126.7,1429 1128.7,1442.9 1132,1401.3 1135.3,1470.6 1137.7,1484.4 1141.3,1456.7 1143.3,1484.4 1146,1429 1148.7,1476.1 1150,1484.4 1152.7,1456.7 1154,1476.1 1158.3,1401.3 1160.7,1456.7 1166.7,1484.4 1171.7,1456.7 1174.3,1429 1176,1456.7 1178.3,1429 1180.7,1470.6 1182.7,1484.4 1187.3,1429 1190,1476.1 1191.7,1484.4 1194,1456.7 1195.7,1476.1 1199.3,1429 1201.7,1476.1 1203.3,1456.7 1204.7,1476.1 1207.3,1456.7 1210,1484.4 1214.3,1429 1216.7,1470.6 1218.3,1484.4 1220.7,1456.7 1223.3,1484.4 1228.3,1373.6 1231.7,1456.7 1235,1484.4 1240,1456.7 1243.3,1401.3 1246.7,1470.6 1249.3,1476.1 1251.7,1429 1253.3,1470.6 1256.7,1401.3 1260,1456.7 1263.3,1484.4 1268.3,1456.7 1270,1476.1 1271.7,1456.7 1279.3,1484.4 1287.3,1456.7 1289.3,1476.1 1291.7,1456.7 1293.3,1476.1 1296,1456.7 1300,1484.4 1306,1401.3 1309.3,1484.4 1314,1456.7 1318.3,1484.4 1321.7,1456.7 1323.3,1476.1 1326.7,1401.3 1328.7,1429 1330.7,1429 1333.3,1476.1 1335.7,1429 1337.3,1442.9 1339,1429 1340.7,1470.6 1342.7,1456.7 1346.7,1484.4 1351.3,1373.6 1354,1470.6 1356.7,1484.4 1360,1401.3 1362.3,1470.6 1365.3,1456.7 1366.7,1476.1 1369.3,1456.7 1371.7,1476.1 1374.3,1456.7 1376.7,1476.1 1379.3,1456.7 1380.7,1476.1 1382.7,1429 1385,1442.9 1386.7,1429 1388.7,1456.7 1391.7,1373.6 1394,1456.7 1397.3,1476.1 1399.3,1456.7 1400.7,1476.1 1402.7,1429 1404.7,1476.1 1406.7,1456.7 1408.3,1476.1 1410,1429 1412.7,1476.1 1414,1484.4 1417.3,1456.7 1419.3,1484.4 1421.7,1429 1423,1484.4" fill="none" stroke="#000088" stroke-width="0.7"/>
<path d="M273,1484.4V1456.7M296.7,1484.4V1401.3M300,1484.4V1401.3M304.7,1484.4V1456.7M308,1484.4V1415.2M335.3,1484.4V1429M359.3,1484.4V1476.1M364.7,1484.4V1470.6M368.7,1484.4V1470.6M374,1484.4V1470.6M392,1484.4V1470.6M394.7,1484.4V1470.6M439,1484.4V1442.9M463.7,1484.4V1476.1M466.7,1484.4V1476.1M478,1484.4V1442.9M483.7,1484.4V1401.3M508,1484.4V1429M520,1484.4V1476.1M549.7,1484.4V1476.1M578.7,1484.4V1442.9M583.3,1484.4V1470.6M584.7,1484.4V1470.6M589.3,1484.4V1442.9M601.3,1484.4V1470.6M626.3,1484.4V1476.1M658,1484.4V1476.1M663,1484.4V1476.1M690.3,1484.4V1470.6M694.7,1484.4V1456.7M698,1484.4V1456.7M702,1484.4V1442.9M708.7,1484.4V1476.1M714.7,1484.4V1456.7M718.7,1484.4V1470.6M724.3,1484.4V1401.3M749.3,1484.4V1456.7M754,1484.4V1470.6M758,1484.4V1470.6M765.3,1484.4V1470.6M769.3,1484.4V1476.1M773,1484.4V1476.1M777,1484.4V1476.1M782,1484.4V1470.6M785.3,1484.4V1470.6M820.3,1484.4V1470.6M826,1484.4V1442.9M830.3,1484.4V1476.1M845.3,1484.4V1470.6M852,1484.4V1476.1M876.7,1484.4V1456.7M900.3,1484.4V1456.7M941,1484.4V1470.6M951,1484.4V1470.6M955.3,1484.4V1470.6M958.7,1484.4V1476.1M962,1484.4V1476.1M965,1484.4V1476.1M981,1484.4V1470.6M991.7,1484.4V1476.1M1032.7,1484.4V1476.1M1053.3,1484.4V1476.1M1065.3,1484.4V1476.1M1074.7,1484.4V1476.1M1081,1484.4V1476.1M1086,1484.4V1429M1089.3,1484.4V1470.6M1092.7,1484.4V1476.1M1097.3,1484.4V1456.7M1101.3,1484.4V1456.7M1106,1484.4V1476.1M1111,1484.4V1442.9M1128.7,1484.4V1442.9M1154,1484.4V1476.1M1176,1484.4V1456.7M1195.7,1484.4V1476.1M1201.7,1484.4V1476.1M1204.7,1484.4V1476.1M1249.3,1484.4V1476.1M1253.3,1484.4V1470.6M1270,1484.4V1476.1M1289.3,1484.4V1476.1M1293.3,1484.4V1476.1M1323.3,1484.4V1476.1M1328.7,1484.4V1429M1333.3,1484.4V1476.1M1337.3,1484.4V1442.9M1340.7,1484.4V1470.6M1362.3,1484.4V1470.6M1366.7,1484.4V1476.1M1371.7,1484.4V1476.1M1376.7,1484.4V1476.1M1380.7,1484.4V1476.1M1385,1484.4V1442.9M1388.7,1484.4V1456.7M1397.3,1484.4V1476.1M1400.7,1484.4V1476.1M1404.7,1484.4V1476.1M1408.3,1484.4V1476.1" fill="none" stroke="#000088" stroke-width="0.8"/>
<path d="M259.2,1345.9 H271.4" fill="none" stroke="#222" stroke-width="1"/>
<path d="M259.2,1484.4 H271.4" fill="none" stroke="#333" stroke-width="1"/>
<path d="M270.9,1345.4 V1484.9" fill="none" stroke="#555" stroke-width="1.3"/>
<text x="251.8" y="1349.2" font-size="12" text-anchor="end" fill="#000">5</text>
<text x="251.8" y="1487.4" font-size="12" text-anchor="end" fill="#000">0</text>
<text x="73" y="1575.4" font-size="23.5" fill="#000">GSM2481682</text>
<polygon points="271.5,1638.4 271.5,1610.7 274,1555.3 276.3,1583 279.7,1610.7 283,1638.4 286.3,1610.7 288.7,1555.3 291.3,1624.5 294,1638.4 296.3,1527.6 298.7,1583 301.3,1624.5 303,1638.4 308,1610.7 310.7,1638.4 314,1583 316.3,1630.1 319.7,1610.7 323,1638.4 328,1583 330,1630.1 332,1583 334,1624.5 335.7,1610.7 339.7,1638.4 346.3,1583 349.7,1638.4 355.3,1583 357.3,1630.1 362,1583 364.7,1638.4 368.7,1583 371.3,1610.7 378,1638.4 386.3,1610.7 388.7,1638.4 392,1610.7 394,1638.4 398,1610.7 400.7,1638.4 404.7,1583 407.3,1630.1 409.7,1610.7 413,1638.4 417,1610.7 422,1638.4 425.3,1610.7 427.3,1630.1 429.7,1610.7 432,1638.4 435.3,1610.7 438,1638.4 441.3,1583 443.3,1630.1 446.3,1610.7 449.7,1638.4 453,1583 454.7,1630.1 458,1610.7 460.7,1527.6 463,1583 464.7,1583 466.7,1624.5 469.3,1583 472,1624.5 474.7,1638.4 478,1610.7 479.7,1630.1 482,1610.7 483.7,1630.1 485.3,1610.7 488,1583 489.7,1610.7 492,1610.7 494,1630.1 495.7,1610.7 497.3,1630.1 499,1610.7 500.7,1630.1 502,1610.7 504,1630.1 506.3,1610.7 508.7,1638.4 512,1583 514,1624.5 519.7,1527.6 523,1624.5 525.3,1638.4 530.7,1610.7 534.7,1638.4 538,1624.5 541.3,1555.3 543.3,1630.1 547.3,1610.7 549.7,1630.1 552,1610.7 554,1630.1 556,1527.6 558.7,1630.1 560.7,1610.7 562,1624.5 564.7,1610.7 567,1555.3 569.3,1610.7 573.7,1638.4 578,1583 580.3,1624.5 582,1638.4 585.3,1583 587.3,1610.7 599.3,1638.4 612,1610.7 617,1638.4 622,1610.7 623.7,1630.1 625.3,1610.7 627,1630.1 630.3,1610.7 632,1630.1 634.3,1583 636,1624.5 638.7,1610.7 641.3,1638.4 644.7,1583 646.3,1610.7 648.7,1610.7 650.3,1630.1 653.7,1527.6 655.3,1610.7 657,1610.7 658.7,1630.1 662,1583 664,1610.7 666,1610.7 672,1638.4 681.3,1583 683.7,1624.5 687.3,1638.4 690.3,1583 691.3,1583 692.7,1596.8 695.3,1555.3 698,1624.5 699.3,1638.4 703.7,1583 706,1583 708,1630.1 710.3,1638.4 712.7,1610.7 715.3,1638.4 719.3,1610.7 723.7,1638.4 728.7,1610.7 730.3,1630.1 733.7,1610.7 736,1638.4 741.3,1610.7 743.7,1638.4 745.3,1610.7 747,1630.1 749.7,1583 751,1596.8 754,1527.6 757,1624.5 761,1555.3 763.7,1610.7 771.3,1638.4 778.7,1583 780.3,1596.8 781.3,1583 783.3,1624.5 784.7,1583 786,1610.7 789.3,1555.3 792,1610.7 796,1555.3 798.7,1624.5 800.3,1638.4 802.7,1610.7 805.3,1638.4 809.3,1610.7 812,1638.4 818,1610.7 820.3,1624.5 822,1583 823.7,1596.8 825.3,1583 827,1610.7 832,1527.6 834.7,1610.7 837.3,1638.4 842,1583 844,1596.8 846.3,1555.3 848.7,1610.7 851.3,1638.4 856,1583 857.7,1610.7 860,1583 862.7,1638.4 866.7,1610.7 871,1638.4 875.3,1610.7 879.3,1638.4 882,1610.7 884.3,1499.9 886.7,1596.8 888.7,1583 890.7,1638.4 895.3,1583 897.7,1610.7 899.3,1610.7 901,1499.9 903.3,1610.7 906,1583 907.7,1610.7 910.3,1583 912.7,1624.5 915.3,1638.4 921.3,1583 927.7,1638.4 937.7,1583 943.3,1638.4 947.7,1610.7 950,1555.3 952,1596.8 954.7,1555.3 956.7,1610.7 958,1583 960,1624.5 962,1638.4 964.3,1583 966,1583 968,1624.5 972,1555.3 974.3,1596.8 976,1596.8 978.7,1583 980,1610.7 982,1555.3 984.3,1596.8 986,1624.5 987.7,1630.1 990.3,1610.7 992,1624.5 995.3,1583 997.3,1630.1 1000,1583 1002.7,1630.1 1005.3,1638.4 1008.7,1610.7 1011,1638.4 1013.3,1610.7 1015.3,1638.4 1019,1555.3 1022,1638.4 1026,1610.7 1029.3,1638.4 1032.7,1583 1035.3,1555.3 1037.7,1596.8 1040,1624.5 1041.3,1638.4 1044.3,1610.7 1047.7,1638.4 1052.7,1610.7 1056,1638.4 1061,1583 1064.3,1638.4 1069.3,1583 1073.3,1638.4 1077.7,1596.8 1079.3,1583 1081,1596.8 1082.7,1583 1084,1596.8 1086,1583 1088,1596.8 1090,1583 1092,1596.8 1093.7,1583 1097.7,1624.5 1101,1638.4 1107.7,1610.7 1109.3,1630.1 1112.7,1610.7 1114.3,1630.1 1116,1610.7 1117.7,1630.1 1120.3,1583 1122.7,1610.7 1126.7,1638.4 1132,1610.7 1133.7,1610.7 1136,1630.1 1139,1583 1141,1624.5 1144,1610.7 1146,1624.5 1150,1638.4 1154,1610.7 1157.3,1555.3 1160,1610.7 1168.3,1638.4 1173.3,1610.7 1176,1527.6 1178.3,1624.5 1179.3,1638.4 1182.3,1610.7 1186,1638.4 1192.3,1610.7 1195,1638.4 1199,1610.7 1204,1638.4 1210.3,1583 1213.3,1630.1 1216,1610.7 1218.3,1638.4 1221.7,1583 1223.3,1624.5 1226.7,1555.3 1229.3,1610.7 1232.7,1638.4 1240,1610.7 1242.7,1638.4 1246.7,1527.6 1249.3,1624.5 1250.7,1638.4 1254,1610.7 1259.3,1638.4 1266,1610.7 1269,1638.4 1273.3,1610.7 1278.3,1638.4 1284,1610.7 1286.7,1638.4 1290,1610.7 1291.7,1630.1 1295,1610.7 1296.7,1630.1 1298.3,1583 1301.7,1630.1 1303.3,1624.5 1306.7,1583 1310,1624.5 1313.3,1638.4 1320,1610.7 1322,1630.1 1324.7,1610.7 1326.7,1630.1 1330,1610.7 1331.7,1630.1 1335.3,1583 1337.3,1596.8 1339.3,1583 1341,1596.8 1342.7,1583 1345,1624.5 1346.7,1638.4 1349.3,1610.7 1351.7,1624.5 1353.3,1527.6 1356,1624.5 1358.3,1630.1 1360.7,1610.7 1362.3,1624.5 1364,1610.7 1368.3,1638.4 1375,1610.7 1378.3,1638.4 1381.7,1583 1384,1630.1 1386,1583 1388.3,1630.1 1391.7,1610.7 1393.3,1630.1 1396.7,1610.7 1399.3,1630.1 1401.7,1610.7 1405,1527.6 1407.3,1630.1 1410.7,1610.7 1416.7,1638.4 1416.7,1638.4" fill="#0000ff" stroke="none"/>
<polyline points="271.5,1610.7 274,1555.3 276.3,1583 279.7,1610.7 283,1638.4 286.3,1610.7 288.7,1555.3 291.3,1624.5 294,1638.4 296.3,1527.6 298.7,1583 301.3,1624.5 303,1638.4 308,1610.7 310.7,1638.4 314,1583 316.3,1630.1 319.7,1610.7 323,1638.4 328,1583 330,1630.1 332,1583 334,1624.5 335.7,1610.7 339.7,1638.4 346.3,1583 349.7,1638.4 355.3,1583 357.3,1630.1 362,1583 364.7,1638.4 368.7,1583 371.3,1610.7 378,1638.4 386.3,1610.7 388.7,1638.4 392,1610.7 394,1638.4 398,1610.7 400.7,1638.4 404.7,1583 407.3,1630.1 409.7,1610.7 413,1638.4 417,1610.7 422,1638.4 425.3,1610.7 427.3,1630.1 429.7,1610.7 432,1638.4 435.3,1610.7 438,1638.4 441.3,1583 443.3,1630.1 446.3,1610.7 449.7,1638.4 453,1583 454.7,1630.1 458,1610.7 460.7,1527.6 463,1583 464.7,1583 466.7,1624.5 469.3,1583 472,1624.5 474.7,1638.4 478,1610.7 479.7,1630.1 482,1610.7 483.7,1630.1 485.3,1610.7 488,1583 489.7,1610.7 492,1610.7 494,1630.1 495.7,1610.7 497.3,1630.1 499,1610.7 500.7,1630.1 502,1610.7 504,1630.1 506.3,1610.7 508.7,1638.4 512,1583 514,1624.5 519.7,1527.6 523,1624.5 525.3,1638.4 530.7,1610.7 534.7,1638.4 538,1624.5 541.3,1555.3 543.3,1630.1 547.3,1610.7 549.7,1630.1 552,1610.7 554,1630.1 556,1527.6 558.7,1630.1 560.7,1610.7 562,1624.5 564.7,1610.7 567,1555.3 569.3,1610.7 573.7,1638.4 578,1583 580.3,1624.5 582,1638.4 585.3,1583 587.3,1610.7 599.3,1638.4 612,1610.7 617,1638.4 622,1610.7 623.7,1630.1 625.3,1610.7 627,1630.1 630.3,1610.7 632,1630.1 634.3,1583 636,1624.5 638.7,1610.7 641.3,1638.4 644.7,1583 646.3,1610.7 648.7,1610.7 650.3,1630.1 653.7,1527.6 655.3,1610.7 657,1610.7 658.7,1630.1 662,1583 664,1610.7 666,1610.7 672,1638.4 681.3,1583 683.7,1624.5 687.3,1638.4 690.3,1583 691.3,1583 692.7,1596.8 695.3,1555.3 698,1624.5 699.3,1638.4 703.7,1583 706,1583 708,1630.1 710.3,1638.4 712.7,1610.7 715.3,1638.4 719.3,1610.7 723.7,1638.4 728.7,1610.7 730.3,1630.1 733.7,1610.7 736,1638.4 741.3,1610.7 743.7,1638.4 745.3,1610.7 747,1630.1 749.7,1583 751,1596.8 754,1527.6 757,1624.5 761,1555.3 763.7,1610.7 771.3,1638.4 778.7,1583 780.3,1596.8 781.3,1583 783.3,1624.5 784.7,1583 786,1610.7 789.3,1555.3 792,1610.7 796,1555.3 798.7,1624.5 800.3,1638.4 802.7,1610.7 805.3,1638.4 809.3,1610.7 812,1638.4 818,1610.7 820.3,1624.5 822,1583 823.7,1596.8 825.3,1583 827,1610.7 832,1527.6 834.7,1610.7 837.3,1638.4 842,1583 844,1596.8 846.3,1555.3 848.7,1610.7 851.3,1638.4 856,1583 857.7,1610.7 860,1583 862.7,1638.4 866.7,1610.7 871,1638.4 875.3,1610.7 879.3,1638.4 882,1610.7 884.3,1499.9 886.7,1596.8 888.7,1583 890.7,1638.4 895.3,1583 897.7,1610.7 899.3,1610.7 901,1499.9 903.3,1610.7 906,1583 907.7,1610.7 910.3,1583 912.7,1624.5 915.3,1638.4 921.3,1583 927.7,1638.4 937.7,1583 943.3,1638.4 947.7,1610.7 950,1555.3 952,1596.8 954.7,1555.3 956.7,1610.7 958,1583 960,1624.5 962,1638.4 964.3,1583 966,1583 968,1624.5 972,1555.3 974.3,1596.8 976,1596.8 978.7,1583 980,1610.7 982,1555.3 984.3,1596.8 986,1624.5 987.7,1630.1 990.3,1610.7 992,1624.5 995.3,1583 997.3,1630.1 1000,1583 1002.7,1630.1 1005.3,1638.4 1008.7,1610.7 1011,1638.4 1013.3,1610.7 1015.3,1638.4 1019,1555.3 1022,1638.4 1026,1610.7 1029.3,1638.4 1032.7,1583 1035.3,1555.3 1037.7,1596.8 1040,1624.5 1041.3,1638.4 1044.3,1610.7 1047.7,1638.4 1052.7,1610.7 1056,1638.4 1061,1583 1064.3,1638.4 1069.3,1583 1073.3,1638.4 1077.7,1596.8 1079.3,1583 1081,1596.8 1082.7,1583 1084,1596.8 1086,1583 1088,1596.8 1090,1583 1092,1596.8 1093.7,1583 1097.7,1624.5 1101,1638.4 1107.7,1610.7 1109.3,1630.1 1112.7,1610.7 1114.3,1630.1 1116,1610.7 1117.7,1630.1 1120.3,1583 1122.7,1610.7 1126.7,1638.4 1132,1610.7 1133.7,1610.7 1136,1630.1 1139,1583 1141,1624.5 1144,1610.7 1146,1624.5 1150,1638.4 1154,1610.7 1157.3,1555.3 1160,1610.7 1168.3,1638.4 1173.3,1610.7 1176,1527.6 1178.3,1624.5 1179.3,1638.4 1182.3,1610.7 1186,1638.4 1192.3,1610.7 1195,1638.4 1199,1610.7 1204,1638.4 1210.3,1583 1213.3,1630.1 1216,1610.7 1218.3,1638.4 1221.7,1583 1223.3,1624.5 1226.7,1555.3 1229.3,1610.7 1232.7,1638.4 1240,1610.7 1242.7,1638.4 1246.7,1527.6 1249.3,1624.5 1250.7,1638.4 1254,1610.7 1259.3,1638.4 1266,1610.7 1269,1638.4 1273.3,1610.7 1278.3,1638.4 1284,1610.7 1286.7,1638.4 1290,1610.7 1291.7,1630.1 1295,1610.7 1296.7,1630.1 1298.3,1583 1301.7,1630.1 1303.3,1624.5 1306.7,1583 1310,1624.5 1313.3,1638.4 1320,1610.7 1322,1630.1 1324.7,1610.7 1326.7,1630.1 1330,1610.7 1331.7,1630.1 1335.3,1583 1337.3,1596.8 1339.3,1583 1341,1596.8 1342.7,1583 1345,1624.5 1346.7,1638.4 1349.3,1610.7 1351.7,1624.5 1353.3,1527.6 1356,1624.5 1358.3,1630.1 1360.7,1610.7 1362.3,1624.5 1364,1610.7 1368.3,1638.4 1375,1610.7 1378.3,1638.4 1381.7,1583 1384,1630.1 1386,1583 1388.3,1630.1 1391.7,1610.7 1393.3,1630.1 1396.7,1610.7 1399.3,1630.1 1401.7,1610.7 1405,1527.6 1407.3,1630.1 1410.7,1610.7 1416.7,1638.4" fill="none" stroke="#000088" stroke-width="0.7"/>
<path d="M316.3,1638.4V1630.1M330,1638.4V1630.1M334,1638.4V1624.5M357.3,1638.4V1630.1M407.3,1638.4V1630.1M427.3,1638.4V1630.1M443.3,1638.4V1630.1M454.7,1638.4V1630.1M463,1638.4V1583M466.7,1638.4V1624.5M479.7,1638.4V1630.1M483.7,1638.4V1630.1M489.7,1638.4V1610.7M494,1638.4V1630.1M497.3,1638.4V1630.1M500.7,1638.4V1630.1M504,1638.4V1630.1M514,1638.4V1624.5M543.3,1638.4V1630.1M549.7,1638.4V1630.1M554,1638.4V1630.1M558.7,1638.4V1630.1M562,1638.4V1624.5M623.7,1638.4V1630.1M627,1638.4V1630.1M632,1638.4V1630.1M636,1638.4V1624.5M646.3,1638.4V1610.7M650.3,1638.4V1630.1M655.3,1638.4V1610.7M658.7,1638.4V1630.1M664,1638.4V1610.7M692.7,1638.4V1596.8M730.3,1638.4V1630.1M747,1638.4V1630.1M751,1638.4V1596.8M757,1638.4V1624.5M780.3,1638.4V1596.8M783.3,1638.4V1624.5M786,1638.4V1610.7M792,1638.4V1610.7M820.3,1638.4V1624.5M823.7,1638.4V1596.8M827,1638.4V1610.7M844,1638.4V1596.8M857.7,1638.4V1610.7M886.7,1638.4V1596.8M897.7,1638.4V1610.7M899.3,1638.4V1610.7M903.3,1638.4V1610.7M907.7,1638.4V1610.7M952,1638.4V1596.8M956.7,1638.4V1610.7M968,1638.4V1624.5M974.3,1638.4V1596.8M976,1638.4V1596.8M980,1638.4V1610.7M987.7,1638.4V1630.1M992,1638.4V1624.5M997.3,1638.4V1630.1M1081,1638.4V1596.8M1084,1638.4V1596.8M1088,1638.4V1596.8M1092,1638.4V1596.8M1109.3,1638.4V1630.1M1114.3,1638.4V1630.1M1117.7,1638.4V1630.1M1136,1638.4V1630.1M1141,1638.4V1624.5M1213.3,1638.4V1630.1M1223.3,1638.4V1624.5M1291.7,1638.4V1630.1M1296.7,1638.4V1630.1M1301.7,1638.4V1630.1M1322,1638.4V1630.1M1326.7,1638.4V1630.1M1331.7,1638.4V1630.1M1337.3,1638.4V1596.8M1341,1638.4V1596.8M1351.7,1638.4V1624.5M1358.3,1638.4V1630.1M1362.3,1638.4V1624.5M1384,1638.4V1630.1M1388.3,1638.4V1630.1M1393.3,1638.4V1630.1M1399.3,1638.4V1630.1M1407.3,1638.4V1630.1" fill="none" stroke="#000088" stroke-width="0.8"/>
<path d="M259.2,1499.9 H271.4" fill="none" stroke="#222" stroke-width="1"/>
<path d="M259.2,1638.4 H271.4" fill="none" stroke="#333" stroke-width="1"/>
<path d="M270.9,1499.4 V1638.9" fill="none" stroke="#555" stroke-width="1.3"/>
<text x="251.8" y="1503.2" font-size="12" text-anchor="end" fill="#000">5</text>
<text x="251.8" y="1641.4" font-size="12" text-anchor="end" fill="#000">0</text>
<text x="73" y="1729.3" font-size="23.5" fill="#000">GSM2481681</text>
<polygon points="405.3,1792.3 405.3,1792.3 542,1722.4 543,1750.8 544,1722.4 562,1735.5 628.7,1792.3 713.7,1722.4 746.3,1792.3 780.3,1722.4 827,1792.3 856,1749.4 874.3,1722.4 895,1792.3 916,1722.4 920,1792.3 924,1722.4 1087.7,1792.3 1150,1766 1252.3,1722.4 1254.3,1792.3 1256,1709.2 1257,1653.8 1258,1722.4 1339,1792.3 1420.7,1722.4 1423,1792.3 1423,1792.3" fill="#0000ff" stroke="none"/>
<polyline points="405.3,1792.3 542,1722.4 543,1750.8 544,1722.4 562,1735.5 628.7,1792.3 713.7,1722.4 746.3,1792.3 780.3,1722.4 827,1792.3 856,1749.4 874.3,1722.4 895,1792.3 916,1722.4 920,1792.3 924,1722.4 1087.7,1792.3 1150,1766 1252.3,1722.4 1254.3,1792.3 1256,1709.2 1257,1653.8 1258,1722.4 1339,1792.3 1420.7,1722.4 1423,1792.3" fill="none" stroke="#000088" stroke-width="0.7"/>
<path d="M543,1792.3V1750.8" fill="none" stroke="#000088" stroke-width="0.8"/>
<path d="M259.2,1653.8 H271.4" fill="none" stroke="#222" stroke-width="1"/>
<path d="M259.2,1792.3 H271.4" fill="none" stroke="#333" stroke-width="1"/>
<path d="M270.9,1653.3 V1792.8" fill="none" stroke="#555" stroke-width="1.3"/>
<text x="251.8" y="1657.1" font-size="12" text-anchor="end" fill="#000">137</text>
<text x="251.8" y="1795.3" font-size="12" text-anchor="end" fill="#000">0</text>
<text x="73" y="1883.2" font-size="23.5" fill="#000">GSM2481680</text>
<polygon points="296.3,1946.2 296.3,1946.2 323.7,1876.3 412.3,1946.2 501.3,1876.3 562,1895 726,1946.2 856,1906.1 952.7,1876.3 1023.3,1946.2 1094.7,1876.3 1102.7,1946.2 1108.3,1877 1111,1807.7 1150,1850.7 1236,1946.2 1362.7,1876.3 1392,1946.2 1420.7,1876.3 1422.7,1807.7 1423,1807.7 1423,1946.2" fill="#0000ff" stroke="none"/>
<polyline points="296.3,1946.2 323.7,1876.3 412.3,1946.2 501.3,1876.3 562,1895 726,1946.2 856,1906.1 952.7,1876.3 1023.3,1946.2 1094.7,1876.3 1102.7,1946.2 1108.3,1877 1111,1807.7 1150,1850.7 1236,1946.2 1362.7,1876.3 1392,1946.2 1420.7,1876.3 1422.7,1807.7 1423,1807.7" fill="none" stroke="#000088" stroke-width="0.7"/>
<path d="M259.2,1807.7 H271.4" fill="none" stroke="#222" stroke-width="1"/>
<path d="M259.2,1946.2 H271.4" fill="none" stroke="#333" stroke-width="1"/>
<path d="M270.9,1807.2 V1946.7" fill="none" stroke="#555" stroke-width="1.3"/>
<text x="251.8" y="1811" font-size="12" text-anchor="end" fill="#000">79</text>
<text x="251.8" y="1949.2" font-size="12" text-anchor="end" fill="#000">0</text>
<text x="73" y="2037.2" font-size="23.5" fill="#000">GSM2481679</text>
<polygon points="273,2100.2 273,2100.2 277,1961.7 287.3,2100.2 298,1961.7 582,2100.2 865.3,1961.7 1015.3,2100.2 1165.7,1961.7 1295.7,2100.2 1295.7,2100.2" fill="#0000ff" stroke="none"/>
<polyline points="273,2100.2 277,1961.7 287.3,2100.2 298,1961.7 582,2100.2 865.3,1961.7 1015.3,2100.2 1165.7,1961.7 1295.7,2100.2" fill="none" stroke="#000088" stroke-width="0.7"/>
<path d="M259.2,1961.7 H271.4" fill="none" stroke="#222" stroke-width="1"/>
<path d="M259.2,2100.2 H271.4" fill="none" stroke="#333" stroke-width="1"/>
<path d="M270.9,1961.2 V2100.7" fill="none" stroke="#555" stroke-width="1.3"/>
<text x="251.8" y="1965" font-size="12" text-anchor="end" fill="#000">37</text>
<text x="251.8" y="2103.2" font-size="12" text-anchor="end" fill="#000">0</text>
<text x="73" y="2191.1" font-size="23.5" fill="#000">GSM2481678</text>
<polygon points="271.5,2254.1 271.5,2184.2 318,2254.1 366.3,2184.2 470.7,2254.1 562,2194.6 576.3,2184.2 599.7,2254.1 622.7,2184.2 634.7,2254.1 646.3,2184.2 656.3,2254.1 666.3,2184.2 668,2226.4 670,2184.2 714.7,2254.1 759.3,2184.2 838,2254.1 856,2237.5 916.7,2184.2 924.3,2254.1 933.3,2184.2 952.7,2254.1 971.3,2184.2 972,2115.6 973,2184.2 1088.3,2254.1 1150,2216.7 1204,2184.2 1280,2254.1 1356,2184.2 1358.7,2237.5 1361.3,2184.2 1393.3,2254.1 1393.3,2254.1" fill="#0000ff" stroke="none"/>
<polyline points="271.5,2184.2 318,2254.1 366.3,2184.2 470.7,2254.1 562,2194.6 576.3,2184.2 599.7,2254.1 622.7,2184.2 634.7,2254.1 646.3,2184.2 656.3,2254.1 666.3,2184.2 668,2226.4 670,2184.2 714.7,2254.1 759.3,2184.2 838,2254.1 856,2237.5 916.7,2184.2 924.3,2254.1 933.3,2184.2 952.7,2254.1 971.3,2184.2 972,2115.6 973,2184.2 1088.3,2254.1 1150,2216.7 1204,2184.2 1280,2254.1 1356,2184.2 1358.7,2237.5 1361.3,2184.2 1393.3,2254.1" fill="none" stroke="#000088" stroke-width="0.7"/>
<path d="M668,2254.1V2226.4M1358.7,2254.1V2237.5" fill="none" stroke="#000088" stroke-width="0.8"/>
<path d="M259.2,2115.6 H271.4" fill="none" stroke="#222" stroke-width="1"/>
<path d="M259.2,2254.1 H271.4" fill="none" stroke="#333" stroke-width="1"/>
<path d="M270.9,2115.1 V2254.6" fill="none" stroke="#555" stroke-width="1.3"/>
<text x="251.8" y="2118.9" font-size="12" text-anchor="end" fill="#000">58</text>
<text x="251.8" y="2257.1" font-size="12" text-anchor="end" fill="#000">0</text>
<text x="73" y="2345.1" font-size="23.5" fill="#000">GSM2481677</text>
<polygon points="271.5,2408.1 271.5,2389.3 273,2399.3 275.3,2389.3 277.3,2404.3 279.7,2402.7 283,2396 285.3,2404.3 289.7,2389.3 291.3,2402.7 293,2382.7 296.3,2364.3 298,2377.7 299.7,2376 301.3,2357.7 303.3,2345.3 305.3,2366 307.3,2399.3 309.7,2376 311.3,2399.3 313,2402.7 316.3,2404.3 321.3,2407.7 326.3,2402.7 329.7,2389.3 331.3,2364.3 333,2382.7 334.7,2384.3 336.3,2402.7 338,2396 339.7,2404.3 342,2396 344,2402.7 346.3,2406 349.7,2396 351.3,2401 354,2402.7 356.3,2396 358,2397.7 360.7,2396 363,2399.3 364.7,2391 368,2382.7 370.7,2391 373,2399.3 376.3,2406 381.3,2392.7 383,2382.7 385.3,2376 388,2399.3 390.7,2406 393,2389.3 394.7,2396 396.3,2396 398,2399.3 399.7,2397.7 401.3,2402.7 403,2396 405.3,2406 409.7,2396 412,2406 414.7,2402.7 417.3,2399.3 419.7,2389.3 422,2376 424,2387.7 425.3,2382.7 427.3,2406 430.7,2399.3 433,2396 435.3,2402.7 438,2396 441.3,2389.3 444,2406 448,2401 450.7,2406 454.7,2402.7 457.3,2382.7 458.7,2351 460.3,2269.6 462,2332.7 464,2351 465.3,2384.3 468,2396 469.7,2402.7 471.3,2406 474,2402.7 476.3,2396 478,2399.3 479.7,2396 483,2399.3 486.3,2406 491.3,2401 494.7,2397.7 499.7,2389.3 501.3,2399.3 503,2402.7 504.7,2396 507.3,2404.3 509.7,2401 513,2406 518,2396 519.7,2402.7 523,2406 526.3,2397.7 528.7,2389.3 531.3,2402.7 534.7,2406 537.3,2389.3 539.7,2401 542,2402.7 544.7,2404.3 548,2396 549.7,2406 552,2396 554,2402.7 556.3,2389.3 558,2397.7 559.7,2389.3 562,2399.3 564.7,2406 567,2389.3 568.7,2376 570.3,2389.3 572,2382.7 573.7,2391 575.3,2389.3 577,2406 580.3,2399.3 582.7,2389.3 584.7,2392.7 587,2406 589.3,2401 607,2407.7 625.3,2396 628,2406 630.3,2389.3 632,2402.7 634.7,2396 638,2389.3 640.3,2399.3 642,2406 644.7,2389.3 647,2392.7 649.3,2406 652,2396 653.7,2397.7 655.3,2396 657,2397.7 659.3,2406 662,2396 663.7,2402.7 666,2406 669.3,2401 672,2396 673.7,2399.3 675.3,2396 677,2406 680.3,2396 682.7,2402.7 684.7,2406 686,2389.3 688,2392.7 689.3,2389.3 691.3,2396 693.7,2406 697,2399.3 698.7,2396 700.3,2406 702.7,2397.7 704.7,2402.7 707,2392.7 709.3,2389.3 712,2397.7 713.7,2384.3 715.3,2382.7 717,2376 718.7,2392.7 720.3,2406 722,2402.7 724,2406 726,2382.7 728,2402.7 730.3,2406 733.7,2396 735.3,2402.7 738,2404.3 740.3,2401 742,2406 744.7,2402.7 747,2407.7 752,2402.7 757,2389.3 758.7,2376 761,2351 763,2345.3 764.7,2366 766.7,2392.7 768.7,2406 772,2407.7 774.3,2396 777,2399.3 778.7,2389.3 780.3,2376 782,2401 784.7,2406 787,2396 789.3,2402.7 792,2396 793.7,2399.3 795.3,2396 798,2406 801.3,2401 805.3,2396 808.7,2401 811.3,2406 817,2402.7 820.3,2389.3 823.7,2396 825.3,2406 828,2402.7 830.3,2389.3 832.7,2389.3 834.7,2402.7 837,2397.7 838.7,2396 840.3,2402.7 842,2396 844.7,2406 847,2402.7 849.3,2376 852,2396 854,2402.7 856,2406 858.7,2399.3 862,2382.7 864.3,2392.7 866.7,2399.3 868.7,2396 871,2406 874.3,2402.7 876.7,2396 878.7,2402.7 881,2396 883.3,2404.3 886,2396 888,2376 890,2399.3 892,2396 894.3,2376 897.3,2357.7 899.3,2376 902,2389.3 904.3,2376 906,2382.7 908.7,2396 911,2389.3 913.3,2399.3 916,2406 919.3,2399.3 921.3,2396 923.3,2397.7 925.3,2396 927.7,2399.3 930,2406 932.7,2402.7 935.3,2401 937.7,2402.7 940,2401 942.7,2402.7 945.3,2406 948.7,2401 952.7,2406 956,2404.3 959.3,2401 963.3,2406 966.7,2389.3 968.7,2396 971,2389.3 973.3,2399.3 976,2406 979.3,2399.3 982,2396 983.7,2397.7 986,2376 988.3,2399.3 991,2404.3 993.3,2407.7 997.7,2404.3 1001,2401 1002.7,2406 1006,2402.7 1008.7,2406 1011.3,2382.7 1013.3,2376 1015.3,2396 1017.7,2406 1020,2376 1022,2382.7 1024.3,2399.3 1026.7,2406 1029.3,2382.7 1032,2402.7 1034.3,2396 1036,2406 1038,2396 1040,2402.7 1042,2396 1043.7,2406 1046,2402.7 1048.7,2406 1052,2402.7 1054.3,2396 1056.7,2406 1060,2392.7 1062,2382.7 1064.3,2376 1066.7,2396 1068.7,2406 1071,2389.3 1073.3,2392.7 1075.3,2399.3 1077.7,2389.3 1080,2392.7 1082.7,2389.3 1085.3,2371 1087.7,2402.7 1090,2406 1092,2402.7 1096,2407.7 1099.3,2396 1102.7,2397.7 1104.3,2402.7 1106.7,2406 1110,2389.3 1112.7,2396 1115.3,2402.7 1117.7,2406 1119.3,2402.7 1122,2382.7 1124.3,2399.3 1126.7,2396 1128.7,2406 1131,2402.7 1132.7,2406 1136,2404.3 1138.7,2399.3 1142.7,2396 1145.3,2406 1148,2402.7 1150,2402.7 1152.7,2396 1155,2406 1158.3,2389.3 1160,2402.7 1162.7,2389.3 1165,2406 1168.3,2396 1171.7,2406 1175,2396 1176.7,2397.7 1178.3,2382.7 1180.7,2396 1183.3,2401 1188.3,2407.7 1196.7,2402.7 1200.7,2389.3 1203.3,2399.3 1206,2396 1209.3,2406 1215,2389.3 1218.3,2406 1221.7,2396 1223.3,2389.3 1226,2406 1228.3,2396 1230.7,2406 1235,2396 1236.7,2402.7 1239.3,2389.3 1241.7,2396 1245,2406 1250,2401 1254,2396 1256,2406 1259.3,2389.3 1261.7,2397.7 1264,2396 1266,2399.3 1268.3,2396 1270,2399.3 1273.3,2389.3 1276,2406 1278.3,2396 1281.7,2406 1285,2396 1287.3,2406 1290.7,2389.3 1293.3,2399.3 1296,2396 1298.3,2406 1301.7,2389.3 1304,2402.7 1306.7,2389.3 1308.3,2396 1310,2389.3 1312.7,2382.7 1315,2399.3 1317.3,2396 1320,2371 1321.7,2371 1323.3,2357.7 1325.7,2389.3 1328.3,2406 1331.7,2402.7 1335,2389.3 1337.3,2399.3 1340,2402.7 1343.3,2406 1346.7,2402.7 1348.3,2399.3 1350.7,2371 1353.3,2389.3 1356,2406 1358.3,2401 1361.7,2406 1364,2402.7 1366.7,2389.3 1369.3,2406 1372.7,2402.7 1377.3,2382.7 1380,2399.3 1382.7,2396 1385,2402.7 1387.3,2406 1391.7,2382.7 1393.3,2396 1396,2389.3 1397.3,2396 1400,2389.3 1401.7,2402.7 1405,2406 1408.3,2396 1410.7,2406 1412.7,2396 1415,2402.7 1416.7,2396 1418.3,2406 1420.7,2396 1422.7,2389.3 1423,2406 1423,2408.1" fill="#0000ff" stroke="none"/>
<polyline points="271.5,2389.3 273,2399.3 275.3,2389.3 277.3,2404.3 279.7,2402.7 283,2396 285.3,2404.3 289.7,2389.3 291.3,2402.7 293,2382.7 296.3,2364.3 298,2377.7 299.7,2376 301.3,2357.7 303.3,2345.3 305.3,2366 307.3,2399.3 309.7,2376 311.3,2399.3 313,2402.7 316.3,2404.3 321.3,2407.7 326.3,2402.7 329.7,2389.3 331.3,2364.3 333,2382.7 334.7,2384.3 336.3,2402.7 338,2396 339.7,2404.3 342,2396 344,2402.7 346.3,2406 349.7,2396 351.3,2401 354,2402.7 356.3,2396 358,2397.7 360.7,2396 363,2399.3 364.7,2391 368,2382.7 370.7,2391 373,2399.3 376.3,2406 381.3,2392.7 383,2382.7 385.3,2376 388,2399.3 390.7,2406 393,2389.3 394.7,2396 396.3,2396 398,2399.3 399.7,2397.7 401.3,2402.7 403,2396 405.3,2406 409.7,2396 412,2406 414.7,2402.7 417.3,2399.3 419.7,2389.3 422,2376 424,2387.7 425.3,2382.7 427.3,2406 430.7,2399.3 433,2396 435.3,2402.7 438,2396 441.3,2389.3 444,2406 448,2401 450.7,2406 454.7,2402.7 457.3,2382.7 458.7,2351 460.3,2269.6 462,2332.7 464,2351 465.3,2384.3 468,2396 469.7,2402.7 471.3,2406 474,2402.7 476.3,2396 478,2399.3 479.7,2396 483,2399.3 486.3,2406 491.3,2401 494.7,2397.7 499.7,2389.3 501.3,2399.3 503,2402.7 504.7,2396 507.3,2404.3 509.7,2401 513,2406 518,2396 519.7,2402.7 523,2406 526.3,2397.7 528.7,2389.3 531.3,2402.7 534.7,2406 537.3,2389.3 539.7,2401 542,2402.7 544.7,2404.3 548,2396 549.7,2406 552,2396 554,2402.7 556.3,2389.3 558,2397.7 559.7,2389.3 562,2399.3 564.7,2406 567,2389.3 568.7,2376 570.3,2389.3 572,2382.7 573.7,2391 575.3,2389.3 577,2406 580.3,2399.3 582.7,2389.3 584.7,2392.7 587,2406 589.3,2401 607,2407.7 625.3,2396 628,2406 630.3,2389.3 632,2402.7 634.7,2396 638,2389.3 640.3,2399.3 642,2406 644.7,2389.3 647,2392.7 649.3,2406 652,2396 653.7,2397.7 655.3,2396 657,2397.7 659.3,2406 662,2396 663.7,2402.7 666,2406 669.3,2401 672,2396 673.7,2399.3 675.3,2396 677,2406 680.3,2396 682.7,2402.7 684.7,2406 686,2389.3 688,2392.7 689.3,2389.3 691.3,2396 693.7,2406 697,2399.3 698.7,2396 700.3,2406 702.7,2397.7 704.7,2402.7 707,2392.7 709.3,2389.3 712,2397.7 713.7,2384.3 715.3,2382.7 717,2376 718.7,2392.7 720.3,2406 722,2402.7 724,2406 726,2382.7 728,2402.7 730.3,2406 733.7,2396 735.3,2402.7 738,2404.3 740.3,2401 742,2406 744.7,2402.7 747,2407.7 752,2402.7 757,2389.3 758.7,2376 761,2351 763,2345.3 764.7,2366 766.7,2392.7 768.7,2406 772,2407.7 774.3,2396 777,2399.3 778.7,2389.3 780.3,2376 782,2401 784.7,2406 787,2396 789.3,2402.7 792,2396 793.7,2399.3 795.3,2396 798,2406 801.3,2401 805.3,2396 808.7,2401 811.3,2406 817,2402.7 820.3,2389.3 823.7,2396 825.3,2406 828,2402.7 830.3,2389.3 832.7,2389.3 834.7,2402.7 837,2397.7 838.7,2396 840.3,2402.7 842,2396 844.7,2406 847,2402.7 849.3,2376 852,2396 854,2402.7 856,2406 858.7,2399.3 862,2382.7 864.3,2392.7 866.7,2399.3 868.7,2396 871,2406 874.3,2402.7 876.7,2396 878.7,2402.7 881,2396 883.3,2404.3 886,2396 888,2376 890,2399.3 892,2396 894.3,2376 897.3,2357.7 899.3,2376 902,2389.3 904.3,2376 906,2382.7 908.7,2396 911,2389.3 913.3,2399.3 916,2406 919.3,2399.3 921.3,2396 923.3,2397.7 925.3,2396 927.7,2399.3 930,2406 932.7,2402.7 935.3,2401 937.7,2402.7 940,2401 942.7,2402.7 945.3,2406 948.7,2401 952.7,2406 956,2404.3 959.3,2401 963.3,2406 966.7,2389.3 968.7,2396 971,2389.3 973.3,2399.3 976,2406 979.3,2399.3 982,2396 983.7,2397.7 986,2376 988.3,2399.3 991,2404.3 993.3,2407.7 997.7,2404.3 1001,2401 1002.7,2406 1006,2402.7 1008.7,2406 1011.3,2382.7 1013.3,2376 1015.3,2396 1017.7,2406 1020,2376 1022,2382.7 1024.3,2399.3 1026.7,2406 1029.3,2382.7 1032,2402.7 1034.3,2396 1036,2406 1038,2396 1040,2402.7 1042,2396 1043.7,2406 1046,2402.7 1048.7,2406 1052,2402.7 1054.3,2396 1056.7,2406 1060,2392.7 1062,2382.7 1064.3,2376 1066.7,2396 1068.7,2406 1071,2389.3 1073.3,2392.7 1075.3,2399.3 1077.7,2389.3 1080,2392.7 1082.7,2389.3 1085.3,2371 1087.7,2402.7 1090,2406 1092,2402.7 1096,2407.7 1099.3,2396 1102.7,2397.7 1104.3,2402.7 1106.7,2406 1110,2389.3 1112.7,2396 1115.3,2402.7 1117.7,2406 1119.3,2402.7 1122,2382.7 1124.3,2399.3 1126.7,2396 1128.7,2406 1131,2402.7 1132.7,2406 1136,2404.3 1138.7,2399.3 1142.7,2396 1145.3,2406 1148,2402.7 1150,2402.7 1152.7,2396 1155,2406 1158.3,2389.3 1160,2402.7 1162.7,2389.3 1165,2406 1168.3,2396 1171.7,2406 1175,2396 1176.7,2397.7 1178.3,2382.7 1180.7,2396 1183.3,2401 1188.3,2407.7 1196.7,2402.7 1200.7,2389.3 1203.3,2399.3 1206,2396 1209.3,2406 1215,2389.3 1218.3,2406 1221.7,2396 1223.3,2389.3 1226,2406 1228.3,2396 1230.7,2406 1235,2396 1236.7,2402.7 1239.3,2389.3 1241.7,2396 1245,2406 1250,2401 1254,2396 1256,2406 1259.3,2389.3 1261.7,2397.7 1264,2396 1266,2399.3 1268.3,2396 1270,2399.3 1273.3,2389.3 1276,2406 1278.3,2396 1281.7,2406 1285,2396 1287.3,2406 1290.7,2389.3 1293.3,2399.3 1296,2396 1298.3,2406 1301.7,2389.3 1304,2402.7 1306.7,2389.3 1308.3,2396 1310,2389.3 1312.7,2382.7 1315,2399.3 1317.3,2396 1320,2371 1321.7,2371 1323.3,2357.7 1325.7,2389.3 1328.3,2406 1331.7,2402.7 1335,2389.3 1337.3,2399.3 1340,2402.7 1343.3,2406 1346.7,2402.7 1348.3,2399.3 1350.7,2371 1353.3,2389.3 1356,2406 1358.3,2401 1361.7,2406 1364,2402.7 1366.7,2389.3 1369.3,2406 1372.7,2402.7 1377.3,2382.7 1380,2399.3 1382.7,2396 1385,2402.7 1387.3,2406 1391.7,2382.7 1393.3,2396 1396,2389.3 1397.3,2396 1400,2389.3 1401.7,2402.7 1405,2406 1408.3,2396 1410.7,2406 1412.7,2396 1415,2402.7 1416.7,2396 1418.3,2406 1420.7,2396 1422.7,2389.3 1423,2406" fill="none" stroke="#000088" stroke-width="0.7"/>
<path d="M273,2408.1V2399.3M277.3,2408.1V2404.3M285.3,2408.1V2404.3M291.3,2408.1V2402.7M298,2408.1V2377.7M307.3,2408.1V2399.3M336.3,2408.1V2402.7M339.7,2408.1V2404.3M354,2408.1V2402.7M358,2408.1V2397.7M363,2408.1V2399.3M394.7,2408.1V2396M398,2408.1V2399.3M401.3,2408.1V2402.7M424,2408.1V2387.7M435.3,2408.1V2402.7M478,2408.1V2399.3M503,2408.1V2402.7M507.3,2408.1V2404.3M544.7,2408.1V2404.3M554,2408.1V2402.7M558,2408.1V2397.7M570.3,2408.1V2389.3M573.7,2408.1V2391M632,2408.1V2402.7M653.7,2408.1V2397.7M673.7,2408.1V2399.3M688,2408.1V2392.7M704.7,2408.1V2402.7M712,2408.1V2397.7M738,2408.1V2404.3M777,2408.1V2399.3M789.3,2408.1V2402.7M793.7,2408.1V2399.3M834.7,2408.1V2402.7M840.3,2408.1V2402.7M866.7,2408.1V2399.3M878.7,2408.1V2402.7M883.3,2408.1V2404.3M890,2408.1V2399.3M902,2408.1V2389.3M908.7,2408.1V2396M923.3,2408.1V2397.7M937.7,2408.1V2402.7M968.7,2408.1V2396M983.7,2408.1V2397.7M1032,2408.1V2402.7M1040,2408.1V2402.7M1075.3,2408.1V2399.3M1080,2408.1V2392.7M1124.3,2408.1V2399.3M1150,2408.1V2402.7M1160,2408.1V2402.7M1176.7,2408.1V2397.7M1203.3,2408.1V2399.3M1236.7,2408.1V2402.7M1261.7,2408.1V2397.7M1266,2408.1V2399.3M1270,2408.1V2399.3M1293.3,2408.1V2399.3M1304,2408.1V2402.7M1308.3,2408.1V2396M1315,2408.1V2399.3M1321.7,2408.1V2371M1380,2408.1V2399.3M1393.3,2408.1V2396M1397.3,2408.1V2396M1415,2408.1V2402.7" fill="none" stroke="#000088" stroke-width="0.8"/>
<path d="M259.2,2269.6 H271.4" fill="none" stroke="#222" stroke-width="1"/>
<path d="M259.2,2408.1 H271.4" fill="none" stroke="#333" stroke-width="1"/>
<path d="M270.9,2269.1 V2408.6" fill="none" stroke="#555" stroke-width="1.3"/>
<text x="251.8" y="2272.9" font-size="12" text-anchor="end" fill="#000">16</text>
<text x="251.8" y="2411.1" font-size="12" text-anchor="end" fill="#000">0</text>
<text x="73" y="2499" font-size="23.5" fill="#000">GSM2481676</text>
<polygon points="553.3,2562 553.3,2562 838,2423.5 1131.3,2562 1131.3,2562" fill="#0000ff" stroke="none"/>
<polyline points="553.3,2562 838,2423.5 1131.3,2562" fill="none" stroke="#000088" stroke-width="0.7"/>
<path d="M259.2,2423.5 H271.4" fill="none" stroke="#222" stroke-width="1"/>
<path d="M259.2,2562 H271.4" fill="none" stroke="#333" stroke-width="1"/>
<path d="M270.9,2423 V2562.5" fill="none" stroke="#555" stroke-width="1.3"/>
<text x="251.8" y="2426.8" font-size="12" text-anchor="end" fill="#000">174</text>
<text x="251.8" y="2565" font-size="12" text-anchor="end" fill="#000">0</text>
<text x="73" y="2652.9" font-size="23.5" fill="#000">GSM2481675</text>
<polygon points="271.5,2715.9 271.5,2681.3 272.7,2646.7 274,2681.3 284,2715.9 295.3,2681.3 298,2715.9 302.7,2612.1 304.7,2698.6 306.3,2715.9 309,2612.1 311.3,2698.6 312.7,2715.9 314.3,2681.3 315.7,2705.6 318,2681.3 319.7,2705.6 321.3,2681.3 323.3,2705.6 326.3,2646.7 327.7,2681.3 329.7,2646.7 333,2681.3 337.3,2715.9 346.3,2681.3 348,2705.6 352,2612.1 354,2681.3 358.7,2715.9 365.3,2681.3 370.7,2715.9 376.3,2681.3 378,2705.6 380.7,2681.3 384.7,2715.9 390.7,2681.3 399.7,2715.9 409.7,2681.3 412,2715.9 416.3,2681.3 418,2705.6 420.7,2681.3 422,2705.6 424,2681.3 428,2715.9 433,2681.3 438,2715.9 441.3,2681.3 444.7,2715.9 448,2681.3 449.7,2705.6 451.3,2681.3 454,2715.9 457.3,2681.3 459.7,2705.6 463,2681.3 465.3,2715.9 470.7,2646.7 476.3,2715.9 481.3,2681.3 491.3,2715.9 502.3,2681.3 505.3,2715.9 510.3,2681.3 520.7,2715.9 530.3,2681.3 539.7,2715.9 548,2681.3 550.7,2646.7 554,2698.6 556.7,2646.7 559.7,2681.3 562,2698.6 564.7,2681.3 571.3,2715.9 577,2681.3 578.7,2646.7 580.3,2698.6 582,2715.9 584.7,2681.3 607.7,2715.9 631,2681.3 642,2715.9 653,2681.3 662,2715.9 669.3,2681.3 671,2705.6 672.7,2681.3 674.7,2715.9 678,2681.3 687,2715.9 696.3,2681.3 699.3,2715.9 702.7,2681.3 704.7,2705.6 707.3,2681.3 708.7,2705.6 711,2681.3 712.7,2705.6 716,2681.3 718,2705.6 722,2681.3 724.7,2715.9 728,2681.3 730.3,2646.7 732.7,2681.3 735,2646.7 737.7,2705.6 741,2681.3 743.7,2715.9 746.3,2681.3 748,2705.6 750.3,2681.3 752,2705.6 755.3,2646.7 757.3,2681.3 759.3,2646.7 762,2681.3 766,2715.9 773.7,2681.3 775.3,2705.6 777.7,2681.3 782,2715.9 788.7,2681.3 790.3,2705.6 793.7,2681.3 802.7,2715.9 812,2681.3 817.3,2681.3 818.7,2646.7 820.3,2612.1 822,2681.3 825.3,2681.3 830.3,2715.9 836,2681.3 841.3,2715.9 844.7,2681.3 846,2705.6 849.3,2681.3 852,2715.9 856,2698.6 860,2646.7 863.3,2715.9 867.7,2681.3 880,2715.9 891,2681.3 892.7,2646.7 894.3,2705.6 896,2681.3 897.7,2705.6 902,2646.7 904.3,2698.6 906,2681.3 912.7,2715.9 920,2681.3 922.7,2705.6 925,2646.7 926.7,2698.6 928.3,2681.3 930,2698.6 931.7,2681.3 933.3,2698.6 935.3,2681.3 939.3,2715.9 945.3,2681.3 949.3,2715.9 955.3,2646.7 958.7,2705.6 961.7,2681.3 964.3,2715.9 967.7,2681.3 969.3,2705.6 972,2681.3 973.3,2705.6 976.7,2681.3 979.3,2705.6 982,2681.3 992,2715.9 1001.7,2681.3 1004.3,2715.9 1010,2646.7 1012.7,2705.6 1015,2646.7 1017.7,2705.6 1022.7,2646.7 1031,2715.9 1037.7,2681.3 1040,2646.7 1042,2577.4 1044.7,2681.3 1048.7,2715.9 1052.7,2646.7 1057.7,2715.9 1066,2681.3 1069.3,2612.1 1072,2698.6 1074.3,2715.9 1077.7,2681.3 1081,2715.9 1086,2681.3 1087.7,2705.6 1091,2681.3 1093.3,2715.9 1102.7,2646.7 1109.3,2715.9 1118.3,2681.3 1121,2715.9 1124.3,2646.7 1127.7,2705.6 1130,2715.9 1135,2646.7 1137.7,2698.6 1140,2715.9 1145.3,2681.3 1147.7,2705.6 1150,2681.3 1151.7,2705.6 1152.7,2681.3 1182.7,2715.9 1213.3,2681.3 1214.3,2705.6 1216.7,2681.3 1222.7,2715.9 1229.3,2681.3 1233.3,2715.9 1238.3,2681.3 1242.7,2715.9 1247.3,2681.3 1250.7,2715.9 1256,2681.3 1264,2715.9 1274,2681.3 1278.3,2715.9 1281.7,2681.3 1283.3,2705.6 1285,2681.3 1286.7,2715.9 1290,2681.3 1292.7,2715.9 1296,2681.3 1308.3,2715.9 1316.7,2681.3 1318.3,2646.7 1320,2681.3 1321.7,2646.7 1323.3,2681.3 1326,2681.3 1331.7,2715.9 1338.3,2681.3 1345,2715.9 1351,2681.3 1352.7,2705.6 1356.7,2681.3 1366.7,2715.9 1374.3,2681.3 1386.7,2715.9 1400,2681.3 1403.3,2705.6 1406,2681.3 1415.7,2715.9 1415.7,2715.9" fill="#0000ff" stroke="none"/>
<polyline points="271.5,2681.3 272.7,2646.7 274,2681.3 284,2715.9 295.3,2681.3 298,2715.9 302.7,2612.1 304.7,2698.6 306.3,2715.9 309,2612.1 311.3,2698.6 312.7,2715.9 314.3,2681.3 315.7,2705.6 318,2681.3 319.7,2705.6 321.3,2681.3 323.3,2705.6 326.3,2646.7 327.7,2681.3 329.7,2646.7 333,2681.3 337.3,2715.9 346.3,2681.3 348,2705.6 352,2612.1 354,2681.3 358.7,2715.9 365.3,2681.3 370.7,2715.9 376.3,2681.3 378,2705.6 380.7,2681.3 384.7,2715.9 390.7,2681.3 399.7,2715.9 409.7,2681.3 412,2715.9 416.3,2681.3 418,2705.6 420.7,2681.3 422,2705.6 424,2681.3 428,2715.9 433,2681.3 438,2715.9 441.3,2681.3 444.7,2715.9 448,2681.3 449.7,2705.6 451.3,2681.3 454,2715.9 457.3,2681.3 459.7,2705.6 463,2681.3 465.3,2715.9 470.7,2646.7 476.3,2715.9 481.3,2681.3 491.3,2715.9 502.3,2681.3 505.3,2715.9 510.3,2681.3 520.7,2715.9 530.3,2681.3 539.7,2715.9 548,2681.3 550.7,2646.7 554,2698.6 556.7,2646.7 559.7,2681.3 562,2698.6 564.7,2681.3 571.3,2715.9 577,2681.3 578.7,2646.7 580.3,2698.6 582,2715.9 584.7,2681.3 607.7,2715.9 631,2681.3 642,2715.9 653,2681.3 662,2715.9 669.3,2681.3 671,2705.6 672.7,2681.3 674.7,2715.9 678,2681.3 687,2715.9 696.3,2681.3 699.3,2715.9 702.7,2681.3 704.7,2705.6 707.3,2681.3 708.7,2705.6 711,2681.3 712.7,2705.6 716,2681.3 718,2705.6 722,2681.3 724.7,2715.9 728,2681.3 730.3,2646.7 732.7,2681.3 735,2646.7 737.7,2705.6 741,2681.3 743.7,2715.9 746.3,2681.3 748,2705.6 750.3,2681.3 752,2705.6 755.3,2646.7 757.3,2681.3 759.3,2646.7 762,2681.3 766,2715.9 773.7,2681.3 775.3,2705.6 777.7,2681.3 782,2715.9 788.7,2681.3 790.3,2705.6 793.7,2681.3 802.7,2715.9 812,2681.3 817.3,2681.3 818.7,2646.7 820.3,2612.1 822,2681.3 825.3,2681.3 830.3,2715.9 836,2681.3 841.3,2715.9 844.7,2681.3 846,2705.6 849.3,2681.3 852,2715.9 856,2698.6 860,2646.7 863.3,2715.9 867.7,2681.3 880,2715.9 891,2681.3 892.7,2646.7 894.3,2705.6 896,2681.3 897.7,2705.6 902,2646.7 904.3,2698.6 906,2681.3 912.7,2715.9 920,2681.3 922.7,2705.6 925,2646.7 926.7,2698.6 928.3,2681.3 930,2698.6 931.7,2681.3 933.3,2698.6 935.3,2681.3 939.3,2715.9 945.3,2681.3 949.3,2715.9 955.3,2646.7 958.7,2705.6 961.7,2681.3 964.3,2715.9 967.7,2681.3 969.3,2705.6 972,2681.3 973.3,2705.6 976.7,2681.3 979.3,2705.6 982,2681.3 992,2715.9 1001.7,2681.3 1004.3,2715.9 1010,2646.7 1012.7,2705.6 1015,2646.7 1017.7,2705.6 1022.7,2646.7 1031,2715.9 1037.7,2681.3 1040,2646.7 1042,2577.4 1044.7,2681.3 1048.7,2715.9 1052.7,2646.7 1057.7,2715.9 1066,2681.3 1069.3,2612.1 1072,2698.6 1074.3,2715.9 1077.7,2681.3 1081,2715.9 1086,2681.3 1087.7,2705.6 1091,2681.3 1093.3,2715.9 1102.7,2646.7 1109.3,2715.9 1118.3,2681.3 1121,2715.9 1124.3,2646.7 1127.7,2705.6 1130,2715.9 1135,2646.7 1137.7,2698.6 1140,2715.9 1145.3,2681.3 1147.7,2705.6 1150,2681.3 1151.7,2705.6 1152.7,2681.3 1182.7,2715.9 1213.3,2681.3 1214.3,2705.6 1216.7,2681.3 1222.7,2715.9 1229.3,2681.3 1233.3,2715.9 1238.3,2681.3 1242.7,2715.9 1247.3,2681.3 1250.7,2715.9 1256,2681.3 1264,2715.9 1274,2681.3 1278.3,2715.9 1281.7,2681.3 1283.3,2705.6 1285,2681.3 1286.7,2715.9 1290,2681.3 1292.7,2715.9 1296,2681.3 1308.3,2715.9 1316.7,2681.3 1318.3,2646.7 1320,2681.3 1321.7,2646.7 1323.3,2681.3 1326,2681.3 1331.7,2715.9 1338.3,2681.3 1345,2715.9 1351,2681.3 1352.7,2705.6 1356.7,2681.3 1366.7,2715.9 1374.3,2681.3 1386.7,2715.9 1400,2681.3 1403.3,2705.6 1406,2681.3 1415.7,2715.9" fill="none" stroke="#000088" stroke-width="0.7"/>
<path d="M315.7,2715.9V2705.6M319.7,2715.9V2705.6M323.3,2715.9V2705.6M327.7,2715.9V2681.3M348,2715.9V2705.6M378,2715.9V2705.6M418,2715.9V2705.6M422,2715.9V2705.6M449.7,2715.9V2705.6M459.7,2715.9V2705.6M554,2715.9V2698.6M562,2715.9V2698.6M671,2715.9V2705.6M704.7,2715.9V2705.6M708.7,2715.9V2705.6M712.7,2715.9V2705.6M718,2715.9V2705.6M732.7,2715.9V2681.3M737.7,2715.9V2705.6M748,2715.9V2705.6M752,2715.9V2705.6M757.3,2715.9V2681.3M775.3,2715.9V2705.6M790.3,2715.9V2705.6M817.3,2715.9V2681.3M822,2715.9V2681.3M846,2715.9V2705.6M894.3,2715.9V2705.6M897.7,2715.9V2705.6M904.3,2715.9V2698.6M922.7,2715.9V2705.6M926.7,2715.9V2698.6M930,2715.9V2698.6M933.3,2715.9V2698.6M958.7,2715.9V2705.6M969.3,2715.9V2705.6M973.3,2715.9V2705.6M979.3,2715.9V2705.6M1012.7,2715.9V2705.6M1017.7,2715.9V2705.6M1087.7,2715.9V2705.6M1147.7,2715.9V2705.6M1151.7,2715.9V2705.6M1214.3,2715.9V2705.6M1283.3,2715.9V2705.6M1320,2715.9V2681.3M1323.3,2715.9V2681.3M1352.7,2715.9V2705.6M1403.3,2715.9V2705.6" fill="none" stroke="#000088" stroke-width="0.8"/>
<path d="M259.2,2577.4 H271.4" fill="none" stroke="#222" stroke-width="1"/>
<path d="M259.2,2715.9 H271.4" fill="none" stroke="#333" stroke-width="1"/>
<path d="M270.9,2576.9 V2716.4" fill="none" stroke="#555" stroke-width="1.3"/>
<text x="251.8" y="2580.7" font-size="12" text-anchor="end" fill="#000">10</text>
<text x="251.8" y="2718.9" font-size="12" text-anchor="end" fill="#000">0</text>
<text x="73" y="2806.9" font-size="23.5" fill="#000">GSM2481674</text>
<polygon points="271.5,2869.9 271.5,2869.9 271.8,2800.6 273,2731.4 849.7,2869.9 849.7,2869.9" fill="#0000ff" stroke="none"/>
<polyline points="271.5,2869.9 271.8,2800.6 273,2731.4 849.7,2869.9" fill="none" stroke="#000088" stroke-width="0.7"/>
<path d="M259.2,2731.4 H271.4" fill="none" stroke="#222" stroke-width="1"/>
<path d="M259.2,2869.9 H271.4" fill="none" stroke="#333" stroke-width="1"/>
<path d="M270.9,2730.9 V2870.4" fill="none" stroke="#555" stroke-width="1.3"/>
<text x="251.8" y="2734.7" font-size="12" text-anchor="end" fill="#000">239</text>
<text x="251.8" y="2872.9" font-size="12" text-anchor="end" fill="#000">0</text>
<text x="73" y="2960.8" font-size="23.5" fill="#000">GSM2481673</text>
<polygon points="271.5,3023.8 271.5,2919.9 273.7,2919.9 275.5,3011.7 277.5,2989.2 280.3,3013.4 282.5,2989.2 285,3013.4 288.2,2954.6 289.2,2968.4 290.3,2954.6 292.7,2976.7 294.7,2954.6 296.5,3013.4 300.5,2989.2 306.3,3023.8 310.7,2989.2 316.3,3023.8 320.7,2989.2 336.3,3023.8 350.7,2989.2 353,3013.4 355.3,2954.6 357.3,3013.4 358.7,3023.8 362,2989.2 364.7,3023.8 369,2989.2 371.3,3023.8 376.3,2989.2 378.7,3023.8 383,2989.2 390.7,3023.8 397.3,2989.2 400,2954.6 402,2989.2 425.3,3023.8 450.7,2989.2 453,3013.4 456.3,2989.2 458.7,3013.4 462,2989.2 464.7,3023.8 469.7,2989.2 472.3,2954.6 474.7,3006.5 477,2989.2 488,3023.8 501.3,2989.2 504,2954.6 506.3,2989.2 514,3023.8 522,2989.2 524,3013.4 526.3,2989.2 540.7,3023.8 554,2989.2 558.7,3023.8 562,2989.2 563.7,2989.2 567,3023.8 570.3,2989.2 572.7,3023.8 576.3,2954.6 578.7,3013.4 582,2919.9 584.7,3006.5 587,3023.8 589.3,2989.2 622,3023.8 657,2989.2 661.3,3023.8 666.3,2989.2 670.3,3023.8 674.3,2954.6 676.7,3013.4 679.3,2989.2 681.3,2919.9 683.3,2989.2 696.3,3023.8 710.3,2989.2 717,3023.8 724.3,2989.2 730.3,3023.8 736.3,2989.2 738.7,3013.4 743,2989.2 744.7,3013.4 747,2954.6 750.3,3006.5 753.7,3023.8 758.7,2989.2 762,3013.4 764.7,2989.2 766.7,3013.4 769.3,2989.2 771.3,3013.4 775.3,2989.2 780.3,3023.8 784.7,2919.9 787,3006.5 790.3,2989.2 792.7,3013.4 797,2989.2 808,3023.8 820.3,2989.2 822.7,2954.6 825.3,3006.5 827.7,3023.8 830.3,2989.2 832.7,3013.4 836.3,2989.2 842,3023.8 848,2989.2 848.7,2919.9 850.3,2989.2 856,3023.8 857.7,3013.4 866,2989.2 869.3,2954.6 871.7,3006.5 873.7,2954.6 876,2989.2 879.3,3023.8 884.3,2989.2 886,3013.4 888,2989.2 892,3023.8 895.3,2954.6 896.7,2954.6 898.3,2919.9 899.7,2885.3 901.7,2989.2 903.3,2989.2 904.7,2989.2 906.7,2954.6 909.3,2919.9 911.3,2989.2 913.3,3006.5 915.3,2954.6 917.7,3013.4 920.3,2989.2 923.7,2954.6 926,3013.4 927.7,2989.2 941,3023.8 955,2954.6 961,3023.8 969.3,2989.2 974.3,3023.8 980.3,2989.2 982.7,3013.4 986.7,2954.6 988.7,2989.2 995.3,3023.8 1004.3,2989.2 1006.7,3013.4 1009.7,2954.6 1011.3,3013.4 1013.7,2989.2 1015.3,3013.4 1016.7,2989.2 1023.7,3023.8 1031.7,2989.2 1041,3023.8 1052,2989.2 1055.3,3023.8 1060,2989.2 1069.3,3023.8 1079.3,2989.2 1082.7,2989.2 1085,2954.6 1087.7,3006.5 1091,3023.8 1095.3,2989.2 1104.3,3023.8 1114.3,2989.2 1116.7,3013.4 1121.7,2989.2 1134.3,3023.8 1148.7,2989.2 1150,2989.2 1151.7,3006.5 1155,2954.6 1156.7,2954.6 1158.3,3013.4 1160.7,2989.2 1165,3023.8 1170.7,2989.2 1189,3023.8 1209,2989.2 1215,3023.8 1220,2954.6 1221.7,2989.2 1224,2954.6 1226.7,2989.2 1231.7,3023.8 1239,2989.2 1252.7,3023.8 1265,2989.2 1266.3,2954.6 1268.3,2989.2 1270.7,2989.2 1276.7,3023.8 1282.7,2989.2 1284,3013.4 1286,2989.2 1287.3,3013.4 1289.3,2989.2 1293.3,3023.8 1296.7,2989.2 1299.3,3023.8 1303.3,2954.6 1308.3,3023.8 1313.3,2954.6 1315.7,3006.5 1319.3,2919.9 1321.7,2989.2 1327.3,3023.8 1333.3,2989.2 1336.7,3013.4 1339.3,2989.2 1340.7,3006.5 1344,2954.6 1346.7,3013.4 1349.3,2989.2 1353.3,3023.8 1358.3,2989.2 1363.3,3023.8 1369.3,2954.6 1371.7,3006.5 1376,2954.6 1378.3,2989.2 1391.7,3023.8 1407.3,2989.2 1409.3,3013.4 1410.7,2989.2 1416.7,3023.8 1423,2954.6 1423,3023.8" fill="#0000ff" stroke="none"/>
<polyline points="271.5,2919.9 273.7,2919.9 275.5,3011.7 277.5,2989.2 280.3,3013.4 282.5,2989.2 285,3013.4 288.2,2954.6 289.2,2968.4 290.3,2954.6 292.7,2976.7 294.7,2954.6 296.5,3013.4 300.5,2989.2 306.3,3023.8 310.7,2989.2 316.3,3023.8 320.7,2989.2 336.3,3023.8 350.7,2989.2 353,3013.4 355.3,2954.6 357.3,3013.4 358.7,3023.8 362,2989.2 364.7,3023.8 369,2989.2 371.3,3023.8 376.3,2989.2 378.7,3023.8 383,2989.2 390.7,3023.8 397.3,2989.2 400,2954.6 402,2989.2 425.3,3023.8 450.7,2989.2 453,3013.4 456.3,2989.2 458.7,3013.4 462,2989.2 464.7,3023.8 469.7,2989.2 472.3,2954.6 474.7,3006.5 477,2989.2 488,3023.8 501.3,2989.2 504,2954.6 506.3,2989.2 514,3023.8 522,2989.2 524,3013.4 526.3,2989.2 540.7,3023.8 554,2989.2 558.7,3023.8 562,2989.2 563.7,2989.2 567,3023.8 570.3,2989.2 572.7,3023.8 576.3,2954.6 578.7,3013.4 582,2919.9 584.7,3006.5 587,3023.8 589.3,2989.2 622,3023.8 657,2989.2 661.3,3023.8 666.3,2989.2 670.3,3023.8 674.3,2954.6 676.7,3013.4 679.3,2989.2 681.3,2919.9 683.3,2989.2 696.3,3023.8 710.3,2989.2 717,3023.8 724.3,2989.2 730.3,3023.8 736.3,2989.2 738.7,3013.4 743,2989.2 744.7,3013.4 747,2954.6 750.3,3006.5 753.7,3023.8 758.7,2989.2 762,3013.4 764.7,2989.2 766.7,3013.4 769.3,2989.2 771.3,3013.4 775.3,2989.2 780.3,3023.8 784.7,2919.9 787,3006.5 790.3,2989.2 792.7,3013.4 797,2989.2 808,3023.8 820.3,2989.2 822.7,2954.6 825.3,3006.5 827.7,3023.8 830.3,2989.2 832.7,3013.4 836.3,2989.2 842,3023.8 848,2989.2 848.7,2919.9 850.3,2989.2 856,3023.8 857.7,3013.4 866,2989.2 869.3,2954.6 871.7,3006.5 873.7,2954.6 876,2989.2 879.3,3023.8 884.3,2989.2 886,3013.4 888,2989.2 892,3023.8 895.3,2954.6 896.7,2954.6 898.3,2919.9 899.7,2885.3 901.7,2989.2 903.3,2989.2 904.7,2989.2 906.7,2954.6 909.3,2919.9 911.3,2989.2 913.3,3006.5 915.3,2954.6 917.7,3013.4 920.3,2989.2 923.7,2954.6 926,3013.4 927.7,2989.2 941,3023.8 955,2954.6 961,3023.8 969.3,2989.2 974.3,3023.8 980.3,2989.2 982.7,3013.4 986.7,2954.6 988.7,2989.2 995.3,3023.8 1004.3,2989.2 1006.7,3013.4 1009.7,2954.6 1011.3,3013.4 1013.7,2989.2 1015.3,3013.4 1016.7,2989.2 1023.7,3023.8 1031.7,2989.2 1041,3023.8 1052,2989.2 1055.3,3023.8 1060,2989.2 1069.3,3023.8 1079.3,2989.2 1082.7,2989.2 1085,2954.6 1087.7,3006.5 1091,3023.8 1095.3,2989.2 1104.3,3023.8 1114.3,2989.2 1116.7,3013.4 1121.7,2989.2 1134.3,3023.8 1148.7,2989.2 1150,2989.2 1151.7,3006.5 1155,2954.6 1156.7,2954.6 1158.3,3013.4 1160.7,2989.2 1165,3023.8 1170.7,2989.2 1189,3023.8 1209,2989.2 1215,3023.8 1220,2954.6 1221.7,2989.2 1224,2954.6 1226.7,2989.2 1231.7,3023.8 1239,2989.2 1252.7,3023.8 1265,2989.2 1266.3,2954.6 1268.3,2989.2 1270.7,2989.2 1276.7,3023.8 1282.7,2989.2 1284,3013.4 1286,2989.2 1287.3,3013.4 1289.3,2989.2 1293.3,3023.8 1296.7,2989.2 1299.3,3023.8 1303.3,2954.6 1308.3,3023.8 1313.3,2954.6 1315.7,3006.5 1319.3,2919.9 1321.7,2989.2 1327.3,3023.8 1333.3,2989.2 1336.7,3013.4 1339.3,2989.2 1340.7,3006.5 1344,2954.6 1346.7,3013.4 1349.3,2989.2 1353.3,3023.8 1358.3,2989.2 1363.3,3023.8 1369.3,2954.6 1371.7,3006.5 1376,2954.6 1378.3,2989.2 1391.7,3023.8 1407.3,2989.2 1409.3,3013.4 1410.7,2989.2 1416.7,3023.8 1423,2954.6" fill="none" stroke="#000088" stroke-width="0.7"/>
<path d="M275.5,3023.8V3011.7M280.3,3023.8V3013.4M285,3023.8V3013.4M289.2,3023.8V2968.4M292.7,3023.8V2976.7M296.5,3023.8V3013.4M353,3023.8V3013.4M453,3023.8V3013.4M458.7,3023.8V3013.4M474.7,3023.8V3006.5M524,3023.8V3013.4M578.7,3023.8V3013.4M676.7,3023.8V3013.4M738.7,3023.8V3013.4M744.7,3023.8V3013.4M762,3023.8V3013.4M766.7,3023.8V3013.4M771.3,3023.8V3013.4M787,3023.8V3006.5M792.7,3023.8V3013.4M832.7,3023.8V3013.4M871.7,3023.8V3006.5M886,3023.8V3013.4M896.7,3023.8V2954.6M901.7,3023.8V2989.2M903.3,3023.8V2989.2M904.7,3023.8V2989.2M913.3,3023.8V3006.5M917.7,3023.8V3013.4M926,3023.8V3013.4M982.7,3023.8V3013.4M1006.7,3023.8V3013.4M1011.3,3023.8V3013.4M1015.3,3023.8V3013.4M1082.7,3023.8V2989.2M1116.7,3023.8V3013.4M1151.7,3023.8V3006.5M1158.3,3023.8V3013.4M1221.7,3023.8V2989.2M1268.3,3023.8V2989.2M1284,3023.8V3013.4M1287.3,3023.8V3013.4M1315.7,3023.8V3006.5M1336.7,3023.8V3013.4M1340.7,3023.8V3006.5M1346.7,3023.8V3013.4M1371.7,3023.8V3006.5M1409.3,3023.8V3013.4" fill="none" stroke="#000088" stroke-width="0.8"/>
<path d="M259.2,2885.3 H271.4" fill="none" stroke="#222" stroke-width="1"/>
<path d="M259.2,3023.8 H271.4" fill="none" stroke="#333" stroke-width="1"/>
<path d="M270.9,2884.8 V3024.3" fill="none" stroke="#555" stroke-width="1.3"/>
<text x="251.8" y="2888.6" font-size="12" text-anchor="end" fill="#000">12</text>
<text x="251.8" y="3026.8" font-size="12" text-anchor="end" fill="#000">0</text>
<text x="73" y="3114.8" font-size="23.5" fill="#000">GSM2481672</text>
<polygon points="280.3,3177.8 280.3,3177.8 290.3,3039.3 308,3177.8 327,3039.3 486.3,3177.8 562,3114.1 646.3,3039.3 685.3,3177.8 723.7,3039.3 798,3177.8 856,3072.5 874.3,3039.3 889.3,3177.8 905.3,3039.3 937.7,3177.8 970.3,3039.3 971.3,3101.6 973,3039.3 975,3145.9 978.7,3039.3 1001,3177.8 1022,3039.3 1150,3126.5 1224,3177.8 1224,3177.8" fill="#0000ff" stroke="none"/>
<polyline points="280.3,3177.8 290.3,3039.3 308,3177.8 327,3039.3 486.3,3177.8 562,3114.1 646.3,3039.3 685.3,3177.8 723.7,3039.3 798,3177.8 856,3072.5 874.3,3039.3 889.3,3177.8 905.3,3039.3 937.7,3177.8 970.3,3039.3 971.3,3101.6 973,3039.3 975,3145.9 978.7,3039.3 1001,3177.8 1022,3039.3 1150,3126.5 1224,3177.8" fill="none" stroke="#000088" stroke-width="0.7"/>
<path d="M971.3,3177.8V3101.6M975,3177.8V3145.9" fill="none" stroke="#000088" stroke-width="0.8"/>
<path d="M259.2,3039.3 H271.4" fill="none" stroke="#222" stroke-width="1"/>
<path d="M259.2,3177.8 H271.4" fill="none" stroke="#333" stroke-width="1"/>
<path d="M270.9,3038.8 V3178.3" fill="none" stroke="#555" stroke-width="1.3"/>
<text x="251.8" y="3042.6" font-size="12" text-anchor="end" fill="#000">38</text>
<text x="251.8" y="3180.8" font-size="12" text-anchor="end" fill="#000">0</text>
<text x="73" y="3268.7" font-size="23.5" fill="#000">GSM2481671</text>
<polygon points="271.5,3331.7 271.5,3285.5 272.7,3308.6 275.3,3239.4 276.7,3285.5 282,3331.7 287.3,3285.5 289.7,3317.9 292,3285.5 301.3,3331.7 310.7,3285.5 319.7,3331.7 329,3285.5 338,3331.7 347,3285.5 349,3317.9 351.3,3285.5 352.7,3317.9 354.7,3285.5 355.7,3317.9 358,3285.5 366.3,3331.7 373.7,3285.5 376.3,3331.7 379,3285.5 388,3331.7 397.3,3285.5 401.3,3331.7 406.3,3285.5 408,3308.6 410.3,3239.4 412,3308.6 413.7,3285.5 424,3331.7 433.7,3285.5 435.7,3317.9 438,3285.5 439.7,3308.6 442,3285.5 447.3,3331.7 451.3,3285.5 453.7,3193.2 455.7,3317.9 458.7,3285.5 466.3,3331.7 473,3285.5 476.3,3331.7 480.7,3239.4 483,3285.5 497.3,3331.7 513,3285.5 515.3,3317.9 516.3,3285.5 519.7,3331.7 524,3239.4 526.3,3317.9 534.7,3285.5 537.3,3331.7 541.3,3285.5 543,3317.9 544.7,3285.5 546.3,3317.9 547.3,3285.5 550.7,3331.7 554,3285.5 558,3331.7 562,3285.5 569.3,3331.7 576.7,3285.5 578.7,3317.9 580.7,3285.5 582.7,3317.9 585.3,3239.4 587.3,3308.6 589.3,3331.7 592,3285.5 593.7,3308.6 596,3285.5 620.3,3331.7 645.3,3285.5 646.3,3239.4 647.3,3285.5 655.3,3331.7 663.7,3285.5 668.7,3331.7 674.3,3285.5 677,3317.9 679.3,3285.5 681.3,3317.9 684,3285.5 685.3,3317.9 687.7,3285.5 692.7,3331.7 697,3285.5 698,3239.4 699.3,3285.5 733.7,3331.7 771.3,3285.5 775.3,3331.7 779.3,3285.5 781.7,3193.2 783.7,3308.6 785.7,3285.5 788,3239.4 790,3285.5 792,3285.5 798,3331.7 806,3285.5 808,3317.9 810.3,3285.5 812,3317.9 814.3,3285.5 828.7,3331.7 842,3285.5 845.3,3239.4 847.3,3285.5 854.7,3331.7 856,3317.9 861,3285.5 862.7,3308.6 864.3,3285.5 866.7,3308.6 868.3,3239.4 870,3285.5 875.3,3331.7 882,3285.5 884.3,3317.9 889.3,3239.4 893.3,3308.6 895.3,3331.7 902,3285.5 907.7,3331.7 914.3,3285.5 916,3308.6 918,3193.2 920,3285.5 922,3285.5 923.7,3308.6 926.7,3285.5 935.3,3331.7 944.3,3285.5 947.7,3331.7 952.7,3285.5 957.7,3331.7 964.3,3285.5 966.7,3317.9 969.3,3285.5 971,3317.9 974.3,3285.5 978.7,3331.7 983.7,3285.5 986,3317.9 989.3,3285.5 992.7,3331.7 996,3285.5 1002.7,3331.7 1008.7,3285.5 1031,3331.7 1055,3285.5 1071,3331.7 1085.3,3285.5 1090,3331.7 1093.7,3285.5 1094.7,3239.4 1096.7,3285.5 1098.7,3285.5 1100.3,3239.4 1102,3308.6 1104.3,3285.5 1117.7,3331.7 1130.3,3285.5 1132,3239.4 1133.7,3285.5 1135.3,3317.9 1137.7,3331.7 1140.3,3239.4 1143.3,3285.5 1146,3331.7 1150,3308.6 1153.3,3285.5 1155,3317.9 1156.7,3308.6 1158.3,3239.4 1160,3317.9 1163.3,3285.5 1168.3,3331.7 1173.3,3285.5 1175.3,3239.4 1176.7,3262.5 1178.3,3239.4 1180,3285.5 1186.7,3331.7 1193.3,3285.5 1195.7,3239.4 1197.3,3285.5 1211.7,3331.7 1226.7,3285.5 1227.7,3308.6 1229.3,3239.4 1231.7,3285.5 1238.3,3331.7 1246,3285.5 1248,3308.6 1250,3193.2 1251.7,3308.6 1253.3,3285.5 1260,3331.7 1267.3,3285.5 1269.3,3317.9 1271.7,3285.5 1273.3,3317.9 1279.3,3285.5 1285,3331.7 1291.7,3285.5 1305,3331.7 1319.3,3285.5 1321.7,3317.9 1326.7,3285.5 1328.3,3317.9 1331,3285.5 1335,3331.7 1339.3,3239.4 1342.7,3331.7 1349.3,3285.5 1351.7,3317.9 1355.3,3239.4 1359.3,3317.9 1364,3239.4 1366,3317.9 1367.3,3285.5 1370,3331.7 1376.7,3285.5 1386,3331.7 1398.3,3285.5 1405,3331.7 1410.7,3285.5 1417.7,3331.7 1417.7,3331.7" fill="#0000ff" stroke="none"/>
<polyline points="271.5,3285.5 272.7,3308.6 275.3,3239.4 276.7,3285.5 282,3331.7 287.3,3285.5 289.7,3317.9 292,3285.5 301.3,3331.7 310.7,3285.5 319.7,3331.7 329,3285.5 338,3331.7 347,3285.5 349,3317.9 351.3,3285.5 352.7,3317.9 354.7,3285.5 355.7,3317.9 358,3285.5 366.3,3331.7 373.7,3285.5 376.3,3331.7 379,3285.5 388,3331.7 397.3,3285.5 401.3,3331.7 406.3,3285.5 408,3308.6 410.3,3239.4 412,3308.6 413.7,3285.5 424,3331.7 433.7,3285.5 435.7,3317.9 438,3285.5 439.7,3308.6 442,3285.5 447.3,3331.7 451.3,3285.5 453.7,3193.2 455.7,3317.9 458.7,3285.5 466.3,3331.7 473,3285.5 476.3,3331.7 480.7,3239.4 483,3285.5 497.3,3331.7 513,3285.5 515.3,3317.9 516.3,3285.5 519.7,3331.7 524,3239.4 526.3,3317.9 534.7,3285.5 537.3,3331.7 541.3,3285.5 543,3317.9 544.7,3285.5 546.3,3317.9 547.3,3285.5 550.7,3331.7 554,3285.5 558,3331.7 562,3285.5 569.3,3331.7 576.7,3285.5 578.7,3317.9 580.7,3285.5 582.7,3317.9 585.3,3239.4 587.3,3308.6 589.3,3331.7 592,3285.5 593.7,3308.6 596,3285.5 620.3,3331.7 645.3,3285.5 646.3,3239.4 647.3,3285.5 655.3,3331.7 663.7,3285.5 668.7,3331.7 674.3,3285.5 677,3317.9 679.3,3285.5 681.3,3317.9 684,3285.5 685.3,3317.9 687.7,3285.5 692.7,3331.7 697,3285.5 698,3239.4 699.3,3285.5 733.7,3331.7 771.3,3285.5 775.3,3331.7 779.3,3285.5 781.7,3193.2 783.7,3308.6 785.7,3285.5 788,3239.4 790,3285.5 792,3285.5 798,3331.7 806,3285.5 808,3317.9 810.3,3285.5 812,3317.9 814.3,3285.5 828.7,3331.7 842,3285.5 845.3,3239.4 847.3,3285.5 854.7,3331.7 856,3317.9 861,3285.5 862.7,3308.6 864.3,3285.5 866.7,3308.6 868.3,3239.4 870,3285.5 875.3,3331.7 882,3285.5 884.3,3317.9 889.3,3239.4 893.3,3308.6 895.3,3331.7 902,3285.5 907.7,3331.7 914.3,3285.5 916,3308.6 918,3193.2 920,3285.5 922,3285.5 923.7,3308.6 926.7,3285.5 935.3,3331.7 944.3,3285.5 947.7,3331.7 952.7,3285.5 957.7,3331.7 964.3,3285.5 966.7,3317.9 969.3,3285.5 971,3317.9 974.3,3285.5 978.7,3331.7 983.7,3285.5 986,3317.9 989.3,3285.5 992.7,3331.7 996,3285.5 1002.7,3331.7 1008.7,3285.5 1031,3331.7 1055,3285.5 1071,3331.7 1085.3,3285.5 1090,3331.7 1093.7,3285.5 1094.7,3239.4 1096.7,3285.5 1098.7,3285.5 1100.3,3239.4 1102,3308.6 1104.3,3285.5 1117.7,3331.7 1130.3,3285.5 1132,3239.4 1133.7,3285.5 1135.3,3317.9 1137.7,3331.7 1140.3,3239.4 1143.3,3285.5 1146,3331.7 1150,3308.6 1153.3,3285.5 1155,3317.9 1156.7,3308.6 1158.3,3239.4 1160,3317.9 1163.3,3285.5 1168.3,3331.7 1173.3,3285.5 1175.3,3239.4 1176.7,3262.5 1178.3,3239.4 1180,3285.5 1186.7,3331.7 1193.3,3285.5 1195.7,3239.4 1197.3,3285.5 1211.7,3331.7 1226.7,3285.5 1227.7,3308.6 1229.3,3239.4 1231.7,3285.5 1238.3,3331.7 1246,3285.5 1248,3308.6 1250,3193.2 1251.7,3308.6 1253.3,3285.5 1260,3331.7 1267.3,3285.5 1269.3,3317.9 1271.7,3285.5 1273.3,3317.9 1279.3,3285.5 1285,3331.7 1291.7,3285.5 1305,3331.7 1319.3,3285.5 1321.7,3317.9 1326.7,3285.5 1328.3,3317.9 1331,3285.5 1335,3331.7 1339.3,3239.4 1342.7,3331.7 1349.3,3285.5 1351.7,3317.9 1355.3,3239.4 1359.3,3317.9 1364,3239.4 1366,3317.9 1367.3,3285.5 1370,3331.7 1376.7,3285.5 1386,3331.7 1398.3,3285.5 1405,3331.7 1410.7,3285.5 1417.7,3331.7" fill="none" stroke="#000088" stroke-width="0.7"/>
<path d="M272.7,3331.7V3308.6M289.7,3331.7V3317.9M349,3331.7V3317.9M352.7,3331.7V3317.9M355.7,3331.7V3317.9M408,3331.7V3308.6M412,3331.7V3308.6M435.7,3331.7V3317.9M439.7,3331.7V3308.6M455.7,3331.7V3317.9M515.3,3331.7V3317.9M526.3,3331.7V3317.9M543,3331.7V3317.9M546.3,3331.7V3317.9M578.7,3331.7V3317.9M582.7,3331.7V3317.9M593.7,3331.7V3308.6M677,3331.7V3317.9M681.3,3331.7V3317.9M685.3,3331.7V3317.9M783.7,3331.7V3308.6M790,3331.7V3285.5M808,3331.7V3317.9M812,3331.7V3317.9M862.7,3331.7V3308.6M866.7,3331.7V3308.6M884.3,3331.7V3317.9M916,3331.7V3308.6M920,3331.7V3285.5M923.7,3331.7V3308.6M966.7,3331.7V3317.9M971,3331.7V3317.9M986,3331.7V3317.9M1096.7,3331.7V3285.5M1098.7,3331.7V3285.5M1102,3331.7V3308.6M1155,3331.7V3317.9M1160,3331.7V3317.9M1176.7,3331.7V3262.5M1227.7,3331.7V3308.6M1248,3331.7V3308.6M1251.7,3331.7V3308.6M1269.3,3331.7V3317.9M1273.3,3331.7V3317.9M1321.7,3331.7V3317.9M1328.3,3331.7V3317.9M1351.7,3331.7V3317.9M1359.3,3331.7V3317.9M1366,3331.7V3317.9" fill="none" stroke="#000088" stroke-width="0.8"/>
<path d="M259.2,3193.2 H271.4" fill="none" stroke="#222" stroke-width="1"/>
<path d="M259.2,3331.7 H271.4" fill="none" stroke="#333" stroke-width="1"/>
<path d="M270.9,3192.7 V3332.2" fill="none" stroke="#555" stroke-width="1.3"/>
<text x="251.8" y="3196.5" font-size="12" text-anchor="end" fill="#000">11</text>
<text x="251.8" y="3334.7" font-size="12" text-anchor="end" fill="#000">0</text>
<text x="73" y="3422.6" font-size="23.5" fill="#000">GSM2481670</text>
<polygon points="546.5,3485.6 546.5,3485.6 825,3347.1 870.8,3485.6 916.3,3416.4 917.2,3347.1 918.5,3416.4 1172,3485.6 1172,3485.6" fill="#0000ff" stroke="none"/>
<polyline points="546.5,3485.6 825,3347.1 870.8,3485.6 916.3,3416.4 917.2,3347.1 918.5,3416.4 1172,3485.6" fill="none" stroke="#000088" stroke-width="0.7"/>
<path d="M259.2,3347.1 H271.4" fill="none" stroke="#222" stroke-width="1"/>
<path d="M259.2,3485.6 H271.4" fill="none" stroke="#333" stroke-width="1"/>
<path d="M270.9,3346.6 V3486.1" fill="none" stroke="#555" stroke-width="1.3"/>
<text x="251.8" y="3350.4" font-size="12" text-anchor="end" fill="#000">258</text>
<text x="251.8" y="3488.6" font-size="12" text-anchor="end" fill="#000">0</text>
<text x="73" y="3576.6" font-size="23.5" fill="#000">GSM2481669</text>
<polygon points="271.5,3639.6 271.5,3637 273,3602 274.7,3620.3 276.3,3614.3 278,3633.7 279.7,3638.7 281.3,3627 283,3637 285.7,3614.3 287.3,3627 288.7,3637 291.3,3627 293.3,3589.3 295.3,3614.3 296.7,3633.7 298,3614.3 299.7,3627 300.7,3633.7 302.3,3589.3 304,3627 305.3,3638.7 307.3,3627 309.7,3637 312,3632 314,3627 315.3,3630.3 317.3,3627 318.7,3637 320.7,3627 323,3632 324.7,3638.7 328,3627 330.3,3607 332.7,3589.3 334.7,3620.3 337.3,3630.3 340.7,3638.7 344.7,3630.3 347.3,3627 348.7,3602 350.7,3620.3 352,3630.3 354,3602 356.3,3614.3 358,3630.3 360.7,3637 363,3602 364.7,3620.3 367.3,3614.3 369.7,3630.3 371.3,3637 373.3,3614.3 375.3,3627 378,3637 380.7,3627 383,3633.7 385.3,3637 387.3,3614.3 388.7,3602 390.7,3627 393,3637 396.3,3637 398.7,3614.3 400.7,3630.3 403,3633.7 405.3,3638.7 408,3633.7 409.7,3627 412,3614.3 413.3,3627 414.7,3614.3 416.7,3630.3 418.7,3614.3 420.7,3627 423,3633.7 424.7,3627 427.3,3637 429.7,3627 432,3614.3 434,3637 436.3,3627 438,3632 440.7,3627 443,3638.7 444.7,3627 446.3,3632 448.7,3627 450.7,3633.7 453,3638.7 458,3630.3 461.3,3627 464,3614.3 466,3602 468,3620.3 470.7,3637 473,3627 474.7,3633.7 477.3,3627 478.7,3632 480.3,3627 482,3632 484.7,3627 487.3,3633.7 489.7,3638.7 493,3632 496.3,3620.3 498,3614.3 499.7,3630.3 503,3638.7 507.3,3627 510.7,3633.7 514,3638.7 517.3,3627 520.7,3614.3 523,3637 525.3,3627 527.3,3614.3 529.7,3633.7 532,3627 534.7,3633.7 537.3,3627 539.7,3638.7 542,3620.3 544,3614.3 546.3,3637 548,3627 550,3614.3 552,3638.7 554.7,3620.3 558,3602 560,3633.7 562,3637 563.7,3627 570.3,3638.7 578.7,3627 581.3,3633.7 583.7,3614.3 585.3,3633.7 588,3627 600.3,3638.7 612,3627 614.7,3637 617,3627 622.7,3638.7 628,3627 630.3,3633.7 632.7,3627 635.3,3637 639.3,3627 642,3637 646,3627 648,3637 651.3,3627 653.7,3633.7 655.3,3614.3 657,3620.3 658.7,3614.3 660.3,3633.7 663.7,3614.3 666,3637 669.3,3614.3 672,3637 675.3,3614.3 678,3633.7 680.3,3589.3 682,3627 684,3614.3 686,3620.3 688,3614.3 690.3,3633.7 694.7,3614.3 697,3637 699.3,3614.3 701.3,3627 702.7,3614.3 705.3,3614.3 708,3637 711.3,3627 713.7,3633.7 716,3614.3 718.7,3637 722,3633.7 724.3,3589.3 727,3627 728.7,3637 731,3614.3 732.7,3627 735.3,3614.3 738.7,3637 741.3,3620.3 743.7,3602 745.3,3614.3 747,3614.3 749.3,3633.7 752,3614.3 753.7,3627 755.3,3602 757,3602 758.7,3577 760.3,3585.3 761.3,3563.7 763,3607 764.7,3602 766,3630.3 768.7,3627 770.3,3633.7 772,3627 773.7,3637 775.3,3614.3 778,3633.7 780.3,3637 783.7,3602 787,3589.3 788.7,3627 791.3,3627 793.7,3637 797,3627 799.3,3637 802.7,3620.3 805.3,3589.3 808,3630.3 809.3,3602 812,3637 814.7,3614.3 817,3633.7 819.7,3602 822,3614.3 824,3602 826,3627 828.7,3637 832,3602 834.7,3627 837,3637 840.3,3614.3 842.7,3637 845.3,3627 847,3637 848.7,3627 850.3,3633.7 852.7,3627 854.7,3637 856,3627 857.7,3589.3 859.3,3602 861,3627 862.7,3614.3 864.3,3623.7 866,3589.3 868,3630.3 871,3638.7 874.3,3614.3 876.7,3630.3 879.3,3633.7 881,3637 882.7,3602 884.7,3614.3 886,3633.7 887.7,3627 889.3,3637 891,3620.3 893.3,3577 895.3,3607 896.7,3613.7 898,3563.7 899,3501.3 900.3,3577 902,3577 903.3,3597 904.7,3590.3 906,3577 908,3614.3 910,3627 912,3602 913.3,3607 914.7,3602 916.7,3637 919.3,3602 922,3638.7 926,3602 928.7,3633.7 931,3627 932.7,3614.3 934.3,3627 936,3614.3 938.7,3633.7 941,3614.3 943.3,3633.7 945.3,3614.3 947.7,3614.3 949.3,3627 952.7,3637 956,3633.7 957.7,3614.3 960,3633.7 962.7,3627 966,3637 969.3,3614.3 971,3620.3 973.3,3614.3 976,3602 979.3,3630.3 982,3638.7 984.3,3614.3 986.7,3637 990,3630.3 992.7,3614.3 995.3,3627 996.7,3633.7 998.7,3627 1001,3632 1003.3,3638.7 1006,3627 1008.7,3633.7 1010,3614.3 1012.7,3614.3 1015.3,3627 1020,3638.7 1024.3,3633.7 1029.3,3627 1034.3,3637 1037.7,3620.3 1040,3614.3 1042,3637 1045.3,3602 1047.7,3630.3 1049.3,3637 1052,3614.3 1055.3,3633.7 1057.7,3637 1060,3627 1062.7,3633.7 1064.3,3614.3 1066,3637 1070,3627 1073.3,3602 1075.3,3633.7 1077.7,3614.3 1079.3,3620.3 1081,3614.3 1083.3,3637 1085.3,3614.3 1087.7,3630.3 1091,3638.7 1094.3,3627 1096.7,3637 1099.3,3627 1102,3632 1104.3,3637 1109.3,3627 1112,3614.3 1114.3,3620.3 1116,3614.3 1118.7,3602 1121,3630.3 1122.7,3637 1125.3,3627 1127.7,3614.3 1130,3637 1132,3627 1134.3,3632 1137.7,3637 1141,3638.7 1145.3,3614.3 1148,3602 1150,3623.7 1151.7,3614.3 1153.3,3630.3 1154.7,3614.3 1156.7,3627 1158.3,3637 1160,3614.3 1162,3577 1164,3614.3 1166.7,3638.7 1169.3,3633.7 1170.7,3627 1172,3637 1174,3614.3 1176,3633.7 1178.3,3627 1180.7,3633.7 1182.7,3638.7 1186,3627 1187.3,3633.7 1189.3,3627 1191.7,3633.7 1195,3638.7 1199.3,3627 1201.7,3630.3 1204,3589.3 1206,3630.3 1208.3,3627 1210,3614.3 1212,3627 1214,3637 1216,3602 1218.3,3620.3 1220,3614.3 1222,3602 1224,3627 1226,3633.7 1227.3,3627 1229.3,3633.7 1230.7,3627 1232.7,3633.7 1235,3637 1238.3,3614.3 1240,3637 1242.7,3627 1244.3,3602 1246,3614.3 1247.7,3614.3 1250,3633.7 1252,3627 1254.3,3589.3 1256.7,3630.3 1259.3,3638.7 1263.3,3627 1266,3637 1269.3,3614.3 1271.7,3633.7 1274,3637 1276,3602 1278.3,3630.3 1280.7,3637 1282.7,3614.3 1285,3602 1287.3,3623.7 1290,3633.7 1293.3,3638.7 1296.7,3602 1298.3,3614.3 1300,3563.7 1301.7,3623.7 1303.3,3602 1305.3,3637 1307.3,3633.7 1309.3,3627 1310.7,3614.3 1313.3,3602 1315,3614.3 1317.3,3637 1319.3,3614.3 1320.7,3623.7 1322,3614.3 1323.3,3623.7 1325,3614.3 1326.7,3620.3 1329.3,3633.7 1331.7,3637 1334,3602 1335.3,3551.3 1337.3,3614.3 1339.3,3633.7 1341.7,3627 1344,3602 1346.7,3623.7 1349,3614.3 1351.7,3637 1354,3627 1356.7,3637 1358.3,3614.3 1360,3627 1361.7,3602 1364,3627 1366.7,3637 1368.3,3633.7 1370.7,3614.3 1373.3,3620.3 1375.3,3614.3 1376.7,3633.7 1379.3,3637 1382.7,3627 1385,3614.3 1387.3,3633.7 1390,3614.3 1392.7,3637 1395,3627 1396.7,3633.7 1398.7,3602 1400.7,3630.3 1403.3,3614.3 1405,3637 1406.7,3602 1409.3,3630.3 1411.7,3637 1414,3627 1416.7,3633.7 1420,3638.7 1423,3627 1423,3639.6" fill="#0000ff" stroke="none"/>
<polyline points="271.5,3637 273,3602 274.7,3620.3 276.3,3614.3 278,3633.7 279.7,3638.7 281.3,3627 283,3637 285.7,3614.3 287.3,3627 288.7,3637 291.3,3627 293.3,3589.3 295.3,3614.3 296.7,3633.7 298,3614.3 299.7,3627 300.7,3633.7 302.3,3589.3 304,3627 305.3,3638.7 307.3,3627 309.7,3637 312,3632 314,3627 315.3,3630.3 317.3,3627 318.7,3637 320.7,3627 323,3632 324.7,3638.7 328,3627 330.3,3607 332.7,3589.3 334.7,3620.3 337.3,3630.3 340.7,3638.7 344.7,3630.3 347.3,3627 348.7,3602 350.7,3620.3 352,3630.3 354,3602 356.3,3614.3 358,3630.3 360.7,3637 363,3602 364.7,3620.3 367.3,3614.3 369.7,3630.3 371.3,3637 373.3,3614.3 375.3,3627 378,3637 380.7,3627 383,3633.7 385.3,3637 387.3,3614.3 388.7,3602 390.7,3627 393,3637 396.3,3637 398.7,3614.3 400.7,3630.3 403,3633.7 405.3,3638.7 408,3633.7 409.7,3627 412,3614.3 413.3,3627 414.7,3614.3 416.7,3630.3 418.7,3614.3 420.7,3627 423,3633.7 424.7,3627 427.3,3637 429.7,3627 432,3614.3 434,3637 436.3,3627 438,3632 440.7,3627 443,3638.7 444.7,3627 446.3,3632 448.7,3627 450.7,3633.7 453,3638.7 458,3630.3 461.3,3627 464,3614.3 466,3602 468,3620.3 470.7,3637 473,3627 474.7,3633.7 477.3,3627 478.7,3632 480.3,3627 482,3632 484.7,3627 487.3,3633.7 489.7,3638.7 493,3632 496.3,3620.3 498,3614.3 499.7,3630.3 503,3638.7 507.3,3627 510.7,3633.7 514,3638.7 517.3,3627 520.7,3614.3 523,3637 525.3,3627 527.3,3614.3 529.7,3633.7 532,3627 534.7,3633.7 537.3,3627 539.7,3638.7 542,3620.3 544,3614.3 546.3,3637 548,3627 550,3614.3 552,3638.7 554.7,3620.3 558,3602 560,3633.7 562,3637 563.7,3627 570.3,3638.7 578.7,3627 581.3,3633.7 583.7,3614.3 585.3,3633.7 588,3627 600.3,3638.7 612,3627 614.7,3637 617,3627 622.7,3638.7 628,3627 630.3,3633.7 632.7,3627 635.3,3637 639.3,3627 642,3637 646,3627 648,3637 651.3,3627 653.7,3633.7 655.3,3614.3 657,3620.3 658.7,3614.3 660.3,3633.7 663.7,3614.3 666,3637 669.3,3614.3 672,3637 675.3,3614.3 678,3633.7 680.3,3589.3 682,3627 684,3614.3 686,3620.3 688,3614.3 690.3,3633.7 694.7,3614.3 697,3637 699.3,3614.3 701.3,3627 702.7,3614.3 705.3,3614.3 708,3637 711.3,3627 713.7,3633.7 716,3614.3 718.7,3637 722,3633.7 724.3,3589.3 727,3627 728.7,3637 731,3614.3 732.7,3627 735.3,3614.3 738.7,3637 741.3,3620.3 743.7,3602 745.3,3614.3 747,3614.3 749.3,3633.7 752,3614.3 753.7,3627 755.3,3602 757,3602 758.7,3577 760.3,3585.3 761.3,3563.7 763,3607 764.7,3602 766,3630.3 768.7,3627 770.3,3633.7 772,3627 773.7,3637 775.3,3614.3 778,3633.7 780.3,3637 783.7,3602 787,3589.3 788.7,3627 791.3,3627 793.7,3637 797,3627 799.3,3637 802.7,3620.3 805.3,3589.3 808,3630.3 809.3,3602 812,3637 814.7,3614.3 817,3633.7 819.7,3602 822,3614.3 824,3602 826,3627 828.7,3637 832,3602 834.7,3627 837,3637 840.3,3614.3 842.7,3637 845.3,3627 847,3637 848.7,3627 850.3,3633.7 852.7,3627 854.7,3637 856,3627 857.7,3589.3 859.3,3602 861,3627 862.7,3614.3 864.3,3623.7 866,3589.3 868,3630.3 871,3638.7 874.3,3614.3 876.7,3630.3 879.3,3633.7 881,3637 882.7,3602 884.7,3614.3 886,3633.7 887.7,3627 889.3,3637 891,3620.3 893.3,3577 895.3,3607 896.7,3613.7 898,3563.7 899,3501.3 900.3,3577 902,3577 903.3,3597 904.7,3590.3 906,3577 908,3614.3 910,3627 912,3602 913.3,3607 914.7,3602 916.7,3637 919.3,3602 922,3638.7 926,3602 928.7,3633.7 931,3627 932.7,3614.3 934.3,3627 936,3614.3 938.7,3633.7 941,3614.3 943.3,3633.7 945.3,3614.3 947.7,3614.3 949.3,3627 952.7,3637 956,3633.7 957.7,3614.3 960,3633.7 962.7,3627 966,3637 969.3,3614.3 971,3620.3 973.3,3614.3 976,3602 979.3,3630.3 982,3638.7 984.3,3614.3 986.7,3637 990,3630.3 992.7,3614.3 995.3,3627 996.7,3633.7 998.7,3627 1001,3632 1003.3,3638.7 1006,3627 1008.7,3633.7 1010,3614.3 1012.7,3614.3 1015.3,3627 1020,3638.7 1024.3,3633.7 1029.3,3627 1034.3,3637 1037.7,3620.3 1040,3614.3 1042,3637 1045.3,3602 1047.7,3630.3 1049.3,3637 1052,3614.3 1055.3,3633.7 1057.7,3637 1060,3627 1062.7,3633.7 1064.3,3614.3 1066,3637 1070,3627 1073.3,3602 1075.3,3633.7 1077.7,3614.3 1079.3,3620.3 1081,3614.3 1083.3,3637 1085.3,3614.3 1087.7,3630.3 1091,3638.7 1094.3,3627 1096.7,3637 1099.3,3627 1102,3632 1104.3,3637 1109.3,3627 1112,3614.3 1114.3,3620.3 1116,3614.3 1118.7,3602 1121,3630.3 1122.7,3637 1125.3,3627 1127.7,3614.3 1130,3637 1132,3627 1134.3,3632 1137.7,3637 1141,3638.7 1145.3,3614.3 1148,3602 1150,3623.7 1151.7,3614.3 1153.3,3630.3 1154.7,3614.3 1156.7,3627 1158.3,3637 1160,3614.3 1162,3577 1164,3614.3 1166.7,3638.7 1169.3,3633.7 1170.7,3627 1172,3637 1174,3614.3 1176,3633.7 1178.3,3627 1180.7,3633.7 1182.7,3638.7 1186,3627 1187.3,3633.7 1189.3,3627 1191.7,3633.7 1195,3638.7 1199.3,3627 1201.7,3630.3 1204,3589.3 1206,3630.3 1208.3,3627 1210,3614.3 1212,3627 1214,3637 1216,3602 1218.3,3620.3 1220,3614.3 1222,3602 1224,3627 1226,3633.7 1227.3,3627 1229.3,3633.7 1230.7,3627 1232.7,3633.7 1235,3637 1238.3,3614.3 1240,3637 1242.7,3627 1244.3,3602 1246,3614.3 1247.7,3614.3 1250,3633.7 1252,3627 1254.3,3589.3 1256.7,3630.3 1259.3,3638.7 1263.3,3627 1266,3637 1269.3,3614.3 1271.7,3633.7 1274,3637 1276,3602 1278.3,3630.3 1280.7,3637 1282.7,3614.3 1285,3602 1287.3,3623.7 1290,3633.7 1293.3,3638.7 1296.7,3602 1298.3,3614.3 1300,3563.7 1301.7,3623.7 1303.3,3602 1305.3,3637 1307.3,3633.7 1309.3,3627 1310.7,3614.3 1313.3,3602 1315,3614.3 1317.3,3637 1319.3,3614.3 1320.7,3623.7 1322,3614.3 1323.3,3623.7 1325,3614.3 1326.7,3620.3 1329.3,3633.7 1331.7,3637 1334,3602 1335.3,3551.3 1337.3,3614.3 1339.3,3633.7 1341.7,3627 1344,3602 1346.7,3623.7 1349,3614.3 1351.7,3637 1354,3627 1356.7,3637 1358.3,3614.3 1360,3627 1361.7,3602 1364,3627 1366.7,3637 1368.3,3633.7 1370.7,3614.3 1373.3,3620.3 1375.3,3614.3 1376.7,3633.7 1379.3,3637 1382.7,3627 1385,3614.3 1387.3,3633.7 1390,3614.3 1392.7,3637 1395,3627 1396.7,3633.7 1398.7,3602 1400.7,3630.3 1403.3,3614.3 1405,3637 1406.7,3602 1409.3,3630.3 1411.7,3637 1414,3627 1416.7,3633.7 1420,3638.7 1423,3627" fill="none" stroke="#000088" stroke-width="0.7"/>
<path d="M274.7,3639.6V3620.3M296.7,3639.6V3633.7M300.7,3639.6V3633.7M315.3,3639.6V3630.3M352,3639.6V3630.3M364.7,3639.6V3620.3M413.3,3639.6V3627M416.7,3639.6V3630.3M423,3639.6V3633.7M438,3639.6V3632M446.3,3639.6V3632M474.7,3639.6V3633.7M478.7,3639.6V3632M482,3639.6V3632M529.7,3639.6V3633.7M534.7,3639.6V3633.7M581.3,3639.6V3633.7M585.3,3639.6V3633.7M630.3,3639.6V3633.7M653.7,3639.6V3633.7M657,3639.6V3620.3M660.3,3639.6V3633.7M678,3639.6V3633.7M682,3639.6V3627M686,3639.6V3620.3M690.3,3639.6V3633.7M701.3,3639.6V3627M713.7,3639.6V3633.7M732.7,3639.6V3627M745.3,3639.6V3614.3M749.3,3639.6V3633.7M753.7,3639.6V3627M757,3639.6V3602M760.3,3639.6V3585.3M763,3639.6V3607M766,3639.6V3630.3M770.3,3639.6V3633.7M788.7,3639.6V3627M808,3639.6V3630.3M817,3639.6V3633.7M822,3639.6V3614.3M850.3,3639.6V3633.7M861,3639.6V3627M864.3,3639.6V3623.7M886,3639.6V3633.7M896.7,3639.6V3613.7M900.3,3639.6V3577M903.3,3639.6V3597M910,3639.6V3627M913.3,3639.6V3607M928.7,3639.6V3633.7M934.3,3639.6V3627M938.7,3639.6V3633.7M943.3,3639.6V3633.7M960,3639.6V3633.7M971,3639.6V3620.3M996.7,3639.6V3633.7M1008.7,3639.6V3633.7M1062.7,3639.6V3633.7M1075.3,3639.6V3633.7M1079.3,3639.6V3620.3M1114.3,3639.6V3620.3M1150,3639.6V3623.7M1153.3,3639.6V3630.3M1176,3639.6V3633.7M1187.3,3639.6V3633.7M1201.7,3639.6V3630.3M1206,3639.6V3630.3M1218.3,3639.6V3620.3M1226,3639.6V3633.7M1229.3,3639.6V3633.7M1246,3639.6V3614.3M1250,3639.6V3633.7M1298.3,3639.6V3614.3M1301.7,3639.6V3623.7M1320.7,3639.6V3623.7M1323.3,3639.6V3623.7M1339.3,3639.6V3633.7M1346.7,3639.6V3623.7M1360,3639.6V3627M1373.3,3639.6V3620.3M1387.3,3639.6V3633.7M1396.7,3639.6V3633.7M1400.7,3639.6V3630.3" fill="none" stroke="#000088" stroke-width="0.8"/>
<path d="M259.2,3501.1 H271.4" fill="none" stroke="#222" stroke-width="1"/>
<path d="M259.2,3639.6 H271.4" fill="none" stroke="#333" stroke-width="1"/>
<path d="M270.9,3500.6 V3640.1" fill="none" stroke="#555" stroke-width="1.3"/>
<text x="251.8" y="3504.4" font-size="12" text-anchor="end" fill="#000">9</text>
<text x="251.8" y="3642.6" font-size="12" text-anchor="end" fill="#000">0</text>
<text x="73" y="3730.5" font-size="23.5" fill="#000">GSM2481668</text>
<polygon points="271.5,3793.5 271.5,3655 272,3655 274.3,3774.6 276.3,3747.4 280.7,3786.6 284.7,3747.4 292,3793.5 298,3747.4 300.7,3701.2 302.3,3747.4 307.3,3793.5 313,3747.4 314.3,3701.2 316.3,3747.4 321.3,3793.5 327.3,3747.4 330.7,3793.5 334.7,3747.4 342,3793.5 348,3747.4 351.3,3793.5 354.7,3747.4 356,3779.7 358,3747.4 360.7,3779.7 364,3747.4 366.3,3793.5 370,3747.4 374.7,3793.5 379.7,3747.4 384.7,3793.5 389.7,3747.4 394.7,3793.5 398,3747.4 399.7,3701.2 401.3,3770.4 404.7,3747.4 409.7,3793.5 414.7,3747.4 428.7,3793.5 440.7,3747.4 449.7,3793.5 456.3,3724.3 458.7,3701.2 463,3793.5 467.3,3747.4 472,3793.5 478,3747.4 481.3,3779.7 484.7,3747.4 486.3,3770.4 487.7,3701.2 489.7,3770.4 492,3793.5 498,3747.4 499.7,3770.4 502,3747.4 505.3,3793.5 512,3747.4 516.3,3793.5 519.7,3747.4 520.7,3701.2 523,3770.4 524.7,3793.5 529,3747.4 554,3793.5 562,3779.7 579.3,3747.4 603.7,3793.5 627.7,3747.4 630.3,3793.5 634.7,3747.4 641.3,3793.5 649.3,3747.4 660.3,3793.5 670.3,3747.4 672.7,3793.5 675.3,3747.4 678.7,3779.7 681.3,3747.4 683.7,3779.7 685.3,3747.4 687,3779.7 689.3,3747.4 691.3,3779.7 693.7,3747.4 698.7,3793.5 702,3747.4 705.3,3701.2 708,3770.4 709.3,3747.4 711.3,3793.5 714.3,3747.4 720.3,3793.5 727,3747.4 730.3,3779.7 732.7,3747.4 734.7,3779.7 738,3701.2 739.7,3770.4 741.3,3747.4 743,3779.7 745.3,3747.4 748,3779.7 751,3701.2 752.7,3747.4 754.3,3701.2 756.3,3747.4 758.7,3747.4 769.3,3793.5 780.3,3747.4 787,3793.5 792,3747.4 793.7,3770.4 795.3,3747.4 798,3793.5 800.3,3747.4 807,3793.5 812.7,3747.4 816,3779.7 818,3747.4 819.3,3701.2 820.3,3655 822,3747.4 823.7,3747.4 828.7,3793.5 834.7,3747.4 838,3793.5 841.3,3701.2 843.7,3770.4 845.3,3779.7 847,3747.4 848.7,3770.4 850.3,3747.4 852.7,3793.5 856,3770.4 857.7,3747.4 859.3,3756.6 860.7,3747.4 874.3,3793.5 888.3,3701.2 891.7,3770.4 893.3,3701.2 895.3,3770.4 896.7,3770.4 899.3,3701.2 902,3747.4 906.7,3793.5 914.3,3747.4 917,3779.7 920,3747.4 929.3,3793.5 939.3,3747.4 941,3770.4 942.7,3747.4 943.7,3770.4 945.3,3747.4 959.3,3793.5 972.7,3747.4 974.3,3770.4 976,3747.4 979.3,3779.7 982.7,3747.4 985,3779.7 987.3,3701.2 990,3770.4 994.3,3747.4 1001,3793.5 1006.7,3747.4 1009.3,3779.7 1012.7,3747.4 1017.7,3793.5 1023.3,3747.4 1029.3,3793.5 1038.7,3747.4 1053.7,3793.5 1068.7,3747.4 1076,3793.5 1083.7,3747.4 1089.3,3793.5 1096,3747.4 1109.3,3793.5 1121.7,3747.4 1136,3793.5 1150,3747.4 1151.7,3779.7 1154,3747.4 1156,3655 1157.3,3770.4 1159.3,3747.4 1162.7,3793.5 1166.7,3747.4 1171.7,3793.5 1178.3,3747.4 1186,3793.5 1192.7,3747.4 1196,3793.5 1199.3,3701.2 1200.7,3747.4 1215,3793.5 1229.3,3747.4 1236,3793.5 1244,3701.2 1253.3,3793.5 1265,3701.2 1267.3,3747.4 1269.3,3793.5 1272.7,3747.4 1274,3779.7 1276,3747.4 1277.3,3779.7 1279.3,3793.5 1282.3,3701.2 1285,3747.4 1289.3,3793.5 1296,3747.4 1305,3793.5 1311.7,3701.2 1314.7,3655 1316.7,3747.4 1319,3655 1320.7,3747.4 1322.7,3747.4 1324,3779.7 1327.3,3747.4 1331.7,3793.5 1336,3747.4 1338.3,3779.7 1340.7,3793.5 1345,3701.2 1346.7,3779.7 1350,3747.4 1354,3793.5 1357.7,3747.4 1359.3,3779.7 1360.3,3701.2 1362.7,3779.7 1364,3747.4 1366.7,3793.5 1371.7,3747.4 1374,3793.5 1378.3,3747.4 1383.3,3793.5 1390.7,3701.2 1393.3,3779.7 1396.7,3747.4 1402.7,3793.5 1407.3,3747.4 1413.3,3793.5 1416.7,3747.4 1418.7,3779.7 1420.7,3747.4 1422.7,3793.5 1422.7,3793.5" fill="#0000ff" stroke="none"/>
<polyline points="271.5,3655 272,3655 274.3,3774.6 276.3,3747.4 280.7,3786.6 284.7,3747.4 292,3793.5 298,3747.4 300.7,3701.2 302.3,3747.4 307.3,3793.5 313,3747.4 314.3,3701.2 316.3,3747.4 321.3,3793.5 327.3,3747.4 330.7,3793.5 334.7,3747.4 342,3793.5 348,3747.4 351.3,3793.5 354.7,3747.4 356,3779.7 358,3747.4 360.7,3779.7 364,3747.4 366.3,3793.5 370,3747.4 374.7,3793.5 379.7,3747.4 384.7,3793.5 389.7,3747.4 394.7,3793.5 398,3747.4 399.7,3701.2 401.3,3770.4 404.7,3747.4 409.7,3793.5 414.7,3747.4 428.7,3793.5 440.7,3747.4 449.7,3793.5 456.3,3724.3 458.7,3701.2 463,3793.5 467.3,3747.4 472,3793.5 478,3747.4 481.3,3779.7 484.7,3747.4 486.3,3770.4 487.7,3701.2 489.7,3770.4 492,3793.5 498,3747.4 499.7,3770.4 502,3747.4 505.3,3793.5 512,3747.4 516.3,3793.5 519.7,3747.4 520.7,3701.2 523,3770.4 524.7,3793.5 529,3747.4 554,3793.5 562,3779.7 579.3,3747.4 603.7,3793.5 627.7,3747.4 630.3,3793.5 634.7,3747.4 641.3,3793.5 649.3,3747.4 660.3,3793.5 670.3,3747.4 672.7,3793.5 675.3,3747.4 678.7,3779.7 681.3,3747.4 683.7,3779.7 685.3,3747.4 687,3779.7 689.3,3747.4 691.3,3779.7 693.7,3747.4 698.7,3793.5 702,3747.4 705.3,3701.2 708,3770.4 709.3,3747.4 711.3,3793.5 714.3,3747.4 720.3,3793.5 727,3747.4 730.3,3779.7 732.7,3747.4 734.7,3779.7 738,3701.2 739.7,3770.4 741.3,3747.4 743,3779.7 745.3,3747.4 748,3779.7 751,3701.2 752.7,3747.4 754.3,3701.2 756.3,3747.4 758.7,3747.4 769.3,3793.5 780.3,3747.4 787,3793.5 792,3747.4 793.7,3770.4 795.3,3747.4 798,3793.5 800.3,3747.4 807,3793.5 812.7,3747.4 816,3779.7 818,3747.4 819.3,3701.2 820.3,3655 822,3747.4 823.7,3747.4 828.7,3793.5 834.7,3747.4 838,3793.5 841.3,3701.2 843.7,3770.4 845.3,3779.7 847,3747.4 848.7,3770.4 850.3,3747.4 852.7,3793.5 856,3770.4 857.7,3747.4 859.3,3756.6 860.7,3747.4 874.3,3793.5 888.3,3701.2 891.7,3770.4 893.3,3701.2 895.3,3770.4 896.7,3770.4 899.3,3701.2 902,3747.4 906.7,3793.5 914.3,3747.4 917,3779.7 920,3747.4 929.3,3793.5 939.3,3747.4 941,3770.4 942.7,3747.4 943.7,3770.4 945.3,3747.4 959.3,3793.5 972.7,3747.4 974.3,3770.4 976,3747.4 979.3,3779.7 982.7,3747.4 985,3779.7 987.3,3701.2 990,3770.4 994.3,3747.4 1001,3793.5 1006.7,3747.4 1009.3,3779.7 1012.7,3747.4 1017.7,3793.5 1023.3,3747.4 1029.3,3793.5 1038.7,3747.4 1053.7,3793.5 1068.7,3747.4 1076,3793.5 1083.7,3747.4 1089.3,3793.5 1096,3747.4 1109.3,3793.5 1121.7,3747.4 1136,3793.5 1150,3747.4 1151.7,3779.7 1154,3747.4 1156,3655 1157.3,3770.4 1159.3,3747.4 1162.7,3793.5 1166.7,3747.4 1171.7,3793.5 1178.3,3747.4 1186,3793.5 1192.7,3747.4 1196,3793.5 1199.3,3701.2 1200.7,3747.4 1215,3793.5 1229.3,3747.4 1236,3793.5 1244,3701.2 1253.3,3793.5 1265,3701.2 1267.3,3747.4 1269.3,3793.5 1272.7,3747.4 1274,3779.7 1276,3747.4 1277.3,3779.7 1279.3,3793.5 1282.3,3701.2 1285,3747.4 1289.3,3793.5 1296,3747.4 1305,3793.5 1311.7,3701.2 1314.7,3655 1316.7,3747.4 1319,3655 1320.7,3747.4 1322.7,3747.4 1324,3779.7 1327.3,3747.4 1331.7,3793.5 1336,3747.4 1338.3,3779.7 1340.7,3793.5 1345,3701.2 1346.7,3779.7 1350,3747.4 1354,3793.5 1357.7,3747.4 1359.3,3779.7 1360.3,3701.2 1362.7,3779.7 1364,3747.4 1366.7,3793.5 1371.7,3747.4 1374,3793.5 1378.3,3747.4 1383.3,3793.5 1390.7,3701.2 1393.3,3779.7 1396.7,3747.4 1402.7,3793.5 1407.3,3747.4 1413.3,3793.5 1416.7,3747.4 1418.7,3779.7 1420.7,3747.4 1422.7,3793.5" fill="none" stroke="#000088" stroke-width="0.7"/>
<path d="M274.3,3793.5V3774.6M280.7,3793.5V3786.6M356,3793.5V3779.7M360.7,3793.5V3779.7M401.3,3793.5V3770.4M481.3,3793.5V3779.7M486.3,3793.5V3770.4M499.7,3793.5V3770.4M678.7,3793.5V3779.7M683.7,3793.5V3779.7M687,3793.5V3779.7M691.3,3793.5V3779.7M708,3793.5V3770.4M730.3,3793.5V3779.7M734.7,3793.5V3779.7M739.7,3793.5V3770.4M743,3793.5V3779.7M748,3793.5V3779.7M752.7,3793.5V3747.4M756.3,3793.5V3747.4M793.7,3793.5V3770.4M816,3793.5V3779.7M822,3793.5V3747.4M845.3,3793.5V3779.7M848.7,3793.5V3770.4M859.3,3793.5V3756.6M891.7,3793.5V3770.4M895.3,3793.5V3770.4M896.7,3793.5V3770.4M917,3793.5V3779.7M941,3793.5V3770.4M943.7,3793.5V3770.4M974.3,3793.5V3770.4M979.3,3793.5V3779.7M985,3793.5V3779.7M990,3793.5V3770.4M1009.3,3793.5V3779.7M1151.7,3793.5V3779.7M1157.3,3793.5V3770.4M1274,3793.5V3779.7M1316.7,3793.5V3747.4M1320.7,3793.5V3747.4M1324,3793.5V3779.7M1346.7,3793.5V3779.7M1359.3,3793.5V3779.7M1362.7,3793.5V3779.7M1393.3,3793.5V3779.7M1418.7,3793.5V3779.7" fill="none" stroke="#000088" stroke-width="0.8"/>
<path d="M259.2,3655 H271.4" fill="none" stroke="#222" stroke-width="1"/>
<path d="M259.2,3793.5 H271.4" fill="none" stroke="#333" stroke-width="1"/>
<path d="M270.9,3654.5 V3794" fill="none" stroke="#555" stroke-width="1.3"/>
<text x="251.8" y="3658.3" font-size="12" text-anchor="end" fill="#000">9</text>
<text x="251.8" y="3796.5" font-size="12" text-anchor="end" fill="#000">0</text>
<text x="988.3" y="3903.5" font-size="36" fill="#000">LOC105369376</text>
<rect x="1075.3" y="3934" width="10.6" height="47" fill="#000"/>
<line x1="1085" y1="3957.5" x2="1157" y2="3957.5" stroke="#000" stroke-width="1"/>
<line x1="1157" y1="3934" x2="1157" y2="3981" stroke="#000" stroke-width="2"/>
<path d="M1107.1,3948 L1097.4,3957.5 L1107.1,3966.5" fill="none" stroke="#000" stroke-width="1"/>
<path d="M1144.5,3948 L1134.8,3957.5 L1144.5,3966.5" fill="none" stroke="#000" stroke-width="1"/>
<text x="75" y="4109.4" font-size="47" fill="#000">chr11</text>
<rect x="271" y="4063" width="1152.5" height="57" fill="#c8c8c8"/>
<line x1="271" y1="4063" x2="1423.5" y2="4063" stroke="#777" stroke-width="1.8"/>
<line x1="271" y1="4120.5" x2="1423.5" y2="4120.5" stroke="#555" stroke-width="1.4"/>
<line x1="297.7" y1="4120" x2="297.7" y2="4150.5" stroke="#555" stroke-width="1.4"/>
<line x1="331.4" y1="4120" x2="331.4" y2="4150.5" stroke="#555" stroke-width="1.4"/>
<line x1="365.1" y1="4120" x2="365.1" y2="4150.5" stroke="#555" stroke-width="1.4"/>
<line x1="398.8" y1="4120" x2="398.8" y2="4195" stroke="#555" stroke-width="1.4"/>
<text x="398.8" y="4212" font-size="23.5" text-anchor="middle" fill="#000">72.49Mb</text>
<line x1="432.5" y1="4120" x2="432.5" y2="4150.5" stroke="#555" stroke-width="1.4"/>
<line x1="466.2" y1="4120" x2="466.2" y2="4150.5" stroke="#555" stroke-width="1.4"/>
<line x1="499.9" y1="4120" x2="499.9" y2="4150.5" stroke="#555" stroke-width="1.4"/>
<line x1="533.7" y1="4120" x2="533.7" y2="4150.5" stroke="#555" stroke-width="1.4"/>
<line x1="567.4" y1="4120" x2="567.4" y2="4195" stroke="#555" stroke-width="1.4"/>
<text x="567.4" y="4212" font-size="23.5" text-anchor="middle" fill="#000">72.5Mb</text>
<line x1="601.1" y1="4120" x2="601.1" y2="4150.5" stroke="#555" stroke-width="1.4"/>
<line x1="634.8" y1="4120" x2="634.8" y2="4150.5" stroke="#555" stroke-width="1.4"/>
<line x1="668.5" y1="4120" x2="668.5" y2="4150.5" stroke="#555" stroke-width="1.4"/>
<line x1="702.2" y1="4120" x2="702.2" y2="4150.5" stroke="#555" stroke-width="1.4"/>
<line x1="735.9" y1="4120" x2="735.9" y2="4195" stroke="#555" stroke-width="1.4"/>
<text x="735.9" y="4212" font-size="23.5" text-anchor="middle" fill="#000">72.51Mb</text>
<line x1="769.7" y1="4120" x2="769.7" y2="4150.5" stroke="#555" stroke-width="1.4"/>
<line x1="803.4" y1="4120" x2="803.4" y2="4150.5" stroke="#555" stroke-width="1.4"/>
<line x1="837.1" y1="4120" x2="837.1" y2="4150.5" stroke="#555" stroke-width="1.4"/>
<line x1="870.8" y1="4120" x2="870.8" y2="4150.5" stroke="#555" stroke-width="1.4"/>
<line x1="904.5" y1="4120" x2="904.5" y2="4195" stroke="#555" stroke-width="1.4"/>
<text x="904.5" y="4212" font-size="23.5" text-anchor="middle" fill="#000">72.52Mb</text>
<line x1="938.2" y1="4120" x2="938.2" y2="4150.5" stroke="#555" stroke-width="1.4"/>
<line x1="971.9" y1="4120" x2="971.9" y2="4150.5" stroke="#555" stroke-width="1.4"/>
<line x1="1005.7" y1="4120" x2="1005.7" y2="4150.5" stroke="#555" stroke-width="1.4"/>
<line x1="1039.4" y1="4120" x2="1039.4" y2="4150.5" stroke="#555" stroke-width="1.4"/>
<line x1="1073.1" y1="4120" x2="1073.1" y2="4195" stroke="#555" stroke-width="1.4"/>
<text x="1073.1" y="4212" font-size="23.5" text-anchor="middle" fill="#000">72.53Mb</text>
<line x1="1106.8" y1="4120" x2="1106.8" y2="4150.5" stroke="#555" stroke-width="1.4"/>
<line x1="1140.5" y1="4120" x2="1140.5" y2="4150.5" stroke="#555" stroke-width="1.4"/>
<line x1="1174.2" y1="4120" x2="1174.2" y2="4150.5" stroke="#555" stroke-width="1.4"/>
<line x1="1207.9" y1="4120" x2="1207.9" y2="4150.5" stroke="#555" stroke-width="1.4"/>
<line x1="1241.6" y1="4120" x2="1241.6" y2="4195" stroke="#555" stroke-width="1.4"/>
<text x="1241.6" y="4212" font-size="23.5" text-anchor="middle" fill="#000">72.54Mb</text>
<line x1="1275.4" y1="4120" x2="1275.4" y2="4150.5" stroke="#555" stroke-width="1.4"/>
<line x1="1309.1" y1="4120" x2="1309.1" y2="4150.5" stroke="#555" stroke-width="1.4"/>
<line x1="1342.8" y1="4120" x2="1342.8" y2="4150.5" stroke="#555" stroke-width="1.4"/>
<line x1="1376.5" y1="4120" x2="1376.5" y2="4150.5" stroke="#555" stroke-width="1.4"/>
<line x1="1410.2" y1="4120" x2="1410.2" y2="4195" stroke="#555" stroke-width="1.4"/>
<text x="1410.2" y="4212" font-size="23.5" text-anchor="middle" fill="#000">72.55Mb</text>
</svg></body></html>
